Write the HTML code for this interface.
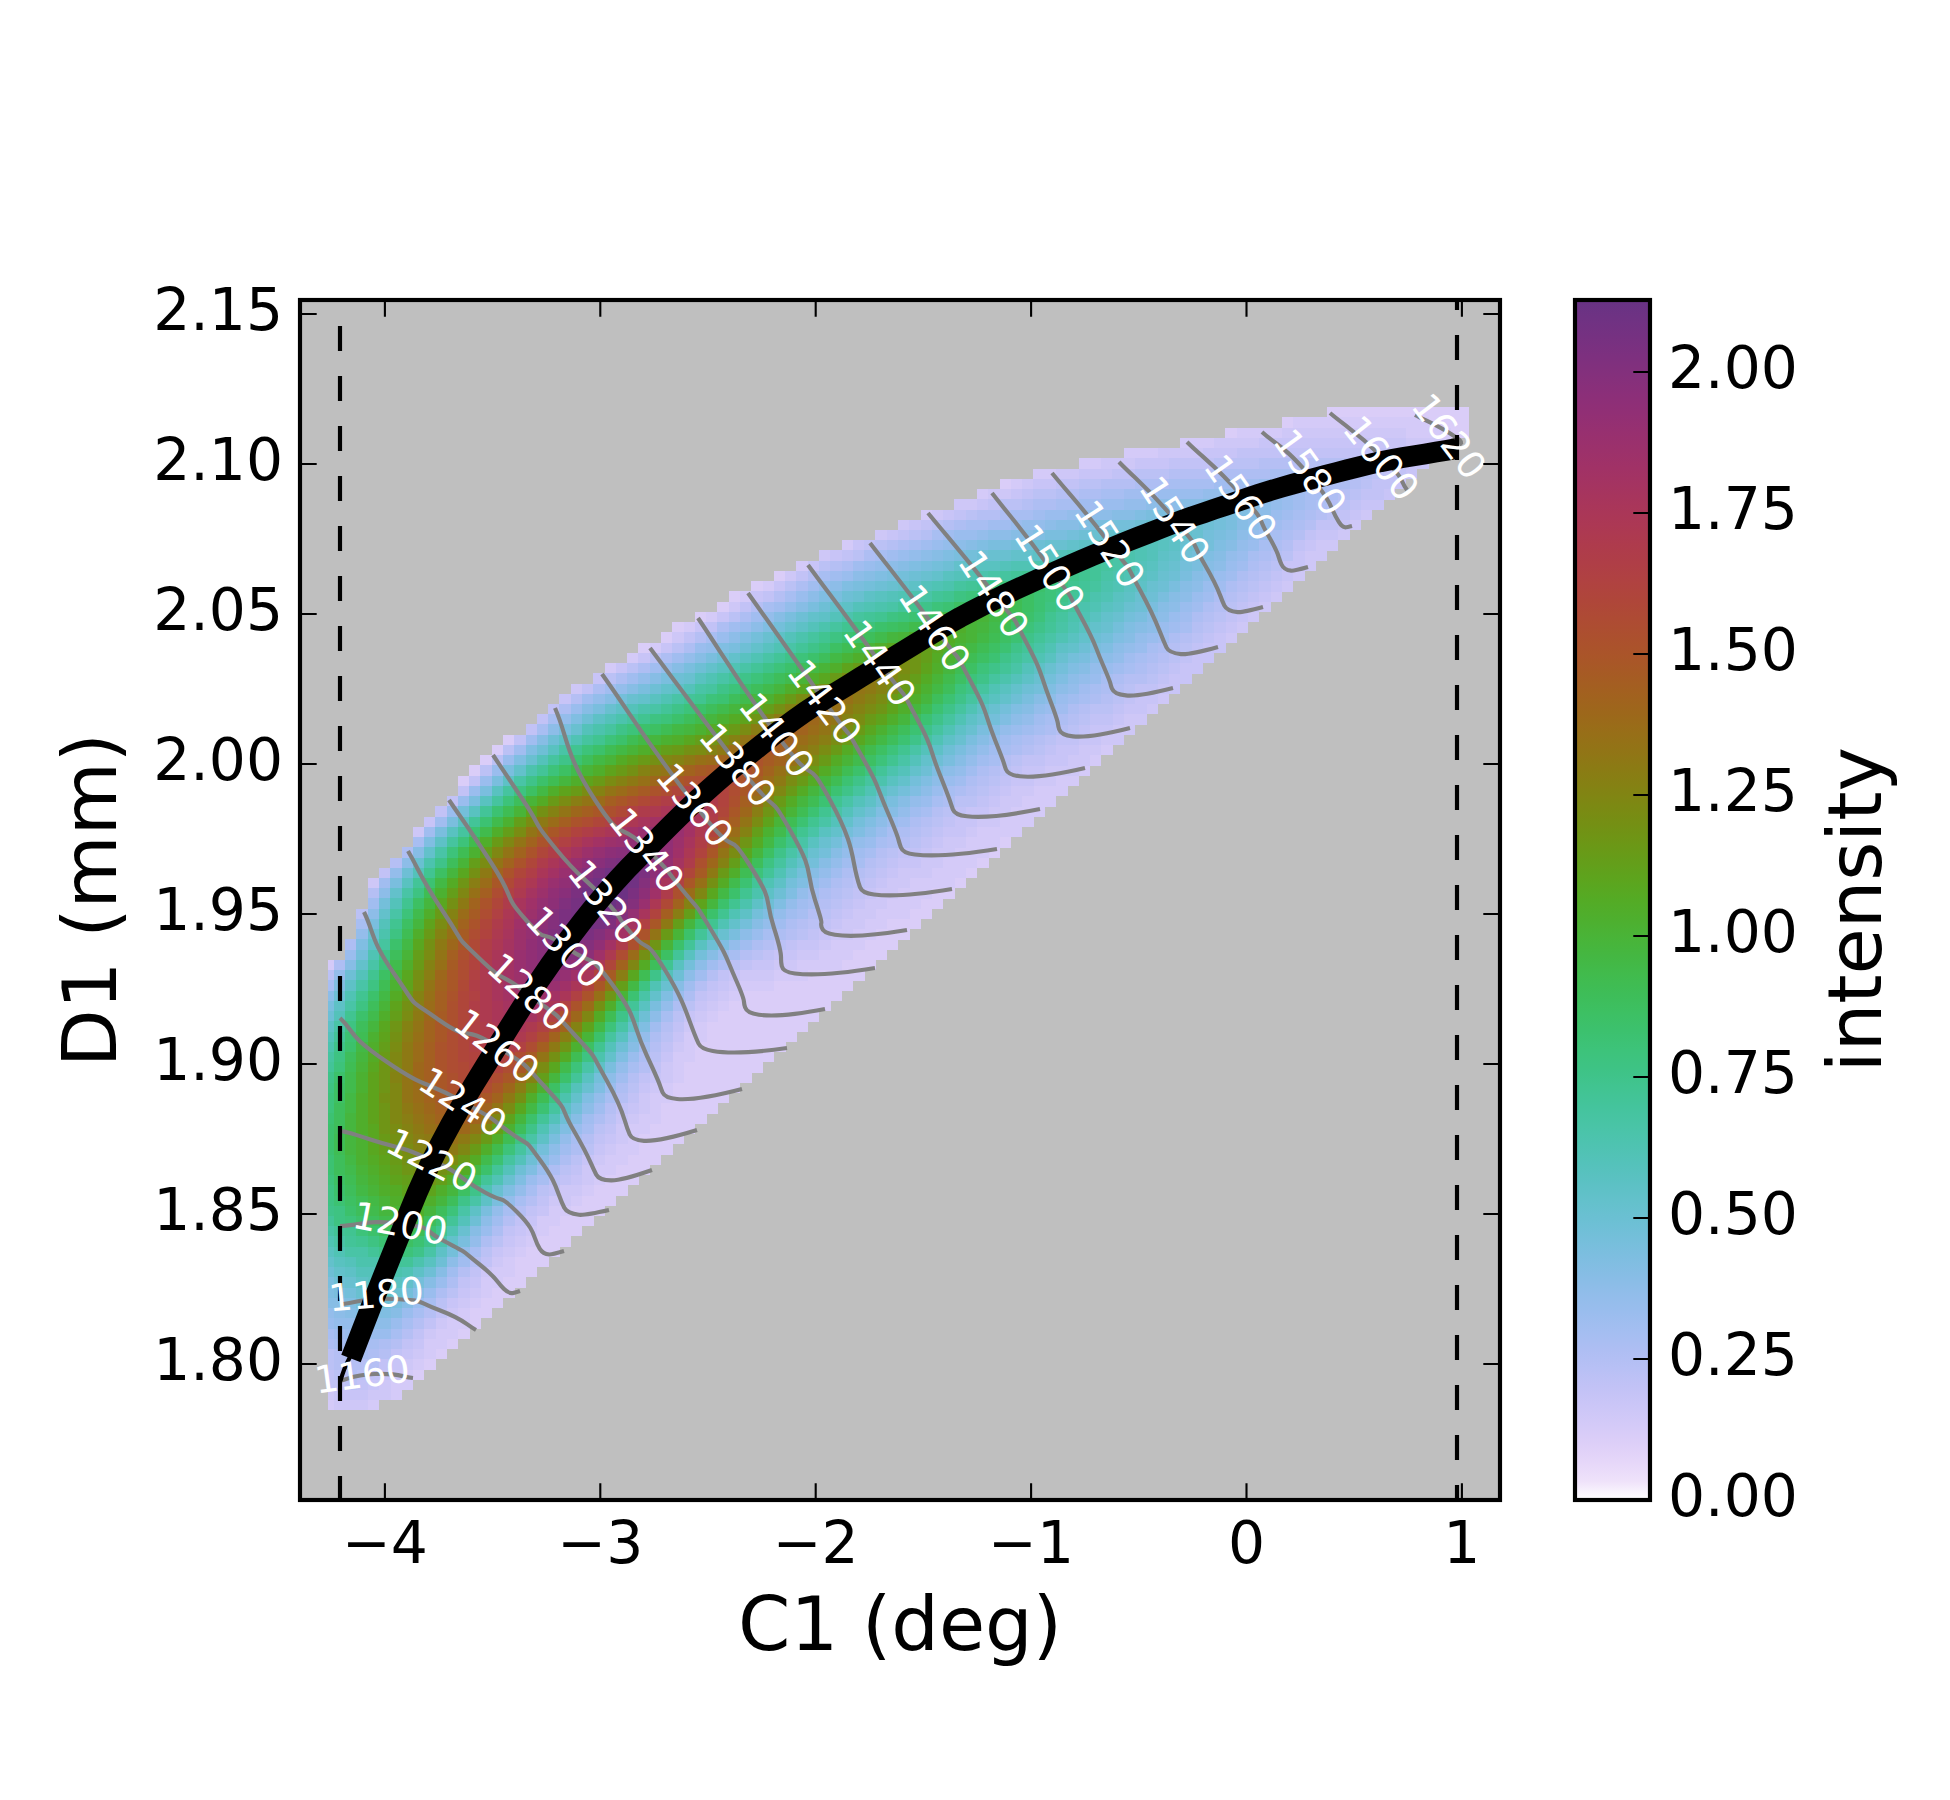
<!DOCTYPE html>
<html><head><meta charset="utf-8"><title>tuning curve</title>
<style>html,body{margin:0;padding:0;background:#fff}svg{display:block}text{font-family:"DejaVu Sans","Liberation Sans",sans-serif}</style>
</head><body>
<svg width="1950" height="1800" viewBox="0 0 1950 1800">
<defs><clipPath id="axc"><rect x="300" y="300" width="1200" height="1200"/></clipPath>
<linearGradient id="cb" x1="0" y1="1" x2="0" y2="0"><stop offset="0.0000" stop-color="#ffffff"/><stop offset="0.0156" stop-color="#efe2fa"/><stop offset="0.0312" stop-color="#e6d7f9"/><stop offset="0.0469" stop-color="#ddcff8"/><stop offset="0.0625" stop-color="#d4caf8"/><stop offset="0.0781" stop-color="#cbc6f7"/><stop offset="0.0938" stop-color="#c2c2f6"/><stop offset="0.1094" stop-color="#b8c0f5"/><stop offset="0.1250" stop-color="#aebef3"/><stop offset="0.1406" stop-color="#a4bef1"/><stop offset="0.1562" stop-color="#9abdee"/><stop offset="0.1719" stop-color="#91bdea"/><stop offset="0.1875" stop-color="#87bde5"/><stop offset="0.2031" stop-color="#7dbee0"/><stop offset="0.2188" stop-color="#74bfda"/><stop offset="0.2344" stop-color="#6bc0d3"/><stop offset="0.2500" stop-color="#63c1cb"/><stop offset="0.2656" stop-color="#5bc1c3"/><stop offset="0.2812" stop-color="#54c2ba"/><stop offset="0.2969" stop-color="#4ec3b0"/><stop offset="0.3125" stop-color="#49c4a6"/><stop offset="0.3281" stop-color="#44c49c"/><stop offset="0.3438" stop-color="#41c491"/><stop offset="0.3594" stop-color="#3ec385"/><stop offset="0.3750" stop-color="#3dc37a"/><stop offset="0.3906" stop-color="#3cc16e"/><stop offset="0.4062" stop-color="#3dc063"/><stop offset="0.4219" stop-color="#3ebd58"/><stop offset="0.4375" stop-color="#41bb4d"/><stop offset="0.4531" stop-color="#44b742"/><stop offset="0.4688" stop-color="#49b438"/><stop offset="0.4844" stop-color="#4eaf2e"/><stop offset="0.5000" stop-color="#54ab25"/><stop offset="0.5156" stop-color="#5ca51e"/><stop offset="0.5312" stop-color="#649e1a"/><stop offset="0.5469" stop-color="#6c9716"/><stop offset="0.5625" stop-color="#749014"/><stop offset="0.5781" stop-color="#7c8913"/><stop offset="0.5938" stop-color="#848213"/><stop offset="0.6094" stop-color="#8b7b14"/><stop offset="0.6250" stop-color="#927416"/><stop offset="0.6406" stop-color="#986e18"/><stop offset="0.6562" stop-color="#9d671b"/><stop offset="0.6719" stop-color="#a2611f"/><stop offset="0.6875" stop-color="#a65b24"/><stop offset="0.7031" stop-color="#aa5529"/><stop offset="0.7188" stop-color="#ac502e"/><stop offset="0.7344" stop-color="#ae4b34"/><stop offset="0.7500" stop-color="#af463a"/><stop offset="0.7656" stop-color="#b04241"/><stop offset="0.7812" stop-color="#af3e47"/><stop offset="0.7969" stop-color="#ae3b4d"/><stop offset="0.8125" stop-color="#ac3854"/><stop offset="0.8281" stop-color="#a9365a"/><stop offset="0.8438" stop-color="#a53460"/><stop offset="0.8594" stop-color="#a13266"/><stop offset="0.8750" stop-color="#9c316b"/><stop offset="0.8906" stop-color="#973070"/><stop offset="0.9062" stop-color="#912f75"/><stop offset="0.9219" stop-color="#8b2f79"/><stop offset="0.9375" stop-color="#84307c"/><stop offset="0.9531" stop-color="#7d307f"/><stop offset="0.9688" stop-color="#763181"/><stop offset="0.9844" stop-color="#6f3283"/><stop offset="1.0000" stop-color="#673384"/></linearGradient></defs>
<rect width="1950" height="1800" fill="#fff"/>
<rect x="300" y="300" width="1200" height="1200" fill="#bfbfbf"/>
<g clip-path="url(#axc)"><g shape-rendering="crispEdges"><path fill="#dacdf8" d="M412.7 1369.2h11.6v10.5h-11.6zM424 1359h11.6v10.5h-11.6zM435.3 1348.7h11.6v10.5h-11.6zM446.6 1338.5h11.6v10.5h-11.6zM457.9 1328.3h11.6v10.5h-11.6zM469.2 1318h11.6v10.5h-11.6zM469.2 1307.8h11.6v10.5h-11.6zM480.4 1307.8h11.6v10.5h-11.6zM480.4 1297.6h11.6v10.5h-11.6zM491.7 1297.6h11.6v10.5h-11.6zM491.7 1287.3h11.6v10.5h-11.6zM503 1287.3h11.6v10.5h-11.6zM503 1277.1h11.6v10.5h-11.6zM514.3 1277.1h11.6v10.5h-11.6zM514.3 1266.9h11.6v10.5h-11.6zM525.6 1266.9h11.6v10.5h-11.6zM514.3 1256.6h11.6v10.5h-11.6zM525.6 1256.6h11.6v10.5h-11.6zM536.9 1256.6h11.6v10.5h-11.6zM525.6 1246.4h11.6v10.5h-11.6zM536.9 1246.4h11.6v10.5h-11.6zM548.2 1246.4h11.6v10.5h-11.6zM536.9 1236.2h11.6v10.5h-11.6zM548.2 1236.2h11.6v10.5h-11.6zM559.4 1236.2h11.6v10.5h-11.6zM548.2 1225.9h11.6v10.5h-11.6zM559.4 1225.9h11.6v10.5h-11.6zM570.7 1225.9h11.6v10.5h-11.6zM559.4 1215.7h11.6v10.5h-11.6zM570.7 1215.7h11.6v10.5h-11.6zM582 1215.7h11.6v10.5h-11.6zM570.7 1205.5h11.6v10.5h-11.6zM582 1205.5h11.6v10.5h-11.6zM593.3 1205.5h11.6v10.5h-11.6zM582 1195.2h11.6v10.5h-11.6zM593.3 1195.2h11.6v10.5h-11.6zM604.6 1195.2h11.6v10.5h-11.6zM593.3 1185h11.6v10.5h-11.6zM604.6 1185h11.6v10.5h-11.6zM615.9 1185h11.6v10.5h-11.6zM604.6 1174.7h11.6v10.5h-11.6zM615.9 1174.7h11.6v10.5h-11.6zM627.2 1174.7h11.6v10.5h-11.6zM615.9 1164.5h11.6v10.5h-11.6zM627.2 1164.5h11.6v10.5h-11.6zM638.4 1164.5h11.6v10.5h-11.6zM627.2 1154.3h11.6v10.5h-11.6zM638.4 1154.3h11.6v10.5h-11.6zM649.7 1154.3h11.6v10.5h-11.6zM638.4 1144h11.6v10.5h-11.6zM649.7 1144h11.6v10.5h-11.6zM661 1144h11.6v10.5h-11.6zM638.4 1133.8h11.6v10.5h-11.6zM649.7 1133.8h11.6v10.5h-11.6zM661 1133.8h11.6v10.5h-11.6zM672.3 1133.8h11.6v10.5h-11.6zM649.7 1123.6h11.6v10.5h-11.6zM661 1123.6h11.6v10.5h-11.6zM672.3 1123.6h11.6v10.5h-11.6zM683.6 1123.6h11.6v10.5h-11.6zM661 1113.3h11.6v10.5h-11.6zM672.3 1113.3h11.6v10.5h-11.6zM683.6 1113.3h11.6v10.5h-11.6zM694.9 1113.3h11.6v10.5h-11.6zM661 1103.1h11.6v10.5h-11.6zM672.3 1103.1h11.6v10.5h-11.6zM683.6 1103.1h11.6v10.5h-11.6zM694.9 1103.1h11.6v10.5h-11.6zM706.1 1103.1h11.6v10.5h-11.6zM672.3 1092.9h11.6v10.5h-11.6zM683.6 1092.9h11.6v10.5h-11.6zM694.9 1092.9h11.6v10.5h-11.6zM706.1 1092.9h11.6v10.5h-11.6zM717.4 1092.9h11.6v10.5h-11.6zM672.3 1082.6h11.6v10.5h-11.6zM683.6 1082.6h11.6v10.5h-11.6zM694.9 1082.6h11.6v10.5h-11.6zM706.1 1082.6h11.6v10.5h-11.6zM717.4 1082.6h11.6v10.5h-11.6zM728.7 1082.6h11.6v10.5h-11.6zM683.6 1072.4h11.6v10.5h-11.6zM694.9 1072.4h11.6v10.5h-11.6zM706.1 1072.4h11.6v10.5h-11.6zM717.4 1072.4h11.6v10.5h-11.6zM728.7 1072.4h11.6v10.5h-11.6zM740 1072.4h11.6v10.5h-11.6zM683.6 1062.2h11.6v10.5h-11.6zM694.9 1062.2h11.6v10.5h-11.6zM706.1 1062.2h11.6v10.5h-11.6zM717.4 1062.2h11.6v10.5h-11.6zM728.7 1062.2h11.6v10.5h-11.6zM740 1062.2h11.6v10.5h-11.6zM751.3 1062.2h11.6v10.5h-11.6zM694.9 1051.9h11.6v10.5h-11.6zM706.1 1051.9h11.6v10.5h-11.6zM717.4 1051.9h11.6v10.5h-11.6zM728.7 1051.9h11.6v10.5h-11.6zM740 1051.9h11.6v10.5h-11.6zM751.3 1051.9h11.6v10.5h-11.6zM762.6 1051.9h11.6v10.5h-11.6zM694.9 1041.7h11.6v10.5h-11.6zM706.1 1041.7h11.6v10.5h-11.6zM717.4 1041.7h11.6v10.5h-11.6zM728.7 1041.7h11.6v10.5h-11.6zM740 1041.7h11.6v10.5h-11.6zM751.3 1041.7h11.6v10.5h-11.6zM762.6 1041.7h11.6v10.5h-11.6zM773.9 1041.7h11.6v10.5h-11.6zM706.1 1031.5h11.6v10.5h-11.6zM717.4 1031.5h11.6v10.5h-11.6zM728.7 1031.5h11.6v10.5h-11.6zM740 1031.5h11.6v10.5h-11.6zM751.3 1031.5h11.6v10.5h-11.6zM762.6 1031.5h11.6v10.5h-11.6zM773.9 1031.5h11.6v10.5h-11.6zM785.1 1031.5h11.6v10.5h-11.6zM706.1 1021.2h11.6v10.5h-11.6zM717.4 1021.2h11.6v10.5h-11.6zM728.7 1021.2h11.6v10.5h-11.6zM740 1021.2h11.6v10.5h-11.6zM751.3 1021.2h11.6v10.5h-11.6zM762.6 1021.2h11.6v10.5h-11.6zM773.9 1021.2h11.6v10.5h-11.6zM785.1 1021.2h11.6v10.5h-11.6zM796.4 1021.2h11.6v10.5h-11.6zM717.4 1011h11.6v10.5h-11.6zM728.7 1011h11.6v10.5h-11.6zM740 1011h11.6v10.5h-11.6zM751.3 1011h11.6v10.5h-11.6zM762.6 1011h11.6v10.5h-11.6zM773.9 1011h11.6v10.5h-11.6zM785.1 1011h11.6v10.5h-11.6zM796.4 1011h11.6v10.5h-11.6zM807.7 1011h11.6v10.5h-11.6zM728.7 1000.8h11.6v10.5h-11.6zM740 1000.8h11.6v10.5h-11.6zM751.3 1000.8h11.6v10.5h-11.6zM762.6 1000.8h11.6v10.5h-11.6zM773.9 1000.8h11.6v10.5h-11.6zM785.1 1000.8h11.6v10.5h-11.6zM796.4 1000.8h11.6v10.5h-11.6zM807.7 1000.8h11.6v10.5h-11.6zM819 1000.8h11.6v10.5h-11.6zM740 990.5h11.6v10.5h-11.6zM751.3 990.5h11.6v10.5h-11.6zM762.6 990.5h11.6v10.5h-11.6zM773.9 990.5h11.6v10.5h-11.6zM785.1 990.5h11.6v10.5h-11.6zM796.4 990.5h11.6v10.5h-11.6zM807.7 990.5h11.6v10.5h-11.6zM819 990.5h11.6v10.5h-11.6zM830.3 990.5h11.6v10.5h-11.6zM773.9 980.3h11.6v10.5h-11.6zM785.1 980.3h11.6v10.5h-11.6zM796.4 980.3h11.6v10.5h-11.6zM807.7 980.3h11.6v10.5h-11.6zM819 980.3h11.6v10.5h-11.6zM830.3 980.3h11.6v10.5h-11.6zM841.6 980.3h11.6v10.5h-11.6zM807.7 970h11.6v10.5h-11.6zM819 970h11.6v10.5h-11.6zM830.3 970h11.6v10.5h-11.6zM841.6 970h11.6v10.5h-11.6zM852.9 970h11.6v10.5h-11.6zM841.6 959.8h11.6v10.5h-11.6zM852.9 959.8h11.6v10.5h-11.6zM864.1 959.8h11.6v10.5h-11.6zM852.9 949.6h11.6v10.5h-11.6zM864.1 949.6h11.6v10.5h-11.6zM875.4 949.6h11.6v10.5h-11.6zM864.1 939.3h11.6v10.5h-11.6zM875.4 939.3h11.6v10.5h-11.6zM886.7 939.3h11.6v10.5h-11.6zM875.4 929.1h11.6v10.5h-11.6zM886.7 929.1h11.6v10.5h-11.6zM898 929.1h11.6v10.5h-11.6zM886.7 918.9h11.6v10.5h-11.6zM898 918.9h11.6v10.5h-11.6zM909.3 918.9h11.6v10.5h-11.6zM909.3 908.6h11.6v10.5h-11.6zM920.6 908.6h11.6v10.5h-11.6zM920.6 898.4h11.6v10.5h-11.6zM931.8 898.4h11.6v10.5h-11.6zM931.8 888.2h11.6v10.5h-11.6zM943.1 888.2h11.6v10.5h-11.6zM954.4 877.9h11.6v10.5h-11.6zM965.7 867.7h11.6v10.5h-11.6zM977 857.5h11.6v10.5h-11.6zM988.3 847.2h11.6v10.5h-11.6zM999.6 837h11.6v10.5h-11.6zM457.9 775.6h11.6v10.5h-11.6zM469.2 765.3h11.6v10.5h-11.6zM480.4 755.1h11.6v10.5h-11.6zM491.7 744.9h11.6v10.5h-11.6zM503 734.6h11.6v10.5h-11.6zM638.4 642.5h11.6v10.5h-11.6zM661 632.3h11.6v10.5h-11.6zM672.3 622.1h11.6v10.5h-11.6zM694.9 611.8h11.6v10.5h-11.6zM717.4 601.6h11.6v10.5h-11.6zM728.7 591.4h11.6v10.5h-11.6zM751.3 581.1h11.6v10.5h-11.6zM773.9 570.9h11.6v10.5h-11.6zM999.6 478.8h11.6v10.5h-11.6zM1225.3 427.6h11.6v10.5h-11.6zM1451 427.6h11.6v10.5h-11.6zM1462.2 427.6h6.4v10.5h-6.4zM1281.7 417.4h11.6v10.5h-11.6zM1428.4 417.4h11.6v10.5h-11.6zM1439.7 417.4h11.6v10.5h-11.6zM1451 417.4h11.6v10.5h-11.6zM1462.2 417.4h6.4v10.5h-6.4zM1326.8 407.1h11.6v10.5h-11.6zM1338.1 407.1h11.6v10.5h-11.6zM1349.4 407.1h11.6v10.5h-11.6zM1360.7 407.1h11.6v10.5h-11.6zM1372 407.1h11.6v10.5h-11.6zM1383.2 407.1h11.6v10.5h-11.6zM1394.5 407.1h11.6v10.5h-11.6zM1405.8 407.1h11.6v10.5h-11.6zM1417.1 407.1h11.6v10.5h-11.6zM1428.4 407.1h11.6v10.5h-11.6zM1439.7 407.1h11.6v10.5h-11.6zM1451 407.1h11.6v10.5h-11.6zM1462.2 407.1h6.4v10.5h-6.4z"/><path fill="#d4caf8" d="M328.1 1399.9h5.9v10.5h-5.9zM367.6 1399.9h11.6v10.5h-11.6zM390.2 1389.7h11.6v10.5h-11.6zM390.2 1379.4h11.6v10.5h-11.6zM401.5 1379.4h11.6v10.5h-11.6zM401.5 1369.2h11.6v10.5h-11.6zM412.7 1359h11.6v10.5h-11.6zM424 1348.7h11.6v10.5h-11.6zM424 1338.5h11.6v10.5h-11.6zM435.3 1338.5h11.6v10.5h-11.6zM435.3 1328.3h11.6v10.5h-11.6zM446.6 1328.3h11.6v10.5h-11.6zM446.6 1318h11.6v10.5h-11.6zM457.9 1318h11.6v10.5h-11.6zM457.9 1307.8h11.6v10.5h-11.6zM469.2 1297.6h11.6v10.5h-11.6zM480.4 1287.3h11.6v10.5h-11.6zM480.4 1277.1h11.6v10.5h-11.6zM491.7 1277.1h11.6v10.5h-11.6zM491.7 1266.9h11.6v10.5h-11.6zM503 1266.9h11.6v10.5h-11.6zM503 1256.6h11.6v10.5h-11.6zM514.3 1246.4h11.6v10.5h-11.6zM525.6 1236.2h11.6v10.5h-11.6zM536.9 1225.9h11.6v10.5h-11.6zM536.9 1215.7h11.6v10.5h-11.6zM548.2 1215.7h11.6v10.5h-11.6zM548.2 1205.5h11.6v10.5h-11.6zM559.4 1205.5h11.6v10.5h-11.6zM570.7 1195.2h11.6v10.5h-11.6zM582 1185h11.6v10.5h-11.6zM593.3 1174.7h11.6v10.5h-11.6zM593.3 1164.5h11.6v10.5h-11.6zM604.6 1164.5h11.6v10.5h-11.6zM604.6 1154.3h11.6v10.5h-11.6zM615.9 1154.3h11.6v10.5h-11.6zM615.9 1144h11.6v10.5h-11.6zM627.2 1144h11.6v10.5h-11.6zM627.2 1133.8h11.6v10.5h-11.6zM627.2 1123.6h11.6v10.5h-11.6zM638.4 1123.6h11.6v10.5h-11.6zM638.4 1113.3h11.6v10.5h-11.6zM649.7 1113.3h11.6v10.5h-11.6zM649.7 1103.1h11.6v10.5h-11.6zM649.7 1092.9h11.6v10.5h-11.6zM661 1092.9h11.6v10.5h-11.6zM661 1082.6h11.6v10.5h-11.6zM672.3 1072.4h11.6v10.5h-11.6zM672.3 1062.2h11.6v10.5h-11.6zM672.3 1051.9h11.6v10.5h-11.6zM683.6 1051.9h11.6v10.5h-11.6zM683.6 1041.7h11.6v10.5h-11.6zM683.6 1031.5h11.6v10.5h-11.6zM694.9 1031.5h11.6v10.5h-11.6zM694.9 1021.2h11.6v10.5h-11.6zM706.1 1011h11.6v10.5h-11.6zM717.4 1000.8h11.6v10.5h-11.6zM728.7 990.5h11.6v10.5h-11.6zM740 980.3h11.6v10.5h-11.6zM751.3 980.3h11.6v10.5h-11.6zM762.6 980.3h11.6v10.5h-11.6zM773.9 970h11.6v10.5h-11.6zM785.1 970h11.6v10.5h-11.6zM796.4 970h11.6v10.5h-11.6zM328.1 959.8h5.9v10.5h-5.9zM796.4 959.8h11.6v10.5h-11.6zM807.7 959.8h11.6v10.5h-11.6zM819 959.8h11.6v10.5h-11.6zM830.3 959.8h11.6v10.5h-11.6zM819 949.6h11.6v10.5h-11.6zM830.3 949.6h11.6v10.5h-11.6zM841.6 949.6h11.6v10.5h-11.6zM830.3 939.3h11.6v10.5h-11.6zM841.6 939.3h11.6v10.5h-11.6zM852.9 939.3h11.6v10.5h-11.6zM852.9 929.1h11.6v10.5h-11.6zM864.1 929.1h11.6v10.5h-11.6zM864.1 918.9h11.6v10.5h-11.6zM875.4 918.9h11.6v10.5h-11.6zM875.4 908.6h11.6v10.5h-11.6zM886.7 908.6h11.6v10.5h-11.6zM898 908.6h11.6v10.5h-11.6zM886.7 898.4h11.6v10.5h-11.6zM898 898.4h11.6v10.5h-11.6zM909.3 898.4h11.6v10.5h-11.6zM898 888.2h11.6v10.5h-11.6zM909.3 888.2h11.6v10.5h-11.6zM920.6 888.2h11.6v10.5h-11.6zM909.3 877.9h11.6v10.5h-11.6zM920.6 877.9h11.6v10.5h-11.6zM931.8 877.9h11.6v10.5h-11.6zM943.1 877.9h11.6v10.5h-11.6zM931.8 867.7h11.6v10.5h-11.6zM943.1 867.7h11.6v10.5h-11.6zM954.4 867.7h11.6v10.5h-11.6zM943.1 857.5h11.6v10.5h-11.6zM954.4 857.5h11.6v10.5h-11.6zM965.7 857.5h11.6v10.5h-11.6zM954.4 847.2h11.6v10.5h-11.6zM965.7 847.2h11.6v10.5h-11.6zM977 847.2h11.6v10.5h-11.6zM965.7 837h11.6v10.5h-11.6zM977 837h11.6v10.5h-11.6zM988.3 837h11.6v10.5h-11.6zM977 826.8h11.6v10.5h-11.6zM988.3 826.8h11.6v10.5h-11.6zM999.6 826.8h11.6v10.5h-11.6zM1010.8 826.8h11.6v10.5h-11.6zM999.6 816.5h11.6v10.5h-11.6zM1010.8 816.5h11.6v10.5h-11.6zM1022.1 816.5h11.6v10.5h-11.6zM1010.8 806.3h11.6v10.5h-11.6zM1022.1 806.3h11.6v10.5h-11.6zM1033.4 806.3h11.6v10.5h-11.6zM1022.1 796.1h11.6v10.5h-11.6zM1033.4 796.1h11.6v10.5h-11.6zM1044.7 796.1h11.6v10.5h-11.6zM1033.4 785.8h11.6v10.5h-11.6zM1044.7 785.8h11.6v10.5h-11.6zM1056 785.8h11.6v10.5h-11.6zM1056 775.6h11.6v10.5h-11.6zM1067.3 775.6h11.6v10.5h-11.6zM1078.6 765.3h11.6v10.5h-11.6zM1089.8 755.1h11.6v10.5h-11.6zM1101.1 744.9h11.6v10.5h-11.6zM604.6 663h11.6v10.5h-11.6zM627.2 652.8h11.6v10.5h-11.6zM649.7 642.5h11.6v10.5h-11.6zM683.6 622.1h11.6v10.5h-11.6zM706.1 611.8h11.6v10.5h-11.6zM740 591.4h11.6v10.5h-11.6zM762.6 581.1h11.6v10.5h-11.6zM796.4 560.6h11.6v10.5h-11.6zM841.6 540.2h11.6v10.5h-11.6zM920.6 509.5h11.6v10.5h-11.6zM977 489h11.6v10.5h-11.6zM1010.8 478.8h11.6v10.5h-11.6zM1033.4 468.5h11.6v10.5h-11.6zM1044.7 468.5h11.6v10.5h-11.6zM1078.6 458.3h11.6v10.5h-11.6zM1089.8 458.3h11.6v10.5h-11.6zM1123.7 448.1h11.6v10.5h-11.6zM1135 448.1h11.6v10.5h-11.6zM1146.3 448.1h11.6v10.5h-11.6zM1180.1 437.8h11.6v10.5h-11.6zM1191.4 437.8h11.6v10.5h-11.6zM1202.7 437.8h11.6v10.5h-11.6zM1439.7 437.8h11.6v10.5h-11.6zM1236.5 427.6h11.6v10.5h-11.6zM1247.8 427.6h11.6v10.5h-11.6zM1259.1 427.6h11.6v10.5h-11.6zM1270.4 427.6h11.6v10.5h-11.6zM1405.8 427.6h11.6v10.5h-11.6zM1417.1 427.6h11.6v10.5h-11.6zM1428.4 427.6h11.6v10.5h-11.6zM1439.7 427.6h11.6v10.5h-11.6zM1293 417.4h11.6v10.5h-11.6zM1304.3 417.4h11.6v10.5h-11.6zM1315.5 417.4h11.6v10.5h-11.6zM1326.8 417.4h11.6v10.5h-11.6zM1338.1 417.4h11.6v10.5h-11.6zM1349.4 417.4h11.6v10.5h-11.6zM1360.7 417.4h11.6v10.5h-11.6zM1372 417.4h11.6v10.5h-11.6zM1383.2 417.4h11.6v10.5h-11.6zM1394.5 417.4h11.6v10.5h-11.6zM1405.8 417.4h11.6v10.5h-11.6zM1417.1 417.4h11.6v10.5h-11.6z"/><path fill="#cec7f7" d="M333.7 1399.9h11.6v10.5h-11.6zM345 1399.9h11.6v10.5h-11.6zM356.3 1399.9h11.6v10.5h-11.6zM328.1 1389.7h5.9v10.5h-5.9zM367.6 1389.7h11.6v10.5h-11.6zM378.9 1389.7h11.6v10.5h-11.6zM378.9 1379.4h11.6v10.5h-11.6zM390.2 1369.2h11.6v10.5h-11.6zM401.5 1359h11.6v10.5h-11.6zM412.7 1348.7h11.6v10.5h-11.6zM424 1328.3h11.6v10.5h-11.6zM435.3 1318h11.6v10.5h-11.6zM446.6 1307.8h11.6v10.5h-11.6zM457.9 1297.6h11.6v10.5h-11.6zM469.2 1287.3h11.6v10.5h-11.6zM480.4 1266.9h11.6v10.5h-11.6zM491.7 1256.6h11.6v10.5h-11.6zM503 1246.4h11.6v10.5h-11.6zM514.3 1236.2h11.6v10.5h-11.6zM525.6 1225.9h11.6v10.5h-11.6zM548.2 1195.2h11.6v10.5h-11.6zM559.4 1195.2h11.6v10.5h-11.6zM559.4 1185h11.6v10.5h-11.6zM570.7 1185h11.6v10.5h-11.6zM582 1174.7h11.6v10.5h-11.6zM582 1164.5h11.6v10.5h-11.6zM593.3 1154.3h11.6v10.5h-11.6zM604.6 1144h11.6v10.5h-11.6zM615.9 1133.8h11.6v10.5h-11.6zM615.9 1123.6h11.6v10.5h-11.6zM627.2 1113.3h11.6v10.5h-11.6zM638.4 1103.1h11.6v10.5h-11.6zM638.4 1092.9h11.6v10.5h-11.6zM649.7 1082.6h11.6v10.5h-11.6zM661 1072.4h11.6v10.5h-11.6zM661 1062.2h11.6v10.5h-11.6zM672.3 1041.7h11.6v10.5h-11.6zM683.6 1021.2h11.6v10.5h-11.6zM694.9 1011h11.6v10.5h-11.6zM706.1 1000.8h11.6v10.5h-11.6zM717.4 990.5h11.6v10.5h-11.6zM728.7 980.3h11.6v10.5h-11.6zM740 970h11.6v10.5h-11.6zM751.3 970h11.6v10.5h-11.6zM762.6 970h11.6v10.5h-11.6zM773.9 959.8h11.6v10.5h-11.6zM785.1 959.8h11.6v10.5h-11.6zM796.4 949.6h11.6v10.5h-11.6zM807.7 949.6h11.6v10.5h-11.6zM819 939.3h11.6v10.5h-11.6zM830.3 929.1h11.6v10.5h-11.6zM841.6 929.1h11.6v10.5h-11.6zM841.6 918.9h11.6v10.5h-11.6zM852.9 918.9h11.6v10.5h-11.6zM852.9 908.6h11.6v10.5h-11.6zM864.1 908.6h11.6v10.5h-11.6zM864.1 898.4h11.6v10.5h-11.6zM875.4 898.4h11.6v10.5h-11.6zM875.4 888.2h11.6v10.5h-11.6zM886.7 888.2h11.6v10.5h-11.6zM367.6 877.9h11.6v10.5h-11.6zM886.7 877.9h11.6v10.5h-11.6zM898 877.9h11.6v10.5h-11.6zM898 867.7h11.6v10.5h-11.6zM909.3 867.7h11.6v10.5h-11.6zM920.6 867.7h11.6v10.5h-11.6zM920.6 857.5h11.6v10.5h-11.6zM931.8 857.5h11.6v10.5h-11.6zM931.8 847.2h11.6v10.5h-11.6zM943.1 847.2h11.6v10.5h-11.6zM943.1 837h11.6v10.5h-11.6zM954.4 837h11.6v10.5h-11.6zM412.7 826.8h11.6v10.5h-11.6zM965.7 826.8h11.6v10.5h-11.6zM977 816.5h11.6v10.5h-11.6zM988.3 816.5h11.6v10.5h-11.6zM988.3 806.3h11.6v10.5h-11.6zM999.6 806.3h11.6v10.5h-11.6zM999.6 796.1h11.6v10.5h-11.6zM1010.8 796.1h11.6v10.5h-11.6zM1010.8 785.8h11.6v10.5h-11.6zM1022.1 785.8h11.6v10.5h-11.6zM1033.4 775.6h11.6v10.5h-11.6zM1044.7 775.6h11.6v10.5h-11.6zM1044.7 765.3h11.6v10.5h-11.6zM1056 765.3h11.6v10.5h-11.6zM1067.3 765.3h11.6v10.5h-11.6zM1067.3 755.1h11.6v10.5h-11.6zM1078.6 755.1h11.6v10.5h-11.6zM1078.6 744.9h11.6v10.5h-11.6zM1089.8 744.9h11.6v10.5h-11.6zM1101.1 734.6h11.6v10.5h-11.6zM1112.4 734.6h11.6v10.5h-11.6zM1112.4 724.4h11.6v10.5h-11.6zM1123.7 724.4h11.6v10.5h-11.6zM1123.7 714.2h11.6v10.5h-11.6zM1135 714.2h11.6v10.5h-11.6zM1146.3 703.9h11.6v10.5h-11.6zM1157.5 693.7h11.6v10.5h-11.6zM570.7 683.5h11.6v10.5h-11.6zM672.3 632.3h11.6v10.5h-11.6zM1225.3 632.3h11.6v10.5h-11.6zM1236.5 622.1h11.6v10.5h-11.6zM1247.8 611.8h11.6v10.5h-11.6zM728.7 601.6h11.6v10.5h-11.6zM1259.1 601.6h11.6v10.5h-11.6zM1270.4 591.4h11.6v10.5h-11.6zM1281.7 581.1h11.6v10.5h-11.6zM785.1 570.9h11.6v10.5h-11.6zM1293 570.9h11.6v10.5h-11.6zM1304.3 560.6h11.6v10.5h-11.6zM819 550.4h11.6v10.5h-11.6zM1304.3 550.4h11.6v10.5h-11.6zM1315.5 550.4h11.6v10.5h-11.6zM1315.5 540.2h11.6v10.5h-11.6zM1326.8 540.2h11.6v10.5h-11.6zM875.4 529.9h11.6v10.5h-11.6zM1338.1 529.9h11.6v10.5h-11.6zM898 519.7h11.6v10.5h-11.6zM1349.4 519.7h11.6v10.5h-11.6zM931.8 509.5h11.6v10.5h-11.6zM1360.7 509.5h11.6v10.5h-11.6zM954.4 499.2h11.6v10.5h-11.6zM965.7 499.2h11.6v10.5h-11.6zM988.3 489h11.6v10.5h-11.6zM999.6 489h11.6v10.5h-11.6zM1022.1 478.8h11.6v10.5h-11.6zM1056 468.5h11.6v10.5h-11.6zM1067.3 468.5h11.6v10.5h-11.6zM1101.1 458.3h11.6v10.5h-11.6zM1112.4 458.3h11.6v10.5h-11.6zM1123.7 458.3h11.6v10.5h-11.6zM1157.5 448.1h11.6v10.5h-11.6zM1168.8 448.1h11.6v10.5h-11.6zM1180.1 448.1h11.6v10.5h-11.6zM1191.4 448.1h11.6v10.5h-11.6zM1428.4 448.1h11.6v10.5h-11.6zM1214 437.8h11.6v10.5h-11.6zM1225.3 437.8h11.6v10.5h-11.6zM1236.5 437.8h11.6v10.5h-11.6zM1247.8 437.8h11.6v10.5h-11.6zM1405.8 437.8h11.6v10.5h-11.6zM1417.1 437.8h11.6v10.5h-11.6zM1428.4 437.8h11.6v10.5h-11.6zM1281.7 427.6h11.6v10.5h-11.6zM1293 427.6h11.6v10.5h-11.6zM1304.3 427.6h11.6v10.5h-11.6zM1315.5 427.6h11.6v10.5h-11.6zM1326.8 427.6h11.6v10.5h-11.6zM1338.1 427.6h11.6v10.5h-11.6zM1349.4 427.6h11.6v10.5h-11.6zM1360.7 427.6h11.6v10.5h-11.6zM1372 427.6h11.6v10.5h-11.6zM1383.2 427.6h11.6v10.5h-11.6zM1394.5 427.6h11.6v10.5h-11.6z"/><path fill="#c8c4f7" d="M333.7 1389.7h11.6v10.5h-11.6zM345 1389.7h11.6v10.5h-11.6zM356.3 1389.7h11.6v10.5h-11.6zM367.6 1379.4h11.6v10.5h-11.6zM378.9 1369.2h11.6v10.5h-11.6zM390.2 1359h11.6v10.5h-11.6zM401.5 1348.7h11.6v10.5h-11.6zM412.7 1338.5h11.6v10.5h-11.6zM446.6 1297.6h11.6v10.5h-11.6zM457.9 1287.3h11.6v10.5h-11.6zM469.2 1277.1h11.6v10.5h-11.6zM491.7 1246.4h11.6v10.5h-11.6zM503 1236.2h11.6v10.5h-11.6zM514.3 1225.9h11.6v10.5h-11.6zM525.6 1215.7h11.6v10.5h-11.6zM536.9 1205.5h11.6v10.5h-11.6zM570.7 1174.7h11.6v10.5h-11.6zM582 1154.3h11.6v10.5h-11.6zM593.3 1144h11.6v10.5h-11.6zM604.6 1133.8h11.6v10.5h-11.6zM615.9 1113.3h11.6v10.5h-11.6zM627.2 1103.1h11.6v10.5h-11.6zM638.4 1082.6h11.6v10.5h-11.6zM649.7 1072.4h11.6v10.5h-11.6zM661 1051.9h11.6v10.5h-11.6zM672.3 1031.5h11.6v10.5h-11.6zM683.6 1011h11.6v10.5h-11.6zM694.9 1000.8h11.6v10.5h-11.6zM706.1 990.5h11.6v10.5h-11.6zM717.4 980.3h11.6v10.5h-11.6zM728.7 970h11.6v10.5h-11.6zM751.3 959.8h11.6v10.5h-11.6zM762.6 959.8h11.6v10.5h-11.6zM773.9 949.6h11.6v10.5h-11.6zM785.1 949.6h11.6v10.5h-11.6zM796.4 939.3h11.6v10.5h-11.6zM807.7 939.3h11.6v10.5h-11.6zM819 929.1h11.6v10.5h-11.6zM830.3 918.9h11.6v10.5h-11.6zM841.6 908.6h11.6v10.5h-11.6zM852.9 898.4h11.6v10.5h-11.6zM864.1 888.2h11.6v10.5h-11.6zM875.4 877.9h11.6v10.5h-11.6zM886.7 867.7h11.6v10.5h-11.6zM898 857.5h11.6v10.5h-11.6zM909.3 857.5h11.6v10.5h-11.6zM920.6 847.2h11.6v10.5h-11.6zM931.8 837h11.6v10.5h-11.6zM943.1 826.8h11.6v10.5h-11.6zM954.4 826.8h11.6v10.5h-11.6zM424 816.5h11.6v10.5h-11.6zM954.4 816.5h11.6v10.5h-11.6zM965.7 816.5h11.6v10.5h-11.6zM965.7 806.3h11.6v10.5h-11.6zM977 806.3h11.6v10.5h-11.6zM988.3 796.1h11.6v10.5h-11.6zM999.6 785.8h11.6v10.5h-11.6zM1010.8 775.6h11.6v10.5h-11.6zM1022.1 775.6h11.6v10.5h-11.6zM1022.1 765.3h11.6v10.5h-11.6zM1033.4 765.3h11.6v10.5h-11.6zM1044.7 755.1h11.6v10.5h-11.6zM1056 755.1h11.6v10.5h-11.6zM1056 744.9h11.6v10.5h-11.6zM1067.3 744.9h11.6v10.5h-11.6zM1078.6 734.6h11.6v10.5h-11.6zM1089.8 734.6h11.6v10.5h-11.6zM1089.8 724.4h11.6v10.5h-11.6zM1101.1 724.4h11.6v10.5h-11.6zM1112.4 714.2h11.6v10.5h-11.6zM1123.7 703.9h11.6v10.5h-11.6zM1135 703.9h11.6v10.5h-11.6zM559.4 693.7h11.6v10.5h-11.6zM1135 693.7h11.6v10.5h-11.6zM1146.3 693.7h11.6v10.5h-11.6zM1157.5 683.5h11.6v10.5h-11.6zM1168.8 683.5h11.6v10.5h-11.6zM593.3 673.2h11.6v10.5h-11.6zM1168.8 673.2h11.6v10.5h-11.6zM1180.1 673.2h11.6v10.5h-11.6zM615.9 663h11.6v10.5h-11.6zM1180.1 663h11.6v10.5h-11.6zM1191.4 663h11.6v10.5h-11.6zM638.4 652.8h11.6v10.5h-11.6zM1191.4 652.8h11.6v10.5h-11.6zM1202.7 652.8h11.6v10.5h-11.6zM661 642.5h11.6v10.5h-11.6zM1202.7 642.5h11.6v10.5h-11.6zM1214 642.5h11.6v10.5h-11.6zM1214 632.3h11.6v10.5h-11.6zM694.9 622.1h11.6v10.5h-11.6zM1225.3 622.1h11.6v10.5h-11.6zM717.4 611.8h11.6v10.5h-11.6zM1236.5 611.8h11.6v10.5h-11.6zM1247.8 601.6h11.6v10.5h-11.6zM751.3 591.4h11.6v10.5h-11.6zM1259.1 591.4h11.6v10.5h-11.6zM773.9 581.1h11.6v10.5h-11.6zM1270.4 581.1h11.6v10.5h-11.6zM1281.7 570.9h11.6v10.5h-11.6zM807.7 560.6h11.6v10.5h-11.6zM1281.7 560.6h11.6v10.5h-11.6zM1293 560.6h11.6v10.5h-11.6zM830.3 550.4h11.6v10.5h-11.6zM1293 550.4h11.6v10.5h-11.6zM852.9 540.2h11.6v10.5h-11.6zM1304.3 540.2h11.6v10.5h-11.6zM886.7 529.9h11.6v10.5h-11.6zM1315.5 529.9h11.6v10.5h-11.6zM1326.8 529.9h11.6v10.5h-11.6zM909.3 519.7h11.6v10.5h-11.6zM1338.1 519.7h11.6v10.5h-11.6zM943.1 509.5h11.6v10.5h-11.6zM1349.4 509.5h11.6v10.5h-11.6zM977 499.2h11.6v10.5h-11.6zM1360.7 499.2h11.6v10.5h-11.6zM1372 499.2h11.6v10.5h-11.6zM1010.8 489h11.6v10.5h-11.6zM1383.2 489h11.6v10.5h-11.6zM1033.4 478.8h11.6v10.5h-11.6zM1044.7 478.8h11.6v10.5h-11.6zM1394.5 478.8h11.6v10.5h-11.6zM1078.6 468.5h11.6v10.5h-11.6zM1089.8 468.5h11.6v10.5h-11.6zM1101.1 468.5h11.6v10.5h-11.6zM1405.8 468.5h11.6v10.5h-11.6zM1135 458.3h11.6v10.5h-11.6zM1146.3 458.3h11.6v10.5h-11.6zM1157.5 458.3h11.6v10.5h-11.6zM1405.8 458.3h11.6v10.5h-11.6zM1417.1 458.3h11.6v10.5h-11.6zM1202.7 448.1h11.6v10.5h-11.6zM1214 448.1h11.6v10.5h-11.6zM1225.3 448.1h11.6v10.5h-11.6zM1405.8 448.1h11.6v10.5h-11.6zM1417.1 448.1h11.6v10.5h-11.6zM1259.1 437.8h11.6v10.5h-11.6zM1270.4 437.8h11.6v10.5h-11.6zM1281.7 437.8h11.6v10.5h-11.6zM1293 437.8h11.6v10.5h-11.6zM1304.3 437.8h11.6v10.5h-11.6zM1315.5 437.8h11.6v10.5h-11.6zM1326.8 437.8h11.6v10.5h-11.6zM1338.1 437.8h11.6v10.5h-11.6zM1349.4 437.8h11.6v10.5h-11.6zM1360.7 437.8h11.6v10.5h-11.6zM1372 437.8h11.6v10.5h-11.6zM1383.2 437.8h11.6v10.5h-11.6zM1394.5 437.8h11.6v10.5h-11.6z"/><path fill="#c2c2f6" d="M328.1 1379.4h5.9v10.5h-5.9zM333.7 1379.4h11.6v10.5h-11.6zM356.3 1379.4h11.6v10.5h-11.6zM328.1 1369.2h5.9v10.5h-5.9zM367.6 1369.2h11.6v10.5h-11.6zM378.9 1359h11.6v10.5h-11.6zM390.2 1348.7h11.6v10.5h-11.6zM401.5 1338.5h11.6v10.5h-11.6zM412.7 1328.3h11.6v10.5h-11.6zM424 1318h11.6v10.5h-11.6zM435.3 1307.8h11.6v10.5h-11.6zM457.9 1277.1h11.6v10.5h-11.6zM469.2 1266.9h11.6v10.5h-11.6zM480.4 1256.6h11.6v10.5h-11.6zM503 1225.9h11.6v10.5h-11.6zM514.3 1215.7h11.6v10.5h-11.6zM525.6 1205.5h11.6v10.5h-11.6zM536.9 1195.2h11.6v10.5h-11.6zM548.2 1185h11.6v10.5h-11.6zM559.4 1174.7h11.6v10.5h-11.6zM570.7 1164.5h11.6v10.5h-11.6zM593.3 1133.8h11.6v10.5h-11.6zM604.6 1123.6h11.6v10.5h-11.6zM615.9 1103.1h11.6v10.5h-11.6zM627.2 1092.9h11.6v10.5h-11.6zM638.4 1072.4h11.6v10.5h-11.6zM649.7 1062.2h11.6v10.5h-11.6zM661 1041.7h11.6v10.5h-11.6zM672.3 1021.2h11.6v10.5h-11.6zM694.9 990.5h11.6v10.5h-11.6zM706.1 980.3h11.6v10.5h-11.6zM717.4 970h11.6v10.5h-11.6zM740 959.8h11.6v10.5h-11.6zM762.6 949.6h11.6v10.5h-11.6zM785.1 939.3h11.6v10.5h-11.6zM807.7 929.1h11.6v10.5h-11.6zM819 918.9h11.6v10.5h-11.6zM830.3 908.6h11.6v10.5h-11.6zM841.6 898.4h11.6v10.5h-11.6zM852.9 888.2h11.6v10.5h-11.6zM864.1 877.9h11.6v10.5h-11.6zM378.9 867.7h11.6v10.5h-11.6zM875.4 867.7h11.6v10.5h-11.6zM886.7 857.5h11.6v10.5h-11.6zM898 847.2h11.6v10.5h-11.6zM909.3 847.2h11.6v10.5h-11.6zM920.6 837h11.6v10.5h-11.6zM931.8 826.8h11.6v10.5h-11.6zM943.1 816.5h11.6v10.5h-11.6zM435.3 806.3h11.6v10.5h-11.6zM954.4 806.3h11.6v10.5h-11.6zM446.6 796.1h11.6v10.5h-11.6zM977 796.1h11.6v10.5h-11.6zM457.9 785.8h11.6v10.5h-11.6zM988.3 785.8h11.6v10.5h-11.6zM469.2 775.6h11.6v10.5h-11.6zM999.6 775.6h11.6v10.5h-11.6zM1010.8 765.3h11.6v10.5h-11.6zM1022.1 755.1h11.6v10.5h-11.6zM1033.4 755.1h11.6v10.5h-11.6zM1044.7 744.9h11.6v10.5h-11.6zM514.3 734.6h11.6v10.5h-11.6zM1056 734.6h11.6v10.5h-11.6zM1067.3 734.6h11.6v10.5h-11.6zM525.6 724.4h11.6v10.5h-11.6zM1078.6 724.4h11.6v10.5h-11.6zM536.9 714.2h11.6v10.5h-11.6zM1089.8 714.2h11.6v10.5h-11.6zM1101.1 714.2h11.6v10.5h-11.6zM548.2 703.9h11.6v10.5h-11.6zM1112.4 703.9h11.6v10.5h-11.6zM1123.7 693.7h11.6v10.5h-11.6zM582 683.5h11.6v10.5h-11.6zM1135 683.5h11.6v10.5h-11.6zM1146.3 683.5h11.6v10.5h-11.6zM1157.5 673.2h11.6v10.5h-11.6zM1168.8 663h11.6v10.5h-11.6zM1180.1 652.8h11.6v10.5h-11.6zM1191.4 642.5h11.6v10.5h-11.6zM683.6 632.3h11.6v10.5h-11.6zM1202.7 632.3h11.6v10.5h-11.6zM706.1 622.1h11.6v10.5h-11.6zM1214 622.1h11.6v10.5h-11.6zM1225.3 611.8h11.6v10.5h-11.6zM740 601.6h11.6v10.5h-11.6zM1236.5 601.6h11.6v10.5h-11.6zM762.6 591.4h11.6v10.5h-11.6zM1247.8 591.4h11.6v10.5h-11.6zM1259.1 581.1h11.6v10.5h-11.6zM796.4 570.9h11.6v10.5h-11.6zM1270.4 570.9h11.6v10.5h-11.6zM841.6 550.4h11.6v10.5h-11.6zM864.1 540.2h11.6v10.5h-11.6zM1293 540.2h11.6v10.5h-11.6zM898 529.9h11.6v10.5h-11.6zM1304.3 529.9h11.6v10.5h-11.6zM920.6 519.7h11.6v10.5h-11.6zM1315.5 519.7h11.6v10.5h-11.6zM1326.8 519.7h11.6v10.5h-11.6zM954.4 509.5h11.6v10.5h-11.6zM1338.1 509.5h11.6v10.5h-11.6zM988.3 499.2h11.6v10.5h-11.6zM1349.4 499.2h11.6v10.5h-11.6zM1022.1 489h11.6v10.5h-11.6zM1360.7 489h11.6v10.5h-11.6zM1372 489h11.6v10.5h-11.6zM1056 478.8h11.6v10.5h-11.6zM1067.3 478.8h11.6v10.5h-11.6zM1372 478.8h11.6v10.5h-11.6zM1383.2 478.8h11.6v10.5h-11.6zM1112.4 468.5h11.6v10.5h-11.6zM1123.7 468.5h11.6v10.5h-11.6zM1383.2 468.5h11.6v10.5h-11.6zM1394.5 468.5h11.6v10.5h-11.6zM1168.8 458.3h11.6v10.5h-11.6zM1180.1 458.3h11.6v10.5h-11.6zM1191.4 458.3h11.6v10.5h-11.6zM1202.7 458.3h11.6v10.5h-11.6zM1394.5 458.3h11.6v10.5h-11.6zM1236.5 448.1h11.6v10.5h-11.6zM1247.8 448.1h11.6v10.5h-11.6zM1259.1 448.1h11.6v10.5h-11.6zM1270.4 448.1h11.6v10.5h-11.6zM1281.7 448.1h11.6v10.5h-11.6zM1293 448.1h11.6v10.5h-11.6zM1304.3 448.1h11.6v10.5h-11.6zM1315.5 448.1h11.6v10.5h-11.6zM1326.8 448.1h11.6v10.5h-11.6zM1338.1 448.1h11.6v10.5h-11.6zM1349.4 448.1h11.6v10.5h-11.6zM1360.7 448.1h11.6v10.5h-11.6zM1372 448.1h11.6v10.5h-11.6zM1383.2 448.1h11.6v10.5h-11.6zM1394.5 448.1h11.6v10.5h-11.6z"/><path fill="#bbc1f5" d="M345 1379.4h11.6v10.5h-11.6zM333.7 1369.2h11.6v10.5h-11.6zM356.3 1369.2h11.6v10.5h-11.6zM328.1 1359h5.9v10.5h-5.9zM328.1 1348.7h5.9v10.5h-5.9zM435.3 1297.6h11.6v10.5h-11.6zM446.6 1287.3h11.6v10.5h-11.6zM480.4 1246.4h11.6v10.5h-11.6zM491.7 1236.2h11.6v10.5h-11.6zM536.9 1185h11.6v10.5h-11.6zM548.2 1174.7h11.6v10.5h-11.6zM559.4 1164.5h11.6v10.5h-11.6zM570.7 1154.3h11.6v10.5h-11.6zM582 1144h11.6v10.5h-11.6zM593.3 1123.6h11.6v10.5h-11.6zM604.6 1113.3h11.6v10.5h-11.6zM627.2 1082.6h11.6v10.5h-11.6zM649.7 1051.9h11.6v10.5h-11.6zM661 1031.5h11.6v10.5h-11.6zM672.3 1011h11.6v10.5h-11.6zM683.6 1000.8h11.6v10.5h-11.6zM328.1 970h5.9v10.5h-5.9zM728.7 959.8h11.6v10.5h-11.6zM751.3 949.6h11.6v10.5h-11.6zM773.9 939.3h11.6v10.5h-11.6zM796.4 929.1h11.6v10.5h-11.6zM807.7 918.9h11.6v10.5h-11.6zM356.3 908.6h11.6v10.5h-11.6zM819 908.6h11.6v10.5h-11.6zM830.3 898.4h11.6v10.5h-11.6zM841.6 888.2h11.6v10.5h-11.6zM852.9 877.9h11.6v10.5h-11.6zM864.1 867.7h11.6v10.5h-11.6zM875.4 857.5h11.6v10.5h-11.6zM886.7 847.2h11.6v10.5h-11.6zM909.3 837h11.6v10.5h-11.6zM920.6 826.8h11.6v10.5h-11.6zM931.8 816.5h11.6v10.5h-11.6zM943.1 806.3h11.6v10.5h-11.6zM954.4 796.1h11.6v10.5h-11.6zM965.7 796.1h11.6v10.5h-11.6zM977 785.8h11.6v10.5h-11.6zM988.3 775.6h11.6v10.5h-11.6zM480.4 765.3h11.6v10.5h-11.6zM999.6 765.3h11.6v10.5h-11.6zM491.7 755.1h11.6v10.5h-11.6zM1010.8 755.1h11.6v10.5h-11.6zM503 744.9h11.6v10.5h-11.6zM1033.4 744.9h11.6v10.5h-11.6zM1044.7 734.6h11.6v10.5h-11.6zM1067.3 724.4h11.6v10.5h-11.6zM1078.6 714.2h11.6v10.5h-11.6zM1089.8 703.9h11.6v10.5h-11.6zM1101.1 703.9h11.6v10.5h-11.6zM1112.4 693.7h11.6v10.5h-11.6zM1123.7 683.5h11.6v10.5h-11.6zM604.6 673.2h11.6v10.5h-11.6zM1146.3 673.2h11.6v10.5h-11.6zM627.2 663h11.6v10.5h-11.6zM1157.5 663h11.6v10.5h-11.6zM649.7 652.8h11.6v10.5h-11.6zM1168.8 652.8h11.6v10.5h-11.6zM672.3 642.5h11.6v10.5h-11.6zM1180.1 642.5h11.6v10.5h-11.6zM1191.4 632.3h11.6v10.5h-11.6zM1202.7 622.1h11.6v10.5h-11.6zM728.7 611.8h11.6v10.5h-11.6zM1214 611.8h11.6v10.5h-11.6zM1225.3 601.6h11.6v10.5h-11.6zM1236.5 591.4h11.6v10.5h-11.6zM785.1 581.1h11.6v10.5h-11.6zM1247.8 581.1h11.6v10.5h-11.6zM1259.1 570.9h11.6v10.5h-11.6zM819 560.6h11.6v10.5h-11.6zM1270.4 560.6h11.6v10.5h-11.6zM852.9 550.4h11.6v10.5h-11.6zM1281.7 550.4h11.6v10.5h-11.6zM875.4 540.2h11.6v10.5h-11.6zM909.3 529.9h11.6v10.5h-11.6zM931.8 519.7h11.6v10.5h-11.6zM965.7 509.5h11.6v10.5h-11.6zM1326.8 509.5h11.6v10.5h-11.6zM999.6 499.2h11.6v10.5h-11.6zM1010.8 499.2h11.6v10.5h-11.6zM1338.1 499.2h11.6v10.5h-11.6zM1033.4 489h11.6v10.5h-11.6zM1044.7 489h11.6v10.5h-11.6zM1349.4 489h11.6v10.5h-11.6zM1078.6 478.8h11.6v10.5h-11.6zM1089.8 478.8h11.6v10.5h-11.6zM1360.7 478.8h11.6v10.5h-11.6zM1135 468.5h11.6v10.5h-11.6zM1146.3 468.5h11.6v10.5h-11.6zM1157.5 468.5h11.6v10.5h-11.6zM1372 468.5h11.6v10.5h-11.6zM1214 458.3h11.6v10.5h-11.6zM1225.3 458.3h11.6v10.5h-11.6zM1236.5 458.3h11.6v10.5h-11.6zM1247.8 458.3h11.6v10.5h-11.6zM1372 458.3h11.6v10.5h-11.6zM1383.2 458.3h11.6v10.5h-11.6z"/><path fill="#b5bff4" d="M345 1369.2h11.6v10.5h-11.6zM333.7 1359h11.6v10.5h-11.6zM345 1359h11.6v10.5h-11.6zM356.3 1359h11.6v10.5h-11.6zM367.6 1359h11.6v10.5h-11.6zM333.7 1348.7h11.6v10.5h-11.6zM378.9 1348.7h11.6v10.5h-11.6zM390.2 1338.5h11.6v10.5h-11.6zM401.5 1328.3h11.6v10.5h-11.6zM412.7 1318h11.6v10.5h-11.6zM424 1307.8h11.6v10.5h-11.6zM457.9 1266.9h11.6v10.5h-11.6zM469.2 1256.6h11.6v10.5h-11.6zM503 1215.7h11.6v10.5h-11.6zM514.3 1205.5h11.6v10.5h-11.6zM525.6 1195.2h11.6v10.5h-11.6zM582 1133.8h11.6v10.5h-11.6zM604.6 1103.1h11.6v10.5h-11.6zM615.9 1092.9h11.6v10.5h-11.6zM627.2 1072.4h11.6v10.5h-11.6zM638.4 1062.2h11.6v10.5h-11.6zM649.7 1041.7h11.6v10.5h-11.6zM661 1021.2h11.6v10.5h-11.6zM694.9 980.3h11.6v10.5h-11.6zM706.1 970h11.6v10.5h-11.6zM740 949.6h11.6v10.5h-11.6zM762.6 939.3h11.6v10.5h-11.6zM785.1 929.1h11.6v10.5h-11.6zM796.4 918.9h11.6v10.5h-11.6zM807.7 908.6h11.6v10.5h-11.6zM819 898.4h11.6v10.5h-11.6zM367.6 888.2h11.6v10.5h-11.6zM830.3 888.2h11.6v10.5h-11.6zM841.6 877.9h11.6v10.5h-11.6zM852.9 867.7h11.6v10.5h-11.6zM390.2 857.5h11.6v10.5h-11.6zM864.1 857.5h11.6v10.5h-11.6zM875.4 847.2h11.6v10.5h-11.6zM898 837h11.6v10.5h-11.6zM909.3 826.8h11.6v10.5h-11.6zM920.6 816.5h11.6v10.5h-11.6zM931.8 806.3h11.6v10.5h-11.6zM965.7 785.8h11.6v10.5h-11.6zM977 775.6h11.6v10.5h-11.6zM988.3 765.3h11.6v10.5h-11.6zM999.6 755.1h11.6v10.5h-11.6zM1022.1 744.9h11.6v10.5h-11.6zM1033.4 734.6h11.6v10.5h-11.6zM1056 724.4h11.6v10.5h-11.6zM1067.3 714.2h11.6v10.5h-11.6zM1078.6 703.9h11.6v10.5h-11.6zM570.7 693.7h11.6v10.5h-11.6zM1101.1 693.7h11.6v10.5h-11.6zM1112.4 683.5h11.6v10.5h-11.6zM1123.7 673.2h11.6v10.5h-11.6zM1135 673.2h11.6v10.5h-11.6zM1146.3 663h11.6v10.5h-11.6zM1157.5 652.8h11.6v10.5h-11.6zM1168.8 642.5h11.6v10.5h-11.6zM694.9 632.3h11.6v10.5h-11.6zM1180.1 632.3h11.6v10.5h-11.6zM1191.4 622.1h11.6v10.5h-11.6zM1202.7 611.8h11.6v10.5h-11.6zM751.3 601.6h11.6v10.5h-11.6zM1214 601.6h11.6v10.5h-11.6zM773.9 591.4h11.6v10.5h-11.6zM1225.3 591.4h11.6v10.5h-11.6zM1236.5 581.1h11.6v10.5h-11.6zM807.7 570.9h11.6v10.5h-11.6zM1247.8 570.9h11.6v10.5h-11.6zM830.3 560.6h11.6v10.5h-11.6zM1259.1 560.6h11.6v10.5h-11.6zM1270.4 550.4h11.6v10.5h-11.6zM886.7 540.2h11.6v10.5h-11.6zM1281.7 540.2h11.6v10.5h-11.6zM920.6 529.9h11.6v10.5h-11.6zM1293 529.9h11.6v10.5h-11.6zM943.1 519.7h11.6v10.5h-11.6zM1304.3 519.7h11.6v10.5h-11.6zM977 509.5h11.6v10.5h-11.6zM988.3 509.5h11.6v10.5h-11.6zM1315.5 509.5h11.6v10.5h-11.6zM1022.1 499.2h11.6v10.5h-11.6zM1326.8 499.2h11.6v10.5h-11.6zM1056 489h11.6v10.5h-11.6zM1067.3 489h11.6v10.5h-11.6zM1338.1 489h11.6v10.5h-11.6zM1101.1 478.8h11.6v10.5h-11.6zM1112.4 478.8h11.6v10.5h-11.6zM1123.7 478.8h11.6v10.5h-11.6zM1349.4 478.8h11.6v10.5h-11.6zM1168.8 468.5h11.6v10.5h-11.6zM1180.1 468.5h11.6v10.5h-11.6zM1191.4 468.5h11.6v10.5h-11.6zM1202.7 468.5h11.6v10.5h-11.6zM1349.4 468.5h11.6v10.5h-11.6zM1360.7 468.5h11.6v10.5h-11.6zM1259.1 458.3h11.6v10.5h-11.6zM1270.4 458.3h11.6v10.5h-11.6zM1281.7 458.3h11.6v10.5h-11.6zM1293 458.3h11.6v10.5h-11.6zM1304.3 458.3h11.6v10.5h-11.6zM1315.5 458.3h11.6v10.5h-11.6zM1326.8 458.3h11.6v10.5h-11.6zM1338.1 458.3h11.6v10.5h-11.6zM1349.4 458.3h11.6v10.5h-11.6zM1360.7 458.3h11.6v10.5h-11.6z"/><path fill="#aebef3" d="M345 1348.7h11.6v10.5h-11.6zM367.6 1348.7h11.6v10.5h-11.6zM328.1 1338.5h5.9v10.5h-5.9zM378.9 1338.5h11.6v10.5h-11.6zM435.3 1287.3h11.6v10.5h-11.6zM446.6 1277.1h11.6v10.5h-11.6zM480.4 1236.2h11.6v10.5h-11.6zM491.7 1225.9h11.6v10.5h-11.6zM548.2 1164.5h11.6v10.5h-11.6zM559.4 1154.3h11.6v10.5h-11.6zM570.7 1144h11.6v10.5h-11.6zM593.3 1113.3h11.6v10.5h-11.6zM615.9 1082.6h11.6v10.5h-11.6zM638.4 1051.9h11.6v10.5h-11.6zM649.7 1031.5h11.6v10.5h-11.6zM672.3 1000.8h11.6v10.5h-11.6zM683.6 990.5h11.6v10.5h-11.6zM333.7 959.8h11.6v10.5h-11.6zM717.4 959.8h11.6v10.5h-11.6zM345 939.3h11.6v10.5h-11.6zM751.3 939.3h11.6v10.5h-11.6zM773.9 929.1h11.6v10.5h-11.6zM785.1 918.9h11.6v10.5h-11.6zM819 888.2h11.6v10.5h-11.6zM830.3 877.9h11.6v10.5h-11.6zM841.6 867.7h11.6v10.5h-11.6zM401.5 847.2h11.6v10.5h-11.6zM886.7 837h11.6v10.5h-11.6zM898 826.8h11.6v10.5h-11.6zM909.3 816.5h11.6v10.5h-11.6zM943.1 796.1h11.6v10.5h-11.6zM954.4 785.8h11.6v10.5h-11.6zM965.7 775.6h11.6v10.5h-11.6zM977 765.3h11.6v10.5h-11.6zM1010.8 744.9h11.6v10.5h-11.6zM1022.1 734.6h11.6v10.5h-11.6zM1044.7 724.4h11.6v10.5h-11.6zM1056 714.2h11.6v10.5h-11.6zM559.4 703.9h11.6v10.5h-11.6zM1067.3 703.9h11.6v10.5h-11.6zM1089.8 693.7h11.6v10.5h-11.6zM593.3 683.5h11.6v10.5h-11.6zM1101.1 683.5h11.6v10.5h-11.6zM615.9 673.2h11.6v10.5h-11.6zM1112.4 673.2h11.6v10.5h-11.6zM638.4 663h11.6v10.5h-11.6zM1135 663h11.6v10.5h-11.6zM661 652.8h11.6v10.5h-11.6zM1146.3 652.8h11.6v10.5h-11.6zM683.6 642.5h11.6v10.5h-11.6zM1157.5 642.5h11.6v10.5h-11.6zM1168.8 632.3h11.6v10.5h-11.6zM717.4 622.1h11.6v10.5h-11.6zM740 611.8h11.6v10.5h-11.6zM1191.4 611.8h11.6v10.5h-11.6zM1202.7 601.6h11.6v10.5h-11.6zM1214 591.4h11.6v10.5h-11.6zM796.4 581.1h11.6v10.5h-11.6zM1225.3 581.1h11.6v10.5h-11.6zM1236.5 570.9h11.6v10.5h-11.6zM841.6 560.6h11.6v10.5h-11.6zM1247.8 560.6h11.6v10.5h-11.6zM864.1 550.4h11.6v10.5h-11.6zM1259.1 550.4h11.6v10.5h-11.6zM898 540.2h11.6v10.5h-11.6zM1270.4 540.2h11.6v10.5h-11.6zM1281.7 529.9h11.6v10.5h-11.6zM954.4 519.7h11.6v10.5h-11.6zM1293 519.7h11.6v10.5h-11.6zM999.6 509.5h11.6v10.5h-11.6zM1304.3 509.5h11.6v10.5h-11.6zM1033.4 499.2h11.6v10.5h-11.6zM1044.7 499.2h11.6v10.5h-11.6zM1315.5 499.2h11.6v10.5h-11.6zM1078.6 489h11.6v10.5h-11.6zM1089.8 489h11.6v10.5h-11.6zM1326.8 489h11.6v10.5h-11.6zM1135 478.8h11.6v10.5h-11.6zM1146.3 478.8h11.6v10.5h-11.6zM1157.5 478.8h11.6v10.5h-11.6zM1326.8 478.8h11.6v10.5h-11.6zM1338.1 478.8h11.6v10.5h-11.6zM1214 468.5h11.6v10.5h-11.6zM1225.3 468.5h11.6v10.5h-11.6zM1236.5 468.5h11.6v10.5h-11.6zM1247.8 468.5h11.6v10.5h-11.6zM1259.1 468.5h11.6v10.5h-11.6zM1293 468.5h11.6v10.5h-11.6zM1315.5 468.5h11.6v10.5h-11.6zM1338.1 468.5h11.6v10.5h-11.6z"/><path fill="#a8bef2" d="M356.3 1348.7h11.6v10.5h-11.6zM333.7 1338.5h11.6v10.5h-11.6zM356.3 1338.5h11.6v10.5h-11.6zM367.6 1338.5h11.6v10.5h-11.6zM328.1 1328.3h5.9v10.5h-5.9zM390.2 1328.3h11.6v10.5h-11.6zM401.5 1318h11.6v10.5h-11.6zM412.7 1307.8h11.6v10.5h-11.6zM424 1297.6h11.6v10.5h-11.6zM469.2 1246.4h11.6v10.5h-11.6zM503 1205.5h11.6v10.5h-11.6zM514.3 1195.2h11.6v10.5h-11.6zM525.6 1185h11.6v10.5h-11.6zM536.9 1174.7h11.6v10.5h-11.6zM570.7 1133.8h11.6v10.5h-11.6zM582 1123.6h11.6v10.5h-11.6zM604.6 1092.9h11.6v10.5h-11.6zM627.2 1062.2h11.6v10.5h-11.6zM661 1011h11.6v10.5h-11.6zM328.1 980.3h5.9v10.5h-5.9zM728.7 949.6h11.6v10.5h-11.6zM762.6 929.1h11.6v10.5h-11.6zM356.3 918.9h11.6v10.5h-11.6zM796.4 908.6h11.6v10.5h-11.6zM807.7 898.4h11.6v10.5h-11.6zM852.9 857.5h11.6v10.5h-11.6zM864.1 847.2h11.6v10.5h-11.6zM412.7 837h11.6v10.5h-11.6zM875.4 837h11.6v10.5h-11.6zM886.7 826.8h11.6v10.5h-11.6zM920.6 806.3h11.6v10.5h-11.6zM931.8 796.1h11.6v10.5h-11.6zM943.1 785.8h11.6v10.5h-11.6zM988.3 755.1h11.6v10.5h-11.6zM999.6 744.9h11.6v10.5h-11.6zM1010.8 734.6h11.6v10.5h-11.6zM536.9 724.4h11.6v10.5h-11.6zM1033.4 724.4h11.6v10.5h-11.6zM548.2 714.2h11.6v10.5h-11.6zM1044.7 714.2h11.6v10.5h-11.6zM1078.6 693.7h11.6v10.5h-11.6zM1089.8 683.5h11.6v10.5h-11.6zM1101.1 673.2h11.6v10.5h-11.6zM1123.7 663h11.6v10.5h-11.6zM1135 652.8h11.6v10.5h-11.6zM1146.3 642.5h11.6v10.5h-11.6zM706.1 632.3h11.6v10.5h-11.6zM1180.1 622.1h11.6v10.5h-11.6zM762.6 601.6h11.6v10.5h-11.6zM785.1 591.4h11.6v10.5h-11.6zM819 570.9h11.6v10.5h-11.6zM875.4 550.4h11.6v10.5h-11.6zM1247.8 550.4h11.6v10.5h-11.6zM909.3 540.2h11.6v10.5h-11.6zM1259.1 540.2h11.6v10.5h-11.6zM931.8 529.9h11.6v10.5h-11.6zM1270.4 529.9h11.6v10.5h-11.6zM965.7 519.7h11.6v10.5h-11.6zM977 519.7h11.6v10.5h-11.6zM1281.7 519.7h11.6v10.5h-11.6zM1010.8 509.5h11.6v10.5h-11.6zM1022.1 509.5h11.6v10.5h-11.6zM1293 509.5h11.6v10.5h-11.6zM1056 499.2h11.6v10.5h-11.6zM1067.3 499.2h11.6v10.5h-11.6zM1304.3 499.2h11.6v10.5h-11.6zM1101.1 489h11.6v10.5h-11.6zM1112.4 489h11.6v10.5h-11.6zM1304.3 489h11.6v10.5h-11.6zM1315.5 489h11.6v10.5h-11.6zM1168.8 478.8h11.6v10.5h-11.6zM1180.1 478.8h11.6v10.5h-11.6zM1191.4 478.8h11.6v10.5h-11.6zM1202.7 478.8h11.6v10.5h-11.6zM1315.5 478.8h11.6v10.5h-11.6zM1270.4 468.5h11.6v10.5h-11.6zM1281.7 468.5h11.6v10.5h-11.6zM1304.3 468.5h11.6v10.5h-11.6zM1326.8 468.5h11.6v10.5h-11.6z"/><path fill="#a1bdf0" d="M345 1338.5h11.6v10.5h-11.6zM333.7 1328.3h11.6v10.5h-11.6zM446.6 1266.9h11.6v10.5h-11.6zM457.9 1256.6h11.6v10.5h-11.6zM491.7 1215.7h11.6v10.5h-11.6zM559.4 1144h11.6v10.5h-11.6zM582 1113.3h11.6v10.5h-11.6zM593.3 1103.1h11.6v10.5h-11.6zM615.9 1072.4h11.6v10.5h-11.6zM638.4 1041.7h11.6v10.5h-11.6zM649.7 1021.2h11.6v10.5h-11.6zM683.6 980.3h11.6v10.5h-11.6zM694.9 970h11.6v10.5h-11.6zM706.1 959.8h11.6v10.5h-11.6zM740 939.3h11.6v10.5h-11.6zM773.9 918.9h11.6v10.5h-11.6zM785.1 908.6h11.6v10.5h-11.6zM367.6 898.4h11.6v10.5h-11.6zM796.4 898.4h11.6v10.5h-11.6zM807.7 888.2h11.6v10.5h-11.6zM378.9 877.9h11.6v10.5h-11.6zM819 877.9h11.6v10.5h-11.6zM830.3 867.7h11.6v10.5h-11.6zM841.6 857.5h11.6v10.5h-11.6zM852.9 847.2h11.6v10.5h-11.6zM424 826.8h11.6v10.5h-11.6zM435.3 816.5h11.6v10.5h-11.6zM898 816.5h11.6v10.5h-11.6zM909.3 806.3h11.6v10.5h-11.6zM954.4 775.6h11.6v10.5h-11.6zM965.7 765.3h11.6v10.5h-11.6zM977 755.1h11.6v10.5h-11.6zM514.3 744.9h11.6v10.5h-11.6zM988.3 744.9h11.6v10.5h-11.6zM525.6 734.6h11.6v10.5h-11.6zM999.6 734.6h11.6v10.5h-11.6zM1022.1 724.4h11.6v10.5h-11.6zM1033.4 714.2h11.6v10.5h-11.6zM1056 703.9h11.6v10.5h-11.6zM582 693.7h11.6v10.5h-11.6zM1067.3 693.7h11.6v10.5h-11.6zM604.6 683.5h11.6v10.5h-11.6zM1078.6 683.5h11.6v10.5h-11.6zM627.2 673.2h11.6v10.5h-11.6zM649.7 663h11.6v10.5h-11.6zM1112.4 663h11.6v10.5h-11.6zM672.3 652.8h11.6v10.5h-11.6zM1123.7 652.8h11.6v10.5h-11.6zM1157.5 632.3h11.6v10.5h-11.6zM728.7 622.1h11.6v10.5h-11.6zM1168.8 622.1h11.6v10.5h-11.6zM751.3 611.8h11.6v10.5h-11.6zM1180.1 611.8h11.6v10.5h-11.6zM773.9 601.6h11.6v10.5h-11.6zM1191.4 601.6h11.6v10.5h-11.6zM1202.7 591.4h11.6v10.5h-11.6zM807.7 581.1h11.6v10.5h-11.6zM1214 581.1h11.6v10.5h-11.6zM830.3 570.9h11.6v10.5h-11.6zM1225.3 570.9h11.6v10.5h-11.6zM852.9 560.6h11.6v10.5h-11.6zM1236.5 560.6h11.6v10.5h-11.6zM886.7 550.4h11.6v10.5h-11.6zM920.6 540.2h11.6v10.5h-11.6zM943.1 529.9h11.6v10.5h-11.6zM988.3 519.7h11.6v10.5h-11.6zM999.6 519.7h11.6v10.5h-11.6zM1270.4 519.7h11.6v10.5h-11.6zM1033.4 509.5h11.6v10.5h-11.6zM1281.7 509.5h11.6v10.5h-11.6zM1078.6 499.2h11.6v10.5h-11.6zM1089.8 499.2h11.6v10.5h-11.6zM1293 499.2h11.6v10.5h-11.6zM1123.7 489h11.6v10.5h-11.6zM1135 489h11.6v10.5h-11.6zM1146.3 489h11.6v10.5h-11.6zM1293 489h11.6v10.5h-11.6zM1214 478.8h11.6v10.5h-11.6zM1225.3 478.8h11.6v10.5h-11.6zM1236.5 478.8h11.6v10.5h-11.6zM1247.8 478.8h11.6v10.5h-11.6zM1304.3 478.8h11.6v10.5h-11.6z"/><path fill="#9abdee" d="M345 1328.3h11.6v10.5h-11.6zM356.3 1328.3h11.6v10.5h-11.6zM367.6 1328.3h11.6v10.5h-11.6zM378.9 1328.3h11.6v10.5h-11.6zM328.1 1318h5.9v10.5h-5.9zM390.2 1318h11.6v10.5h-11.6zM401.5 1307.8h11.6v10.5h-11.6zM412.7 1297.6h11.6v10.5h-11.6zM424 1287.3h11.6v10.5h-11.6zM435.3 1277.1h11.6v10.5h-11.6zM480.4 1225.9h11.6v10.5h-11.6zM525.6 1174.7h11.6v10.5h-11.6zM536.9 1164.5h11.6v10.5h-11.6zM548.2 1154.3h11.6v10.5h-11.6zM570.7 1123.6h11.6v10.5h-11.6zM604.6 1082.6h11.6v10.5h-11.6zM627.2 1051.9h11.6v10.5h-11.6zM672.3 990.5h11.6v10.5h-11.6zM345 949.6h11.6v10.5h-11.6zM717.4 949.6h11.6v10.5h-11.6zM751.3 929.1h11.6v10.5h-11.6zM864.1 837h11.6v10.5h-11.6zM875.4 826.8h11.6v10.5h-11.6zM886.7 816.5h11.6v10.5h-11.6zM446.6 806.3h11.6v10.5h-11.6zM457.9 796.1h11.6v10.5h-11.6zM920.6 796.1h11.6v10.5h-11.6zM469.2 785.8h11.6v10.5h-11.6zM931.8 785.8h11.6v10.5h-11.6zM480.4 775.6h11.6v10.5h-11.6zM943.1 775.6h11.6v10.5h-11.6zM491.7 765.3h11.6v10.5h-11.6zM503 755.1h11.6v10.5h-11.6zM1010.8 724.4h11.6v10.5h-11.6zM570.7 703.9h11.6v10.5h-11.6zM1044.7 703.9h11.6v10.5h-11.6zM1056 693.7h11.6v10.5h-11.6zM1089.8 673.2h11.6v10.5h-11.6zM1101.1 663h11.6v10.5h-11.6zM694.9 642.5h11.6v10.5h-11.6zM1135 642.5h11.6v10.5h-11.6zM717.4 632.3h11.6v10.5h-11.6zM1146.3 632.3h11.6v10.5h-11.6zM740 622.1h11.6v10.5h-11.6zM1157.5 622.1h11.6v10.5h-11.6zM1168.8 611.8h11.6v10.5h-11.6zM1180.1 601.6h11.6v10.5h-11.6zM796.4 591.4h11.6v10.5h-11.6zM1191.4 591.4h11.6v10.5h-11.6zM1202.7 581.1h11.6v10.5h-11.6zM841.6 570.9h11.6v10.5h-11.6zM1214 570.9h11.6v10.5h-11.6zM864.1 560.6h11.6v10.5h-11.6zM1225.3 560.6h11.6v10.5h-11.6zM898 550.4h11.6v10.5h-11.6zM1236.5 550.4h11.6v10.5h-11.6zM931.8 540.2h11.6v10.5h-11.6zM1247.8 540.2h11.6v10.5h-11.6zM954.4 529.9h11.6v10.5h-11.6zM965.7 529.9h11.6v10.5h-11.6zM1259.1 529.9h11.6v10.5h-11.6zM1010.8 519.7h11.6v10.5h-11.6zM1044.7 509.5h11.6v10.5h-11.6zM1056 509.5h11.6v10.5h-11.6zM1270.4 509.5h11.6v10.5h-11.6zM1101.1 499.2h11.6v10.5h-11.6zM1112.4 499.2h11.6v10.5h-11.6zM1281.7 499.2h11.6v10.5h-11.6zM1157.5 489h11.6v10.5h-11.6zM1168.8 489h11.6v10.5h-11.6zM1180.1 489h11.6v10.5h-11.6zM1191.4 489h11.6v10.5h-11.6zM1281.7 489h11.6v10.5h-11.6zM1259.1 478.8h11.6v10.5h-11.6zM1270.4 478.8h11.6v10.5h-11.6zM1281.7 478.8h11.6v10.5h-11.6zM1293 478.8h11.6v10.5h-11.6z"/><path fill="#94bdeb" d="M333.7 1318h11.6v10.5h-11.6zM345 1318h11.6v10.5h-11.6zM328.1 1307.8h5.9v10.5h-5.9zM457.9 1246.4h11.6v10.5h-11.6zM469.2 1236.2h11.6v10.5h-11.6zM491.7 1205.5h11.6v10.5h-11.6zM503 1195.2h11.6v10.5h-11.6zM514.3 1185h11.6v10.5h-11.6zM559.4 1133.8h11.6v10.5h-11.6zM593.3 1092.9h11.6v10.5h-11.6zM615.9 1062.2h11.6v10.5h-11.6zM638.4 1031.5h11.6v10.5h-11.6zM661 1000.8h11.6v10.5h-11.6zM333.7 970h11.6v10.5h-11.6zM728.7 939.3h11.6v10.5h-11.6zM356.3 929.1h11.6v10.5h-11.6zM762.6 918.9h11.6v10.5h-11.6zM773.9 908.6h11.6v10.5h-11.6zM785.1 898.4h11.6v10.5h-11.6zM796.4 888.2h11.6v10.5h-11.6zM807.7 877.9h11.6v10.5h-11.6zM390.2 867.7h11.6v10.5h-11.6zM819 867.7h11.6v10.5h-11.6zM830.3 857.5h11.6v10.5h-11.6zM841.6 847.2h11.6v10.5h-11.6zM852.9 837h11.6v10.5h-11.6zM898 806.3h11.6v10.5h-11.6zM909.3 796.1h11.6v10.5h-11.6zM954.4 765.3h11.6v10.5h-11.6zM965.7 755.1h11.6v10.5h-11.6zM977 744.9h11.6v10.5h-11.6zM988.3 734.6h11.6v10.5h-11.6zM999.6 724.4h11.6v10.5h-11.6zM559.4 714.2h11.6v10.5h-11.6zM1022.1 714.2h11.6v10.5h-11.6zM1033.4 703.9h11.6v10.5h-11.6zM593.3 693.7h11.6v10.5h-11.6zM615.9 683.5h11.6v10.5h-11.6zM1067.3 683.5h11.6v10.5h-11.6zM638.4 673.2h11.6v10.5h-11.6zM1078.6 673.2h11.6v10.5h-11.6zM661 663h11.6v10.5h-11.6zM1089.8 663h11.6v10.5h-11.6zM683.6 652.8h11.6v10.5h-11.6zM1112.4 652.8h11.6v10.5h-11.6zM706.1 642.5h11.6v10.5h-11.6zM1123.7 642.5h11.6v10.5h-11.6zM1135 632.3h11.6v10.5h-11.6zM762.6 611.8h11.6v10.5h-11.6zM785.1 601.6h11.6v10.5h-11.6zM819 581.1h11.6v10.5h-11.6zM875.4 560.6h11.6v10.5h-11.6zM909.3 550.4h11.6v10.5h-11.6zM1225.3 550.4h11.6v10.5h-11.6zM943.1 540.2h11.6v10.5h-11.6zM1236.5 540.2h11.6v10.5h-11.6zM977 529.9h11.6v10.5h-11.6zM1247.8 529.9h11.6v10.5h-11.6zM1022.1 519.7h11.6v10.5h-11.6zM1033.4 519.7h11.6v10.5h-11.6zM1259.1 519.7h11.6v10.5h-11.6zM1067.3 509.5h11.6v10.5h-11.6zM1078.6 509.5h11.6v10.5h-11.6zM1123.7 499.2h11.6v10.5h-11.6zM1135 499.2h11.6v10.5h-11.6zM1270.4 499.2h11.6v10.5h-11.6zM1202.7 489h11.6v10.5h-11.6zM1214 489h11.6v10.5h-11.6zM1225.3 489h11.6v10.5h-11.6zM1270.4 489h11.6v10.5h-11.6z"/><path fill="#8dbde8" d="M356.3 1318h11.6v10.5h-11.6zM367.6 1318h11.6v10.5h-11.6zM378.9 1318h11.6v10.5h-11.6zM333.7 1307.8h11.6v10.5h-11.6zM446.6 1256.6h11.6v10.5h-11.6zM480.4 1215.7h11.6v10.5h-11.6zM548.2 1144h11.6v10.5h-11.6zM582 1103.1h11.6v10.5h-11.6zM604.6 1072.4h11.6v10.5h-11.6zM649.7 1011h11.6v10.5h-11.6zM328.1 990.5h5.9v10.5h-5.9zM683.6 970h11.6v10.5h-11.6zM694.9 959.8h11.6v10.5h-11.6zM740 929.1h11.6v10.5h-11.6zM367.6 908.6h11.6v10.5h-11.6zM378.9 888.2h11.6v10.5h-11.6zM401.5 857.5h11.6v10.5h-11.6zM864.1 826.8h11.6v10.5h-11.6zM875.4 816.5h11.6v10.5h-11.6zM920.6 785.8h11.6v10.5h-11.6zM931.8 775.6h11.6v10.5h-11.6zM943.1 765.3h11.6v10.5h-11.6zM548.2 724.4h11.6v10.5h-11.6zM1010.8 714.2h11.6v10.5h-11.6zM1044.7 693.7h11.6v10.5h-11.6zM1056 683.5h11.6v10.5h-11.6zM1067.3 673.2h11.6v10.5h-11.6zM1101.1 652.8h11.6v10.5h-11.6zM1112.4 642.5h11.6v10.5h-11.6zM728.7 632.3h11.6v10.5h-11.6zM751.3 622.1h11.6v10.5h-11.6zM1146.3 622.1h11.6v10.5h-11.6zM1157.5 611.8h11.6v10.5h-11.6zM1168.8 601.6h11.6v10.5h-11.6zM807.7 591.4h11.6v10.5h-11.6zM1180.1 591.4h11.6v10.5h-11.6zM830.3 581.1h11.6v10.5h-11.6zM1191.4 581.1h11.6v10.5h-11.6zM852.9 570.9h11.6v10.5h-11.6zM1202.7 570.9h11.6v10.5h-11.6zM886.7 560.6h11.6v10.5h-11.6zM1214 560.6h11.6v10.5h-11.6zM920.6 550.4h11.6v10.5h-11.6zM954.4 540.2h11.6v10.5h-11.6zM988.3 529.9h11.6v10.5h-11.6zM999.6 529.9h11.6v10.5h-11.6zM1236.5 529.9h11.6v10.5h-11.6zM1044.7 519.7h11.6v10.5h-11.6zM1247.8 519.7h11.6v10.5h-11.6zM1089.8 509.5h11.6v10.5h-11.6zM1101.1 509.5h11.6v10.5h-11.6zM1259.1 509.5h11.6v10.5h-11.6zM1146.3 499.2h11.6v10.5h-11.6zM1157.5 499.2h11.6v10.5h-11.6zM1168.8 499.2h11.6v10.5h-11.6zM1259.1 499.2h11.6v10.5h-11.6zM1236.5 489h11.6v10.5h-11.6zM1247.8 489h11.6v10.5h-11.6zM1259.1 489h11.6v10.5h-11.6z"/><path fill="#87bde5" d="M345 1307.8h11.6v10.5h-11.6zM390.2 1307.8h11.6v10.5h-11.6zM328.1 1297.6h5.9v10.5h-5.9zM333.7 1297.6h11.6v10.5h-11.6zM401.5 1297.6h11.6v10.5h-11.6zM412.7 1287.3h11.6v10.5h-11.6zM424 1277.1h11.6v10.5h-11.6zM435.3 1266.9h11.6v10.5h-11.6zM469.2 1225.9h11.6v10.5h-11.6zM536.9 1154.3h11.6v10.5h-11.6zM570.7 1113.3h11.6v10.5h-11.6zM627.2 1041.7h11.6v10.5h-11.6zM672.3 980.3h11.6v10.5h-11.6zM345 959.8h11.6v10.5h-11.6zM706.1 949.6h11.6v10.5h-11.6zM751.3 918.9h11.6v10.5h-11.6zM807.7 867.7h11.6v10.5h-11.6zM819 857.5h11.6v10.5h-11.6zM412.7 847.2h11.6v10.5h-11.6zM830.3 847.2h11.6v10.5h-11.6zM841.6 837h11.6v10.5h-11.6zM886.7 806.3h11.6v10.5h-11.6zM898 796.1h11.6v10.5h-11.6zM954.4 755.1h11.6v10.5h-11.6zM965.7 744.9h11.6v10.5h-11.6zM536.9 734.6h11.6v10.5h-11.6zM977 734.6h11.6v10.5h-11.6zM988.3 724.4h11.6v10.5h-11.6zM582 703.9h11.6v10.5h-11.6zM1022.1 703.9h11.6v10.5h-11.6zM604.6 693.7h11.6v10.5h-11.6zM1033.4 693.7h11.6v10.5h-11.6zM627.2 683.5h11.6v10.5h-11.6zM649.7 673.2h11.6v10.5h-11.6zM672.3 663h11.6v10.5h-11.6zM1078.6 663h11.6v10.5h-11.6zM694.9 652.8h11.6v10.5h-11.6zM1089.8 652.8h11.6v10.5h-11.6zM1123.7 632.3h11.6v10.5h-11.6zM1135 622.1h11.6v10.5h-11.6zM773.9 611.8h11.6v10.5h-11.6zM1146.3 611.8h11.6v10.5h-11.6zM796.4 601.6h11.6v10.5h-11.6zM1157.5 601.6h11.6v10.5h-11.6zM1168.8 591.4h11.6v10.5h-11.6zM1180.1 581.1h11.6v10.5h-11.6zM864.1 570.9h11.6v10.5h-11.6zM1191.4 570.9h11.6v10.5h-11.6zM898 560.6h11.6v10.5h-11.6zM1202.7 560.6h11.6v10.5h-11.6zM931.8 550.4h11.6v10.5h-11.6zM1214 550.4h11.6v10.5h-11.6zM965.7 540.2h11.6v10.5h-11.6zM1225.3 540.2h11.6v10.5h-11.6zM1010.8 529.9h11.6v10.5h-11.6zM1022.1 529.9h11.6v10.5h-11.6zM1056 519.7h11.6v10.5h-11.6zM1067.3 519.7h11.6v10.5h-11.6zM1236.5 519.7h11.6v10.5h-11.6zM1112.4 509.5h11.6v10.5h-11.6zM1123.7 509.5h11.6v10.5h-11.6zM1247.8 509.5h11.6v10.5h-11.6zM1180.1 499.2h11.6v10.5h-11.6zM1191.4 499.2h11.6v10.5h-11.6zM1247.8 499.2h11.6v10.5h-11.6z"/><path fill="#80bee2" d="M356.3 1307.8h11.6v10.5h-11.6zM378.9 1307.8h11.6v10.5h-11.6zM345 1297.6h11.6v10.5h-11.6zM328.1 1287.3h5.9v10.5h-5.9zM503 1185h11.6v10.5h-11.6zM514.3 1174.7h11.6v10.5h-11.6zM525.6 1164.5h11.6v10.5h-11.6zM559.4 1123.6h11.6v10.5h-11.6zM582 1092.9h11.6v10.5h-11.6zM593.3 1082.6h11.6v10.5h-11.6zM615.9 1051.9h11.6v10.5h-11.6zM638.4 1021.2h11.6v10.5h-11.6zM661 990.5h11.6v10.5h-11.6zM333.7 980.3h11.6v10.5h-11.6zM356.3 939.3h11.6v10.5h-11.6zM717.4 939.3h11.6v10.5h-11.6zM762.6 908.6h11.6v10.5h-11.6zM773.9 898.4h11.6v10.5h-11.6zM785.1 888.2h11.6v10.5h-11.6zM796.4 877.9h11.6v10.5h-11.6zM424 837h11.6v10.5h-11.6zM852.9 826.8h11.6v10.5h-11.6zM864.1 816.5h11.6v10.5h-11.6zM875.4 806.3h11.6v10.5h-11.6zM909.3 785.8h11.6v10.5h-11.6zM920.6 775.6h11.6v10.5h-11.6zM931.8 765.3h11.6v10.5h-11.6zM514.3 755.1h11.6v10.5h-11.6zM525.6 744.9h11.6v10.5h-11.6zM570.7 714.2h11.6v10.5h-11.6zM999.6 714.2h11.6v10.5h-11.6zM1010.8 703.9h11.6v10.5h-11.6zM1044.7 683.5h11.6v10.5h-11.6zM1056 673.2h11.6v10.5h-11.6zM1067.3 663h11.6v10.5h-11.6zM717.4 642.5h11.6v10.5h-11.6zM1101.1 642.5h11.6v10.5h-11.6zM740 632.3h11.6v10.5h-11.6zM1112.4 632.3h11.6v10.5h-11.6zM762.6 622.1h11.6v10.5h-11.6zM1123.7 622.1h11.6v10.5h-11.6zM819 591.4h11.6v10.5h-11.6zM841.6 581.1h11.6v10.5h-11.6zM875.4 570.9h11.6v10.5h-11.6zM909.3 560.6h11.6v10.5h-11.6zM943.1 550.4h11.6v10.5h-11.6zM1202.7 550.4h11.6v10.5h-11.6zM977 540.2h11.6v10.5h-11.6zM1214 540.2h11.6v10.5h-11.6zM1033.4 529.9h11.6v10.5h-11.6zM1225.3 529.9h11.6v10.5h-11.6zM1078.6 519.7h11.6v10.5h-11.6zM1135 509.5h11.6v10.5h-11.6zM1236.5 509.5h11.6v10.5h-11.6zM1202.7 499.2h11.6v10.5h-11.6zM1214 499.2h11.6v10.5h-11.6zM1236.5 499.2h11.6v10.5h-11.6z"/><path fill="#7abede" d="M367.6 1307.8h11.6v10.5h-11.6zM390.2 1297.6h11.6v10.5h-11.6zM333.7 1287.3h11.6v10.5h-11.6zM328.1 1277.1h5.9v10.5h-5.9zM457.9 1236.2h11.6v10.5h-11.6zM480.4 1205.5h11.6v10.5h-11.6zM491.7 1195.2h11.6v10.5h-11.6zM548.2 1133.8h11.6v10.5h-11.6zM604.6 1062.2h11.6v10.5h-11.6zM627.2 1031.5h11.6v10.5h-11.6zM328.1 1000.8h5.9v10.5h-5.9zM649.7 1000.8h11.6v10.5h-11.6zM728.7 929.1h11.6v10.5h-11.6zM367.6 918.9h11.6v10.5h-11.6zM390.2 877.9h11.6v10.5h-11.6zM435.3 826.8h11.6v10.5h-11.6zM446.6 816.5h11.6v10.5h-11.6zM469.2 796.1h11.6v10.5h-11.6zM886.7 796.1h11.6v10.5h-11.6zM480.4 785.8h11.6v10.5h-11.6zM491.7 775.6h11.6v10.5h-11.6zM503 765.3h11.6v10.5h-11.6zM943.1 755.1h11.6v10.5h-11.6zM954.4 744.9h11.6v10.5h-11.6zM965.7 734.6h11.6v10.5h-11.6zM559.4 724.4h11.6v10.5h-11.6zM977 724.4h11.6v10.5h-11.6zM593.3 703.9h11.6v10.5h-11.6zM1022.1 693.7h11.6v10.5h-11.6zM638.4 683.5h11.6v10.5h-11.6zM661 673.2h11.6v10.5h-11.6zM683.6 663h11.6v10.5h-11.6zM706.1 652.8h11.6v10.5h-11.6zM1078.6 652.8h11.6v10.5h-11.6zM728.7 642.5h11.6v10.5h-11.6zM1089.8 642.5h11.6v10.5h-11.6zM785.1 611.8h11.6v10.5h-11.6zM1135 611.8h11.6v10.5h-11.6zM807.7 601.6h11.6v10.5h-11.6zM1146.3 601.6h11.6v10.5h-11.6zM830.3 591.4h11.6v10.5h-11.6zM1157.5 591.4h11.6v10.5h-11.6zM852.9 581.1h11.6v10.5h-11.6zM1168.8 581.1h11.6v10.5h-11.6zM886.7 570.9h11.6v10.5h-11.6zM1180.1 570.9h11.6v10.5h-11.6zM920.6 560.6h11.6v10.5h-11.6zM1191.4 560.6h11.6v10.5h-11.6zM954.4 550.4h11.6v10.5h-11.6zM988.3 540.2h11.6v10.5h-11.6zM999.6 540.2h11.6v10.5h-11.6zM1044.7 529.9h11.6v10.5h-11.6zM1056 529.9h11.6v10.5h-11.6zM1214 529.9h11.6v10.5h-11.6zM1089.8 519.7h11.6v10.5h-11.6zM1101.1 519.7h11.6v10.5h-11.6zM1225.3 519.7h11.6v10.5h-11.6zM1146.3 509.5h11.6v10.5h-11.6zM1157.5 509.5h11.6v10.5h-11.6zM1225.3 509.5h11.6v10.5h-11.6zM1225.3 499.2h11.6v10.5h-11.6z"/><path fill="#74bfda" d="M356.3 1297.6h11.6v10.5h-11.6zM345 1287.3h11.6v10.5h-11.6zM401.5 1287.3h11.6v10.5h-11.6zM412.7 1277.1h11.6v10.5h-11.6zM446.6 1246.4h11.6v10.5h-11.6zM536.9 1144h11.6v10.5h-11.6zM570.7 1103.1h11.6v10.5h-11.6zM593.3 1072.4h11.6v10.5h-11.6zM683.6 959.8h11.6v10.5h-11.6zM356.3 949.6h11.6v10.5h-11.6zM694.9 949.6h11.6v10.5h-11.6zM740 918.9h11.6v10.5h-11.6zM751.3 908.6h11.6v10.5h-11.6zM378.9 898.4h11.6v10.5h-11.6zM785.1 877.9h11.6v10.5h-11.6zM796.4 867.7h11.6v10.5h-11.6zM807.7 857.5h11.6v10.5h-11.6zM819 847.2h11.6v10.5h-11.6zM830.3 837h11.6v10.5h-11.6zM841.6 826.8h11.6v10.5h-11.6zM852.9 816.5h11.6v10.5h-11.6zM457.9 806.3h11.6v10.5h-11.6zM898 785.8h11.6v10.5h-11.6zM909.3 775.6h11.6v10.5h-11.6zM988.3 714.2h11.6v10.5h-11.6zM999.6 703.9h11.6v10.5h-11.6zM615.9 693.7h11.6v10.5h-11.6zM1033.4 683.5h11.6v10.5h-11.6zM1044.7 673.2h11.6v10.5h-11.6zM1056 663h11.6v10.5h-11.6zM1067.3 652.8h11.6v10.5h-11.6zM751.3 632.3h11.6v10.5h-11.6zM1101.1 632.3h11.6v10.5h-11.6zM773.9 622.1h11.6v10.5h-11.6zM1112.4 622.1h11.6v10.5h-11.6zM1123.7 611.8h11.6v10.5h-11.6zM864.1 581.1h11.6v10.5h-11.6zM898 570.9h11.6v10.5h-11.6zM931.8 560.6h11.6v10.5h-11.6zM1180.1 560.6h11.6v10.5h-11.6zM965.7 550.4h11.6v10.5h-11.6zM1191.4 550.4h11.6v10.5h-11.6zM1010.8 540.2h11.6v10.5h-11.6zM1022.1 540.2h11.6v10.5h-11.6zM1202.7 540.2h11.6v10.5h-11.6zM1067.3 529.9h11.6v10.5h-11.6zM1202.7 529.9h11.6v10.5h-11.6zM1112.4 519.7h11.6v10.5h-11.6zM1123.7 519.7h11.6v10.5h-11.6zM1214 519.7h11.6v10.5h-11.6zM1168.8 509.5h11.6v10.5h-11.6zM1180.1 509.5h11.6v10.5h-11.6zM1214 509.5h11.6v10.5h-11.6z"/><path fill="#6ebfd5" d="M367.6 1297.6h11.6v10.5h-11.6zM378.9 1297.6h11.6v10.5h-11.6zM333.7 1277.1h11.6v10.5h-11.6zM328.1 1266.9h5.9v10.5h-5.9zM424 1266.9h11.6v10.5h-11.6zM435.3 1256.6h11.6v10.5h-11.6zM469.2 1215.7h11.6v10.5h-11.6zM514.3 1164.5h11.6v10.5h-11.6zM525.6 1154.3h11.6v10.5h-11.6zM559.4 1113.3h11.6v10.5h-11.6zM615.9 1041.7h11.6v10.5h-11.6zM328.1 1011h5.9v10.5h-5.9zM638.4 1011h11.6v10.5h-11.6zM333.7 990.5h11.6v10.5h-11.6zM345 970h11.6v10.5h-11.6zM672.3 970h11.6v10.5h-11.6zM706.1 939.3h11.6v10.5h-11.6zM762.6 898.4h11.6v10.5h-11.6zM773.9 888.2h11.6v10.5h-11.6zM401.5 867.7h11.6v10.5h-11.6zM864.1 806.3h11.6v10.5h-11.6zM875.4 796.1h11.6v10.5h-11.6zM920.6 765.3h11.6v10.5h-11.6zM931.8 755.1h11.6v10.5h-11.6zM536.9 744.9h11.6v10.5h-11.6zM943.1 744.9h11.6v10.5h-11.6zM548.2 734.6h11.6v10.5h-11.6zM582 714.2h11.6v10.5h-11.6zM1010.8 693.7h11.6v10.5h-11.6zM649.7 683.5h11.6v10.5h-11.6zM1022.1 683.5h11.6v10.5h-11.6zM672.3 673.2h11.6v10.5h-11.6zM694.9 663h11.6v10.5h-11.6zM717.4 652.8h11.6v10.5h-11.6zM740 642.5h11.6v10.5h-11.6zM1078.6 642.5h11.6v10.5h-11.6zM1089.8 632.3h11.6v10.5h-11.6zM796.4 611.8h11.6v10.5h-11.6zM819 601.6h11.6v10.5h-11.6zM1135 601.6h11.6v10.5h-11.6zM841.6 591.4h11.6v10.5h-11.6zM1146.3 591.4h11.6v10.5h-11.6zM875.4 581.1h11.6v10.5h-11.6zM1157.5 581.1h11.6v10.5h-11.6zM909.3 570.9h11.6v10.5h-11.6zM1168.8 570.9h11.6v10.5h-11.6zM943.1 560.6h11.6v10.5h-11.6zM977 550.4h11.6v10.5h-11.6zM1180.1 550.4h11.6v10.5h-11.6zM1033.4 540.2h11.6v10.5h-11.6zM1191.4 540.2h11.6v10.5h-11.6zM1078.6 529.9h11.6v10.5h-11.6zM1135 519.7h11.6v10.5h-11.6zM1202.7 519.7h11.6v10.5h-11.6zM1191.4 509.5h11.6v10.5h-11.6zM1202.7 509.5h11.6v10.5h-11.6z"/><path fill="#69c0d0" d="M356.3 1287.3h11.6v10.5h-11.6zM390.2 1287.3h11.6v10.5h-11.6zM345 1277.1h11.6v10.5h-11.6zM457.9 1225.9h11.6v10.5h-11.6zM491.7 1185h11.6v10.5h-11.6zM503 1174.7h11.6v10.5h-11.6zM548.2 1123.6h11.6v10.5h-11.6zM582 1082.6h11.6v10.5h-11.6zM661 980.3h11.6v10.5h-11.6zM367.6 929.1h11.6v10.5h-11.6zM717.4 929.1h11.6v10.5h-11.6zM412.7 857.5h11.6v10.5h-11.6zM807.7 847.2h11.6v10.5h-11.6zM819 837h11.6v10.5h-11.6zM886.7 785.8h11.6v10.5h-11.6zM525.6 755.1h11.6v10.5h-11.6zM954.4 734.6h11.6v10.5h-11.6zM570.7 724.4h11.6v10.5h-11.6zM965.7 724.4h11.6v10.5h-11.6zM977 714.2h11.6v10.5h-11.6zM604.6 703.9h11.6v10.5h-11.6zM988.3 703.9h11.6v10.5h-11.6zM627.2 693.7h11.6v10.5h-11.6zM683.6 673.2h11.6v10.5h-11.6zM1033.4 673.2h11.6v10.5h-11.6zM1044.7 663h11.6v10.5h-11.6zM1056 652.8h11.6v10.5h-11.6zM762.6 632.3h11.6v10.5h-11.6zM785.1 622.1h11.6v10.5h-11.6zM1101.1 622.1h11.6v10.5h-11.6zM1112.4 611.8h11.6v10.5h-11.6zM1123.7 601.6h11.6v10.5h-11.6zM852.9 591.4h11.6v10.5h-11.6zM1135 591.4h11.6v10.5h-11.6zM886.7 581.1h11.6v10.5h-11.6zM1146.3 581.1h11.6v10.5h-11.6zM920.6 570.9h11.6v10.5h-11.6zM1157.5 570.9h11.6v10.5h-11.6zM1168.8 560.6h11.6v10.5h-11.6zM988.3 550.4h11.6v10.5h-11.6zM999.6 550.4h11.6v10.5h-11.6zM1044.7 540.2h11.6v10.5h-11.6zM1056 540.2h11.6v10.5h-11.6zM1180.1 540.2h11.6v10.5h-11.6zM1089.8 529.9h11.6v10.5h-11.6zM1191.4 529.9h11.6v10.5h-11.6zM1146.3 519.7h11.6v10.5h-11.6zM1191.4 519.7h11.6v10.5h-11.6z"/><path fill="#63c1cb" d="M367.6 1287.3h11.6v10.5h-11.6zM401.5 1277.1h11.6v10.5h-11.6zM333.7 1266.9h11.6v10.5h-11.6zM328.1 1256.6h5.9v10.5h-5.9zM446.6 1236.2h11.6v10.5h-11.6zM570.7 1092.9h11.6v10.5h-11.6zM604.6 1051.9h11.6v10.5h-11.6zM627.2 1021.2h11.6v10.5h-11.6zM649.7 990.5h11.6v10.5h-11.6zM356.3 959.8h11.6v10.5h-11.6zM728.7 918.9h11.6v10.5h-11.6zM378.9 908.6h11.6v10.5h-11.6zM390.2 888.2h11.6v10.5h-11.6zM785.1 867.7h11.6v10.5h-11.6zM796.4 857.5h11.6v10.5h-11.6zM424 847.2h11.6v10.5h-11.6zM830.3 826.8h11.6v10.5h-11.6zM841.6 816.5h11.6v10.5h-11.6zM852.9 806.3h11.6v10.5h-11.6zM898 775.6h11.6v10.5h-11.6zM514.3 765.3h11.6v10.5h-11.6zM909.3 765.3h11.6v10.5h-11.6zM920.6 755.1h11.6v10.5h-11.6zM638.4 693.7h11.6v10.5h-11.6zM999.6 693.7h11.6v10.5h-11.6zM661 683.5h11.6v10.5h-11.6zM1010.8 683.5h11.6v10.5h-11.6zM706.1 663h11.6v10.5h-11.6zM728.7 652.8h11.6v10.5h-11.6zM751.3 642.5h11.6v10.5h-11.6zM1067.3 642.5h11.6v10.5h-11.6zM1078.6 632.3h11.6v10.5h-11.6zM1089.8 622.1h11.6v10.5h-11.6zM807.7 611.8h11.6v10.5h-11.6zM1101.1 611.8h11.6v10.5h-11.6zM830.3 601.6h11.6v10.5h-11.6zM898 581.1h11.6v10.5h-11.6zM931.8 570.9h11.6v10.5h-11.6zM954.4 560.6h11.6v10.5h-11.6zM1157.5 560.6h11.6v10.5h-11.6zM1010.8 550.4h11.6v10.5h-11.6zM1022.1 550.4h11.6v10.5h-11.6zM1168.8 550.4h11.6v10.5h-11.6zM1067.3 540.2h11.6v10.5h-11.6zM1101.1 529.9h11.6v10.5h-11.6zM1112.4 529.9h11.6v10.5h-11.6zM1180.1 529.9h11.6v10.5h-11.6zM1157.5 519.7h11.6v10.5h-11.6zM1180.1 519.7h11.6v10.5h-11.6z"/><path fill="#5ec1c6" d="M378.9 1287.3h11.6v10.5h-11.6zM356.3 1277.1h11.6v10.5h-11.6zM345 1266.9h11.6v10.5h-11.6zM412.7 1266.9h11.6v10.5h-11.6zM435.3 1246.4h11.6v10.5h-11.6zM469.2 1205.5h11.6v10.5h-11.6zM480.4 1195.2h11.6v10.5h-11.6zM536.9 1133.8h11.6v10.5h-11.6zM559.4 1103.1h11.6v10.5h-11.6zM593.3 1062.2h11.6v10.5h-11.6zM328.1 1021.2h5.9v10.5h-5.9zM333.7 1000.8h11.6v10.5h-11.6zM345 980.3h11.6v10.5h-11.6zM367.6 939.3h11.6v10.5h-11.6zM740 908.6h11.6v10.5h-11.6zM751.3 898.4h11.6v10.5h-11.6zM762.6 888.2h11.6v10.5h-11.6zM773.9 877.9h11.6v10.5h-11.6zM435.3 837h11.6v10.5h-11.6zM864.1 796.1h11.6v10.5h-11.6zM875.4 785.8h11.6v10.5h-11.6zM503 775.6h11.6v10.5h-11.6zM931.8 744.9h11.6v10.5h-11.6zM559.4 734.6h11.6v10.5h-11.6zM943.1 734.6h11.6v10.5h-11.6zM954.4 724.4h11.6v10.5h-11.6zM593.3 714.2h11.6v10.5h-11.6zM965.7 714.2h11.6v10.5h-11.6zM615.9 703.9h11.6v10.5h-11.6zM977 703.9h11.6v10.5h-11.6zM672.3 683.5h11.6v10.5h-11.6zM1022.1 673.2h11.6v10.5h-11.6zM1033.4 663h11.6v10.5h-11.6zM1056 642.5h11.6v10.5h-11.6zM773.9 632.3h11.6v10.5h-11.6zM796.4 622.1h11.6v10.5h-11.6zM819 611.8h11.6v10.5h-11.6zM841.6 601.6h11.6v10.5h-11.6zM1112.4 601.6h11.6v10.5h-11.6zM864.1 591.4h11.6v10.5h-11.6zM1123.7 591.4h11.6v10.5h-11.6zM909.3 581.1h11.6v10.5h-11.6zM1135 581.1h11.6v10.5h-11.6zM1146.3 570.9h11.6v10.5h-11.6zM965.7 560.6h11.6v10.5h-11.6zM1033.4 550.4h11.6v10.5h-11.6zM1157.5 550.4h11.6v10.5h-11.6zM1078.6 540.2h11.6v10.5h-11.6zM1168.8 540.2h11.6v10.5h-11.6zM1123.7 529.9h11.6v10.5h-11.6zM1168.8 529.9h11.6v10.5h-11.6zM1168.8 519.7h11.6v10.5h-11.6z"/><path fill="#59c2c0" d="M367.6 1277.1h11.6v10.5h-11.6zM378.9 1277.1h11.6v10.5h-11.6zM390.2 1277.1h11.6v10.5h-11.6zM333.7 1256.6h11.6v10.5h-11.6zM424 1256.6h11.6v10.5h-11.6zM328.1 1246.4h5.9v10.5h-5.9zM525.6 1144h11.6v10.5h-11.6zM582 1072.4h11.6v10.5h-11.6zM615.9 1031.5h11.6v10.5h-11.6zM638.4 1000.8h11.6v10.5h-11.6zM672.3 959.8h11.6v10.5h-11.6zM683.6 949.6h11.6v10.5h-11.6zM694.9 939.3h11.6v10.5h-11.6zM401.5 877.9h11.6v10.5h-11.6zM807.7 837h11.6v10.5h-11.6zM446.6 826.8h11.6v10.5h-11.6zM819 826.8h11.6v10.5h-11.6zM457.9 816.5h11.6v10.5h-11.6zM469.2 806.3h11.6v10.5h-11.6zM480.4 796.1h11.6v10.5h-11.6zM491.7 785.8h11.6v10.5h-11.6zM886.7 775.6h11.6v10.5h-11.6zM548.2 744.9h11.6v10.5h-11.6zM649.7 693.7h11.6v10.5h-11.6zM988.3 693.7h11.6v10.5h-11.6zM999.6 683.5h11.6v10.5h-11.6zM694.9 673.2h11.6v10.5h-11.6zM717.4 663h11.6v10.5h-11.6zM740 652.8h11.6v10.5h-11.6zM1044.7 652.8h11.6v10.5h-11.6zM762.6 642.5h11.6v10.5h-11.6zM1067.3 632.3h11.6v10.5h-11.6zM1078.6 622.1h11.6v10.5h-11.6zM1089.8 611.8h11.6v10.5h-11.6zM1101.1 601.6h11.6v10.5h-11.6zM875.4 591.4h11.6v10.5h-11.6zM1112.4 591.4h11.6v10.5h-11.6zM1123.7 581.1h11.6v10.5h-11.6zM943.1 570.9h11.6v10.5h-11.6zM1135 570.9h11.6v10.5h-11.6zM977 560.6h11.6v10.5h-11.6zM988.3 560.6h11.6v10.5h-11.6zM1146.3 560.6h11.6v10.5h-11.6zM1044.7 550.4h11.6v10.5h-11.6zM1089.8 540.2h11.6v10.5h-11.6zM1157.5 540.2h11.6v10.5h-11.6zM1157.5 529.9h11.6v10.5h-11.6z"/><path fill="#54c2ba" d="M356.3 1266.9h11.6v10.5h-11.6zM367.6 1266.9h11.6v10.5h-11.6zM345 1256.6h11.6v10.5h-11.6zM457.9 1215.7h11.6v10.5h-11.6zM503 1164.5h11.6v10.5h-11.6zM514.3 1154.3h11.6v10.5h-11.6zM548.2 1113.3h11.6v10.5h-11.6zM570.7 1082.6h11.6v10.5h-11.6zM604.6 1041.7h11.6v10.5h-11.6zM328.1 1031.5h5.9v10.5h-5.9zM333.7 1011h11.6v10.5h-11.6zM356.3 970h11.6v10.5h-11.6zM661 970h11.6v10.5h-11.6zM706.1 929.1h11.6v10.5h-11.6zM378.9 918.9h11.6v10.5h-11.6zM390.2 898.4h11.6v10.5h-11.6zM412.7 867.7h11.6v10.5h-11.6zM785.1 857.5h11.6v10.5h-11.6zM796.4 847.2h11.6v10.5h-11.6zM830.3 816.5h11.6v10.5h-11.6zM841.6 806.3h11.6v10.5h-11.6zM852.9 796.1h11.6v10.5h-11.6zM898 765.3h11.6v10.5h-11.6zM536.9 755.1h11.6v10.5h-11.6zM909.3 755.1h11.6v10.5h-11.6zM920.6 744.9h11.6v10.5h-11.6zM582 724.4h11.6v10.5h-11.6zM604.6 714.2h11.6v10.5h-11.6zM627.2 703.9h11.6v10.5h-11.6zM683.6 683.5h11.6v10.5h-11.6zM1010.8 673.2h11.6v10.5h-11.6zM1022.1 663h11.6v10.5h-11.6zM785.1 632.3h11.6v10.5h-11.6zM807.7 622.1h11.6v10.5h-11.6zM830.3 611.8h11.6v10.5h-11.6zM852.9 601.6h11.6v10.5h-11.6zM886.7 591.4h11.6v10.5h-11.6zM920.6 581.1h11.6v10.5h-11.6zM954.4 570.9h11.6v10.5h-11.6zM999.6 560.6h11.6v10.5h-11.6zM1135 560.6h11.6v10.5h-11.6zM1056 550.4h11.6v10.5h-11.6zM1146.3 550.4h11.6v10.5h-11.6zM1146.3 540.2h11.6v10.5h-11.6zM1135 529.9h11.6v10.5h-11.6zM1146.3 529.9h11.6v10.5h-11.6z"/><path fill="#50c3b4" d="M378.9 1266.9h11.6v10.5h-11.6zM401.5 1266.9h11.6v10.5h-11.6zM333.7 1246.4h11.6v10.5h-11.6zM328.1 1236.2h5.9v10.5h-5.9zM446.6 1225.9h11.6v10.5h-11.6zM480.4 1185h11.6v10.5h-11.6zM491.7 1174.7h11.6v10.5h-11.6zM536.9 1123.6h11.6v10.5h-11.6zM627.2 1011h11.6v10.5h-11.6zM345 990.5h11.6v10.5h-11.6zM649.7 980.3h11.6v10.5h-11.6zM367.6 949.6h11.6v10.5h-11.6zM717.4 918.9h11.6v10.5h-11.6zM728.7 908.6h11.6v10.5h-11.6zM762.6 877.9h11.6v10.5h-11.6zM773.9 867.7h11.6v10.5h-11.6zM864.1 785.8h11.6v10.5h-11.6zM570.7 734.6h11.6v10.5h-11.6zM931.8 734.6h11.6v10.5h-11.6zM943.1 724.4h11.6v10.5h-11.6zM954.4 714.2h11.6v10.5h-11.6zM965.7 703.9h11.6v10.5h-11.6zM661 693.7h11.6v10.5h-11.6zM977 693.7h11.6v10.5h-11.6zM988.3 683.5h11.6v10.5h-11.6zM706.1 673.2h11.6v10.5h-11.6zM728.7 663h11.6v10.5h-11.6zM751.3 652.8h11.6v10.5h-11.6zM1033.4 652.8h11.6v10.5h-11.6zM773.9 642.5h11.6v10.5h-11.6zM1044.7 642.5h11.6v10.5h-11.6zM1056 632.3h11.6v10.5h-11.6zM1067.3 622.1h11.6v10.5h-11.6zM1078.6 611.8h11.6v10.5h-11.6zM864.1 601.6h11.6v10.5h-11.6zM1089.8 601.6h11.6v10.5h-11.6zM898 591.4h11.6v10.5h-11.6zM1101.1 591.4h11.6v10.5h-11.6zM931.8 581.1h11.6v10.5h-11.6zM1112.4 581.1h11.6v10.5h-11.6zM965.7 570.9h11.6v10.5h-11.6zM1123.7 570.9h11.6v10.5h-11.6zM1010.8 560.6h11.6v10.5h-11.6zM1022.1 560.6h11.6v10.5h-11.6zM1067.3 550.4h11.6v10.5h-11.6zM1135 550.4h11.6v10.5h-11.6zM1101.1 540.2h11.6v10.5h-11.6zM1135 540.2h11.6v10.5h-11.6z"/><path fill="#4cc3ad" d="M390.2 1266.9h11.6v10.5h-11.6zM356.3 1256.6h11.6v10.5h-11.6zM367.6 1256.6h11.6v10.5h-11.6zM412.7 1256.6h11.6v10.5h-11.6zM435.3 1236.2h11.6v10.5h-11.6zM559.4 1092.9h11.6v10.5h-11.6zM593.3 1051.9h11.6v10.5h-11.6zM328.1 1041.7h5.9v10.5h-5.9zM378.9 929.1h11.6v10.5h-11.6zM740 898.4h11.6v10.5h-11.6zM751.3 888.2h11.6v10.5h-11.6zM424 857.5h11.6v10.5h-11.6zM875.4 775.6h11.6v10.5h-11.6zM525.6 765.3h11.6v10.5h-11.6zM886.7 765.3h11.6v10.5h-11.6zM593.3 724.4h11.6v10.5h-11.6zM615.9 714.2h11.6v10.5h-11.6zM638.4 703.9h11.6v10.5h-11.6zM999.6 673.2h11.6v10.5h-11.6zM796.4 632.3h11.6v10.5h-11.6zM819 622.1h11.6v10.5h-11.6zM841.6 611.8h11.6v10.5h-11.6zM1067.3 611.8h11.6v10.5h-11.6zM875.4 601.6h11.6v10.5h-11.6zM1078.6 601.6h11.6v10.5h-11.6zM909.3 591.4h11.6v10.5h-11.6zM1089.8 591.4h11.6v10.5h-11.6zM943.1 581.1h11.6v10.5h-11.6zM1101.1 581.1h11.6v10.5h-11.6zM977 570.9h11.6v10.5h-11.6zM1112.4 570.9h11.6v10.5h-11.6zM1033.4 560.6h11.6v10.5h-11.6zM1123.7 560.6h11.6v10.5h-11.6zM1123.7 550.4h11.6v10.5h-11.6zM1123.7 540.2h11.6v10.5h-11.6z"/><path fill="#49c4a6" d="M345 1246.4h11.6v10.5h-11.6zM356.3 1246.4h11.6v10.5h-11.6zM424 1246.4h11.6v10.5h-11.6zM333.7 1236.2h11.6v10.5h-11.6zM328.1 1225.9h5.9v10.5h-5.9zM457.9 1205.5h11.6v10.5h-11.6zM469.2 1195.2h11.6v10.5h-11.6zM525.6 1133.8h11.6v10.5h-11.6zM582 1062.2h11.6v10.5h-11.6zM333.7 1021.2h11.6v10.5h-11.6zM615.9 1021.2h11.6v10.5h-11.6zM345 1000.8h11.6v10.5h-11.6zM638.4 990.5h11.6v10.5h-11.6zM356.3 980.3h11.6v10.5h-11.6zM367.6 959.8h11.6v10.5h-11.6zM390.2 908.6h11.6v10.5h-11.6zM401.5 888.2h11.6v10.5h-11.6zM435.3 847.2h11.6v10.5h-11.6zM785.1 847.2h11.6v10.5h-11.6zM796.4 837h11.6v10.5h-11.6zM807.7 826.8h11.6v10.5h-11.6zM819 816.5h11.6v10.5h-11.6zM830.3 806.3h11.6v10.5h-11.6zM841.6 796.1h11.6v10.5h-11.6zM514.3 775.6h11.6v10.5h-11.6zM898 755.1h11.6v10.5h-11.6zM559.4 744.9h11.6v10.5h-11.6zM909.3 744.9h11.6v10.5h-11.6zM649.7 703.9h11.6v10.5h-11.6zM672.3 693.7h11.6v10.5h-11.6zM694.9 683.5h11.6v10.5h-11.6zM717.4 673.2h11.6v10.5h-11.6zM740 663h11.6v10.5h-11.6zM1010.8 663h11.6v10.5h-11.6zM762.6 652.8h11.6v10.5h-11.6zM1022.1 652.8h11.6v10.5h-11.6zM785.1 642.5h11.6v10.5h-11.6zM1033.4 642.5h11.6v10.5h-11.6zM1044.7 632.3h11.6v10.5h-11.6zM1056 622.1h11.6v10.5h-11.6zM886.7 601.6h11.6v10.5h-11.6zM920.6 591.4h11.6v10.5h-11.6zM988.3 570.9h11.6v10.5h-11.6zM1101.1 570.9h11.6v10.5h-11.6zM1044.7 560.6h11.6v10.5h-11.6zM1112.4 560.6h11.6v10.5h-11.6zM1078.6 550.4h11.6v10.5h-11.6zM1112.4 550.4h11.6v10.5h-11.6zM1112.4 540.2h11.6v10.5h-11.6z"/><path fill="#46c49f" d="M378.9 1256.6h11.6v10.5h-11.6zM503 1154.3h11.6v10.5h-11.6zM514.3 1144h11.6v10.5h-11.6zM548.2 1103.1h11.6v10.5h-11.6zM328.1 1051.9h5.9v10.5h-5.9zM604.6 1031.5h11.6v10.5h-11.6zM378.9 939.3h11.6v10.5h-11.6zM773.9 857.5h11.6v10.5h-11.6zM446.6 837h11.6v10.5h-11.6zM457.9 826.8h11.6v10.5h-11.6zM491.7 796.1h11.6v10.5h-11.6zM503 785.8h11.6v10.5h-11.6zM852.9 785.8h11.6v10.5h-11.6zM864.1 775.6h11.6v10.5h-11.6zM548.2 755.1h11.6v10.5h-11.6zM582 734.6h11.6v10.5h-11.6zM920.6 734.6h11.6v10.5h-11.6zM604.6 724.4h11.6v10.5h-11.6zM931.8 724.4h11.6v10.5h-11.6zM627.2 714.2h11.6v10.5h-11.6zM943.1 714.2h11.6v10.5h-11.6zM954.4 703.9h11.6v10.5h-11.6zM965.7 693.7h11.6v10.5h-11.6zM706.1 683.5h11.6v10.5h-11.6zM977 683.5h11.6v10.5h-11.6zM988.3 673.2h11.6v10.5h-11.6zM807.7 632.3h11.6v10.5h-11.6zM830.3 622.1h11.6v10.5h-11.6zM852.9 611.8h11.6v10.5h-11.6zM1056 611.8h11.6v10.5h-11.6zM1067.3 601.6h11.6v10.5h-11.6zM1078.6 591.4h11.6v10.5h-11.6zM954.4 581.1h11.6v10.5h-11.6zM1089.8 581.1h11.6v10.5h-11.6zM999.6 570.9h11.6v10.5h-11.6zM1101.1 560.6h11.6v10.5h-11.6zM1101.1 550.4h11.6v10.5h-11.6z"/><path fill="#43c498" d="M390.2 1256.6h11.6v10.5h-11.6zM401.5 1256.6h11.6v10.5h-11.6zM367.6 1246.4h11.6v10.5h-11.6zM345 1236.2h11.6v10.5h-11.6zM333.7 1225.9h11.6v10.5h-11.6zM328.1 1215.7h5.9v10.5h-5.9zM446.6 1215.7h11.6v10.5h-11.6zM480.4 1174.7h11.6v10.5h-11.6zM491.7 1164.5h11.6v10.5h-11.6zM536.9 1113.3h11.6v10.5h-11.6zM570.7 1072.4h11.6v10.5h-11.6zM328.1 1062.2h5.9v10.5h-5.9zM333.7 1031.5h11.6v10.5h-11.6zM627.2 1000.8h11.6v10.5h-11.6zM672.3 949.6h11.6v10.5h-11.6zM683.6 939.3h11.6v10.5h-11.6zM694.9 929.1h11.6v10.5h-11.6zM412.7 877.9h11.6v10.5h-11.6zM751.3 877.9h11.6v10.5h-11.6zM762.6 867.7h11.6v10.5h-11.6zM469.2 816.5h11.6v10.5h-11.6zM480.4 806.3h11.6v10.5h-11.6zM536.9 765.3h11.6v10.5h-11.6zM875.4 765.3h11.6v10.5h-11.6zM661 703.9h11.6v10.5h-11.6zM683.6 693.7h11.6v10.5h-11.6zM728.7 673.2h11.6v10.5h-11.6zM751.3 663h11.6v10.5h-11.6zM999.6 663h11.6v10.5h-11.6zM773.9 652.8h11.6v10.5h-11.6zM1010.8 652.8h11.6v10.5h-11.6zM796.4 642.5h11.6v10.5h-11.6zM1022.1 642.5h11.6v10.5h-11.6zM1033.4 632.3h11.6v10.5h-11.6zM1044.7 622.1h11.6v10.5h-11.6zM864.1 611.8h11.6v10.5h-11.6zM898 601.6h11.6v10.5h-11.6zM931.8 591.4h11.6v10.5h-11.6zM1067.3 591.4h11.6v10.5h-11.6zM965.7 581.1h11.6v10.5h-11.6zM1078.6 581.1h11.6v10.5h-11.6zM1010.8 570.9h11.6v10.5h-11.6zM1089.8 570.9h11.6v10.5h-11.6zM1056 560.6h11.6v10.5h-11.6zM1089.8 560.6h11.6v10.5h-11.6zM1089.8 550.4h11.6v10.5h-11.6z"/><path fill="#41c491" d="M356.3 1236.2h11.6v10.5h-11.6zM345 1225.9h11.6v10.5h-11.6zM435.3 1225.9h11.6v10.5h-11.6zM559.4 1082.6h11.6v10.5h-11.6zM593.3 1041.7h11.6v10.5h-11.6zM345 1011h11.6v10.5h-11.6zM356.3 990.5h11.6v10.5h-11.6zM367.6 970h11.6v10.5h-11.6zM661 959.8h11.6v10.5h-11.6zM390.2 918.9h11.6v10.5h-11.6zM706.1 918.9h11.6v10.5h-11.6zM717.4 908.6h11.6v10.5h-11.6zM401.5 898.4h11.6v10.5h-11.6zM728.7 898.4h11.6v10.5h-11.6zM740 888.2h11.6v10.5h-11.6zM424 867.7h11.6v10.5h-11.6zM796.4 826.8h11.6v10.5h-11.6zM807.7 816.5h11.6v10.5h-11.6zM819 806.3h11.6v10.5h-11.6zM830.3 796.1h11.6v10.5h-11.6zM886.7 755.1h11.6v10.5h-11.6zM570.7 744.9h11.6v10.5h-11.6zM898 744.9h11.6v10.5h-11.6zM593.3 734.6h11.6v10.5h-11.6zM638.4 714.2h11.6v10.5h-11.6zM694.9 693.7h11.6v10.5h-11.6zM819 632.3h11.6v10.5h-11.6zM841.6 622.1h11.6v10.5h-11.6zM875.4 611.8h11.6v10.5h-11.6zM1044.7 611.8h11.6v10.5h-11.6zM909.3 601.6h11.6v10.5h-11.6zM1056 601.6h11.6v10.5h-11.6zM943.1 591.4h11.6v10.5h-11.6zM977 581.1h11.6v10.5h-11.6zM1067.3 581.1h11.6v10.5h-11.6zM1022.1 570.9h11.6v10.5h-11.6zM1078.6 570.9h11.6v10.5h-11.6zM1078.6 560.6h11.6v10.5h-11.6z"/><path fill="#3fc389" d="M378.9 1246.4h11.6v10.5h-11.6zM412.7 1246.4h11.6v10.5h-11.6zM424 1236.2h11.6v10.5h-11.6zM328.1 1205.5h5.9v10.5h-5.9zM457.9 1195.2h11.6v10.5h-11.6zM469.2 1185h11.6v10.5h-11.6zM525.6 1123.6h11.6v10.5h-11.6zM328.1 1072.4h5.9v10.5h-5.9zM333.7 1041.7h11.6v10.5h-11.6zM615.9 1011h11.6v10.5h-11.6zM649.7 970h11.6v10.5h-11.6zM378.9 949.6h11.6v10.5h-11.6zM435.3 857.5h11.6v10.5h-11.6zM773.9 847.2h11.6v10.5h-11.6zM785.1 837h11.6v10.5h-11.6zM841.6 785.8h11.6v10.5h-11.6zM525.6 775.6h11.6v10.5h-11.6zM852.9 775.6h11.6v10.5h-11.6zM559.4 755.1h11.6v10.5h-11.6zM909.3 734.6h11.6v10.5h-11.6zM615.9 724.4h11.6v10.5h-11.6zM920.6 724.4h11.6v10.5h-11.6zM931.8 714.2h11.6v10.5h-11.6zM672.3 703.9h11.6v10.5h-11.6zM943.1 703.9h11.6v10.5h-11.6zM954.4 693.7h11.6v10.5h-11.6zM717.4 683.5h11.6v10.5h-11.6zM965.7 683.5h11.6v10.5h-11.6zM740 673.2h11.6v10.5h-11.6zM977 673.2h11.6v10.5h-11.6zM762.6 663h11.6v10.5h-11.6zM988.3 663h11.6v10.5h-11.6zM785.1 652.8h11.6v10.5h-11.6zM999.6 652.8h11.6v10.5h-11.6zM807.7 642.5h11.6v10.5h-11.6zM1010.8 642.5h11.6v10.5h-11.6zM1022.1 632.3h11.6v10.5h-11.6zM1033.4 622.1h11.6v10.5h-11.6zM920.6 601.6h11.6v10.5h-11.6zM1056 591.4h11.6v10.5h-11.6zM1033.4 570.9h11.6v10.5h-11.6zM1067.3 570.9h11.6v10.5h-11.6zM1067.3 560.6h11.6v10.5h-11.6z"/><path fill="#3ec382" d="M367.6 1236.2h11.6v10.5h-11.6zM333.7 1215.7h11.6v10.5h-11.6zM333.7 1205.5h11.6v10.5h-11.6zM328.1 1195.2h5.9v10.5h-5.9zM328.1 1185h5.9v10.5h-5.9zM514.3 1133.8h11.6v10.5h-11.6zM548.2 1092.9h11.6v10.5h-11.6zM328.1 1082.6h5.9v10.5h-5.9zM333.7 1051.9h11.6v10.5h-11.6zM582 1051.9h11.6v10.5h-11.6zM345 1021.2h11.6v10.5h-11.6zM356.3 1000.8h11.6v10.5h-11.6zM367.6 980.3h11.6v10.5h-11.6zM638.4 980.3h11.6v10.5h-11.6zM390.2 929.1h11.6v10.5h-11.6zM412.7 888.2h11.6v10.5h-11.6zM762.6 857.5h11.6v10.5h-11.6zM514.3 785.8h11.6v10.5h-11.6zM864.1 765.3h11.6v10.5h-11.6zM649.7 714.2h11.6v10.5h-11.6zM830.3 632.3h11.6v10.5h-11.6zM852.9 622.1h11.6v10.5h-11.6zM886.7 611.8h11.6v10.5h-11.6zM1044.7 601.6h11.6v10.5h-11.6zM954.4 591.4h11.6v10.5h-11.6zM988.3 581.1h11.6v10.5h-11.6zM1056 581.1h11.6v10.5h-11.6zM1056 570.9h11.6v10.5h-11.6z"/><path fill="#3dc37a" d="M390.2 1246.4h11.6v10.5h-11.6zM401.5 1246.4h11.6v10.5h-11.6zM356.3 1225.9h11.6v10.5h-11.6zM345 1215.7h11.6v10.5h-11.6zM446.6 1205.5h11.6v10.5h-11.6zM328.1 1174.7h5.9v10.5h-5.9zM503 1144h11.6v10.5h-11.6zM328.1 1103.1h5.9v10.5h-5.9zM328.1 1092.9h5.9v10.5h-5.9zM333.7 1062.2h11.6v10.5h-11.6zM570.7 1062.2h11.6v10.5h-11.6zM604.6 1021.2h11.6v10.5h-11.6zM378.9 959.8h11.6v10.5h-11.6zM401.5 908.6h11.6v10.5h-11.6zM751.3 867.7h11.6v10.5h-11.6zM446.6 847.2h11.6v10.5h-11.6zM457.9 837h11.6v10.5h-11.6zM503 796.1h11.6v10.5h-11.6zM548.2 765.3h11.6v10.5h-11.6zM875.4 755.1h11.6v10.5h-11.6zM582 744.9h11.6v10.5h-11.6zM886.7 744.9h11.6v10.5h-11.6zM604.6 734.6h11.6v10.5h-11.6zM627.2 724.4h11.6v10.5h-11.6zM661 714.2h11.6v10.5h-11.6zM683.6 703.9h11.6v10.5h-11.6zM706.1 693.7h11.6v10.5h-11.6zM728.7 683.5h11.6v10.5h-11.6zM954.4 683.5h11.6v10.5h-11.6zM751.3 673.2h11.6v10.5h-11.6zM965.7 673.2h11.6v10.5h-11.6zM773.9 663h11.6v10.5h-11.6zM977 663h11.6v10.5h-11.6zM796.4 652.8h11.6v10.5h-11.6zM819 642.5h11.6v10.5h-11.6zM864.1 622.1h11.6v10.5h-11.6zM1022.1 622.1h11.6v10.5h-11.6zM898 611.8h11.6v10.5h-11.6zM1033.4 611.8h11.6v10.5h-11.6zM931.8 601.6h11.6v10.5h-11.6zM965.7 591.4h11.6v10.5h-11.6zM1044.7 591.4h11.6v10.5h-11.6zM999.6 581.1h11.6v10.5h-11.6zM1044.7 581.1h11.6v10.5h-11.6zM1044.7 570.9h11.6v10.5h-11.6z"/><path fill="#3cc272" d="M378.9 1236.2h11.6v10.5h-11.6zM412.7 1236.2h11.6v10.5h-11.6zM424 1225.9h11.6v10.5h-11.6zM435.3 1215.7h11.6v10.5h-11.6zM333.7 1195.2h11.6v10.5h-11.6zM328.1 1164.5h5.9v10.5h-5.9zM328.1 1154.3h5.9v10.5h-5.9zM491.7 1154.3h11.6v10.5h-11.6zM328.1 1113.3h5.9v10.5h-5.9zM536.9 1103.1h11.6v10.5h-11.6zM345 1031.5h11.6v10.5h-11.6zM627.2 990.5h11.6v10.5h-11.6zM424 877.9h11.6v10.5h-11.6zM740 877.9h11.6v10.5h-11.6zM469.2 826.8h11.6v10.5h-11.6zM785.1 826.8h11.6v10.5h-11.6zM480.4 816.5h11.6v10.5h-11.6zM796.4 816.5h11.6v10.5h-11.6zM491.7 806.3h11.6v10.5h-11.6zM807.7 806.3h11.6v10.5h-11.6zM819 796.1h11.6v10.5h-11.6zM830.3 785.8h11.6v10.5h-11.6zM841.6 775.6h11.6v10.5h-11.6zM570.7 755.1h11.6v10.5h-11.6zM898 734.6h11.6v10.5h-11.6zM909.3 724.4h11.6v10.5h-11.6zM920.6 714.2h11.6v10.5h-11.6zM931.8 703.9h11.6v10.5h-11.6zM717.4 693.7h11.6v10.5h-11.6zM943.1 693.7h11.6v10.5h-11.6zM988.3 652.8h11.6v10.5h-11.6zM999.6 642.5h11.6v10.5h-11.6zM841.6 632.3h11.6v10.5h-11.6zM1010.8 632.3h11.6v10.5h-11.6zM909.3 611.8h11.6v10.5h-11.6zM943.1 601.6h11.6v10.5h-11.6zM1033.4 601.6h11.6v10.5h-11.6zM1033.4 591.4h11.6v10.5h-11.6z"/><path fill="#3cc16b" d="M367.6 1225.9h11.6v10.5h-11.6zM356.3 1215.7h11.6v10.5h-11.6zM345 1205.5h11.6v10.5h-11.6zM333.7 1185h11.6v10.5h-11.6zM469.2 1174.7h11.6v10.5h-11.6zM480.4 1164.5h11.6v10.5h-11.6zM328.1 1144h5.9v10.5h-5.9zM328.1 1133.8h5.9v10.5h-5.9zM328.1 1123.6h5.9v10.5h-5.9zM525.6 1113.3h11.6v10.5h-11.6zM333.7 1072.4h11.6v10.5h-11.6zM559.4 1072.4h11.6v10.5h-11.6zM345 1041.7h11.6v10.5h-11.6zM593.3 1031.5h11.6v10.5h-11.6zM356.3 1011h11.6v10.5h-11.6zM367.6 990.5h11.6v10.5h-11.6zM390.2 939.3h11.6v10.5h-11.6zM672.3 939.3h11.6v10.5h-11.6zM683.6 929.1h11.6v10.5h-11.6zM694.9 918.9h11.6v10.5h-11.6zM706.1 908.6h11.6v10.5h-11.6zM717.4 898.4h11.6v10.5h-11.6zM728.7 888.2h11.6v10.5h-11.6zM773.9 837h11.6v10.5h-11.6zM536.9 775.6h11.6v10.5h-11.6zM852.9 765.3h11.6v10.5h-11.6zM593.3 744.9h11.6v10.5h-11.6zM615.9 734.6h11.6v10.5h-11.6zM638.4 724.4h11.6v10.5h-11.6zM672.3 714.2h11.6v10.5h-11.6zM694.9 703.9h11.6v10.5h-11.6zM740 683.5h11.6v10.5h-11.6zM762.6 673.2h11.6v10.5h-11.6zM785.1 663h11.6v10.5h-11.6zM807.7 652.8h11.6v10.5h-11.6zM852.9 632.3h11.6v10.5h-11.6zM875.4 622.1h11.6v10.5h-11.6zM1010.8 622.1h11.6v10.5h-11.6zM1022.1 611.8h11.6v10.5h-11.6zM977 591.4h11.6v10.5h-11.6zM1010.8 581.1h11.6v10.5h-11.6zM1033.4 581.1h11.6v10.5h-11.6z"/><path fill="#3dc063" d="M390.2 1236.2h11.6v10.5h-11.6zM401.5 1236.2h11.6v10.5h-11.6zM345 1195.2h11.6v10.5h-11.6zM457.9 1185h11.6v10.5h-11.6zM333.7 1174.7h11.6v10.5h-11.6zM333.7 1092.9h11.6v10.5h-11.6zM333.7 1082.6h11.6v10.5h-11.6zM548.2 1082.6h11.6v10.5h-11.6zM582 1041.7h11.6v10.5h-11.6zM615.9 1000.8h11.6v10.5h-11.6zM378.9 970h11.6v10.5h-11.6zM661 949.6h11.6v10.5h-11.6zM401.5 918.9h11.6v10.5h-11.6zM412.7 898.4h11.6v10.5h-11.6zM435.3 867.7h11.6v10.5h-11.6zM762.6 847.2h11.6v10.5h-11.6zM525.6 785.8h11.6v10.5h-11.6zM559.4 765.3h11.6v10.5h-11.6zM864.1 755.1h11.6v10.5h-11.6zM875.4 744.9h11.6v10.5h-11.6zM649.7 724.4h11.6v10.5h-11.6zM954.4 673.2h11.6v10.5h-11.6zM965.7 663h11.6v10.5h-11.6zM977 652.8h11.6v10.5h-11.6zM830.3 642.5h11.6v10.5h-11.6zM988.3 642.5h11.6v10.5h-11.6zM999.6 632.3h11.6v10.5h-11.6zM886.7 622.1h11.6v10.5h-11.6zM920.6 611.8h11.6v10.5h-11.6zM954.4 601.6h11.6v10.5h-11.6zM1022.1 601.6h11.6v10.5h-11.6zM1022.1 591.4h11.6v10.5h-11.6zM1022.1 581.1h11.6v10.5h-11.6z"/><path fill="#3ebe5b" d="M378.9 1225.9h11.6v10.5h-11.6zM367.6 1215.7h11.6v10.5h-11.6zM424 1215.7h11.6v10.5h-11.6zM356.3 1205.5h11.6v10.5h-11.6zM435.3 1205.5h11.6v10.5h-11.6zM446.6 1195.2h11.6v10.5h-11.6zM345 1185h11.6v10.5h-11.6zM333.7 1164.5h11.6v10.5h-11.6zM333.7 1154.3h11.6v10.5h-11.6zM333.7 1123.6h11.6v10.5h-11.6zM514.3 1123.6h11.6v10.5h-11.6zM333.7 1113.3h11.6v10.5h-11.6zM333.7 1103.1h11.6v10.5h-11.6zM345 1051.9h11.6v10.5h-11.6zM356.3 1021.2h11.6v10.5h-11.6zM367.6 1000.8h11.6v10.5h-11.6zM649.7 959.8h11.6v10.5h-11.6zM390.2 949.6h11.6v10.5h-11.6zM446.6 857.5h11.6v10.5h-11.6zM751.3 857.5h11.6v10.5h-11.6zM514.3 796.1h11.6v10.5h-11.6zM582 755.1h11.6v10.5h-11.6zM886.7 734.6h11.6v10.5h-11.6zM898 724.4h11.6v10.5h-11.6zM683.6 714.2h11.6v10.5h-11.6zM909.3 714.2h11.6v10.5h-11.6zM706.1 703.9h11.6v10.5h-11.6zM728.7 693.7h11.6v10.5h-11.6zM931.8 693.7h11.6v10.5h-11.6zM751.3 683.5h11.6v10.5h-11.6zM943.1 683.5h11.6v10.5h-11.6zM773.9 673.2h11.6v10.5h-11.6zM796.4 663h11.6v10.5h-11.6zM819 652.8h11.6v10.5h-11.6zM864.1 632.3h11.6v10.5h-11.6zM898 622.1h11.6v10.5h-11.6zM931.8 611.8h11.6v10.5h-11.6zM1010.8 611.8h11.6v10.5h-11.6zM988.3 591.4h11.6v10.5h-11.6z"/><path fill="#3fbd54" d="M390.2 1225.9h11.6v10.5h-11.6zM412.7 1225.9h11.6v10.5h-11.6zM356.3 1195.2h11.6v10.5h-11.6zM345 1174.7h11.6v10.5h-11.6zM333.7 1144h11.6v10.5h-11.6zM333.7 1133.8h11.6v10.5h-11.6zM503 1133.8h11.6v10.5h-11.6zM536.9 1092.9h11.6v10.5h-11.6zM345 1062.2h11.6v10.5h-11.6zM570.7 1051.9h11.6v10.5h-11.6zM356.3 1031.5h11.6v10.5h-11.6zM604.6 1011h11.6v10.5h-11.6zM378.9 980.3h11.6v10.5h-11.6zM638.4 970h11.6v10.5h-11.6zM401.5 929.1h11.6v10.5h-11.6zM424 888.2h11.6v10.5h-11.6zM740 867.7h11.6v10.5h-11.6zM457.9 847.2h11.6v10.5h-11.6zM785.1 816.5h11.6v10.5h-11.6zM503 806.3h11.6v10.5h-11.6zM796.4 806.3h11.6v10.5h-11.6zM807.7 796.1h11.6v10.5h-11.6zM819 785.8h11.6v10.5h-11.6zM548.2 775.6h11.6v10.5h-11.6zM830.3 775.6h11.6v10.5h-11.6zM841.6 765.3h11.6v10.5h-11.6zM604.6 744.9h11.6v10.5h-11.6zM627.2 734.6h11.6v10.5h-11.6zM661 724.4h11.6v10.5h-11.6zM920.6 703.9h11.6v10.5h-11.6zM954.4 663h11.6v10.5h-11.6zM965.7 652.8h11.6v10.5h-11.6zM841.6 642.5h11.6v10.5h-11.6zM977 642.5h11.6v10.5h-11.6zM988.3 632.3h11.6v10.5h-11.6zM999.6 622.1h11.6v10.5h-11.6zM1010.8 601.6h11.6v10.5h-11.6zM1010.8 591.4h11.6v10.5h-11.6z"/><path fill="#41bb4d" d="M401.5 1225.9h11.6v10.5h-11.6zM378.9 1215.7h11.6v10.5h-11.6zM367.6 1205.5h11.6v10.5h-11.6zM345 1164.5h11.6v10.5h-11.6zM480.4 1154.3h11.6v10.5h-11.6zM491.7 1144h11.6v10.5h-11.6zM345 1082.6h11.6v10.5h-11.6zM345 1072.4h11.6v10.5h-11.6zM559.4 1062.2h11.6v10.5h-11.6zM367.6 1011h11.6v10.5h-11.6zM390.2 959.8h11.6v10.5h-11.6zM412.7 908.6h11.6v10.5h-11.6zM728.7 877.9h11.6v10.5h-11.6zM469.2 837h11.6v10.5h-11.6zM480.4 826.8h11.6v10.5h-11.6zM773.9 826.8h11.6v10.5h-11.6zM491.7 816.5h11.6v10.5h-11.6zM570.7 765.3h11.6v10.5h-11.6zM852.9 755.1h11.6v10.5h-11.6zM864.1 744.9h11.6v10.5h-11.6zM694.9 714.2h11.6v10.5h-11.6zM717.4 703.9h11.6v10.5h-11.6zM740 693.7h11.6v10.5h-11.6zM762.6 683.5h11.6v10.5h-11.6zM785.1 673.2h11.6v10.5h-11.6zM943.1 673.2h11.6v10.5h-11.6zM875.4 632.3h11.6v10.5h-11.6zM909.3 622.1h11.6v10.5h-11.6zM988.3 622.1h11.6v10.5h-11.6zM999.6 611.8h11.6v10.5h-11.6zM965.7 601.6h11.6v10.5h-11.6zM999.6 601.6h11.6v10.5h-11.6zM999.6 591.4h11.6v10.5h-11.6z"/><path fill="#43b945" d="M390.2 1215.7h11.6v10.5h-11.6zM367.6 1195.2h11.6v10.5h-11.6zM356.3 1185h11.6v10.5h-11.6zM457.9 1174.7h11.6v10.5h-11.6zM469.2 1164.5h11.6v10.5h-11.6zM345 1154.3h11.6v10.5h-11.6zM345 1103.1h11.6v10.5h-11.6zM525.6 1103.1h11.6v10.5h-11.6zM345 1092.9h11.6v10.5h-11.6zM356.3 1041.7h11.6v10.5h-11.6zM593.3 1021.2h11.6v10.5h-11.6zM378.9 990.5h11.6v10.5h-11.6zM627.2 980.3h11.6v10.5h-11.6zM401.5 939.3h11.6v10.5h-11.6zM717.4 888.2h11.6v10.5h-11.6zM435.3 877.9h11.6v10.5h-11.6zM762.6 837h11.6v10.5h-11.6zM536.9 785.8h11.6v10.5h-11.6zM593.3 755.1h11.6v10.5h-11.6zM615.9 744.9h11.6v10.5h-11.6zM638.4 734.6h11.6v10.5h-11.6zM875.4 734.6h11.6v10.5h-11.6zM672.3 724.4h11.6v10.5h-11.6zM886.7 724.4h11.6v10.5h-11.6zM931.8 683.5h11.6v10.5h-11.6zM807.7 663h11.6v10.5h-11.6zM830.3 652.8h11.6v10.5h-11.6zM852.9 642.5h11.6v10.5h-11.6zM965.7 642.5h11.6v10.5h-11.6zM977 632.3h11.6v10.5h-11.6zM943.1 611.8h11.6v10.5h-11.6zM988.3 611.8h11.6v10.5h-11.6z"/><path fill="#46b63e" d="M401.5 1215.7h11.6v10.5h-11.6zM412.7 1215.7h11.6v10.5h-11.6zM378.9 1205.5h11.6v10.5h-11.6zM424 1205.5h11.6v10.5h-11.6zM435.3 1195.2h11.6v10.5h-11.6zM446.6 1185h11.6v10.5h-11.6zM356.3 1174.7h11.6v10.5h-11.6zM345 1144h11.6v10.5h-11.6zM345 1133.8h11.6v10.5h-11.6zM345 1123.6h11.6v10.5h-11.6zM345 1113.3h11.6v10.5h-11.6zM514.3 1113.3h11.6v10.5h-11.6zM548.2 1072.4h11.6v10.5h-11.6zM356.3 1051.9h11.6v10.5h-11.6zM367.6 1021.2h11.6v10.5h-11.6zM390.2 970h11.6v10.5h-11.6zM412.7 918.9h11.6v10.5h-11.6zM683.6 918.9h11.6v10.5h-11.6zM694.9 908.6h11.6v10.5h-11.6zM424 898.4h11.6v10.5h-11.6zM706.1 898.4h11.6v10.5h-11.6zM446.6 867.7h11.6v10.5h-11.6zM751.3 847.2h11.6v10.5h-11.6zM796.4 796.1h11.6v10.5h-11.6zM807.7 785.8h11.6v10.5h-11.6zM559.4 775.6h11.6v10.5h-11.6zM819 775.6h11.6v10.5h-11.6zM649.7 734.6h11.6v10.5h-11.6zM683.6 724.4h11.6v10.5h-11.6zM706.1 714.2h11.6v10.5h-11.6zM898 714.2h11.6v10.5h-11.6zM728.7 703.9h11.6v10.5h-11.6zM909.3 703.9h11.6v10.5h-11.6zM751.3 693.7h11.6v10.5h-11.6zM920.6 693.7h11.6v10.5h-11.6zM773.9 683.5h11.6v10.5h-11.6zM943.1 663h11.6v10.5h-11.6zM954.4 652.8h11.6v10.5h-11.6zM886.7 632.3h11.6v10.5h-11.6zM920.6 622.1h11.6v10.5h-11.6zM977 622.1h11.6v10.5h-11.6zM988.3 601.6h11.6v10.5h-11.6z"/><path fill="#49b438" d="M390.2 1205.5h11.6v10.5h-11.6zM378.9 1195.2h11.6v10.5h-11.6zM367.6 1185h11.6v10.5h-11.6zM356.3 1164.5h11.6v10.5h-11.6zM356.3 1062.2h11.6v10.5h-11.6zM582 1031.5h11.6v10.5h-11.6zM378.9 1000.8h11.6v10.5h-11.6zM615.9 990.5h11.6v10.5h-11.6zM401.5 949.6h11.6v10.5h-11.6zM661 939.3h11.6v10.5h-11.6zM672.3 929.1h11.6v10.5h-11.6zM457.9 857.5h11.6v10.5h-11.6zM740 857.5h11.6v10.5h-11.6zM773.9 816.5h11.6v10.5h-11.6zM514.3 806.3h11.6v10.5h-11.6zM785.1 806.3h11.6v10.5h-11.6zM525.6 796.1h11.6v10.5h-11.6zM582 765.3h11.6v10.5h-11.6zM830.3 765.3h11.6v10.5h-11.6zM604.6 755.1h11.6v10.5h-11.6zM841.6 755.1h11.6v10.5h-11.6zM627.2 744.9h11.6v10.5h-11.6zM852.9 744.9h11.6v10.5h-11.6zM796.4 673.2h11.6v10.5h-11.6zM931.8 673.2h11.6v10.5h-11.6zM819 663h11.6v10.5h-11.6zM841.6 652.8h11.6v10.5h-11.6zM864.1 642.5h11.6v10.5h-11.6zM954.4 642.5h11.6v10.5h-11.6zM898 632.3h11.6v10.5h-11.6zM965.7 632.3h11.6v10.5h-11.6zM965.7 622.1h11.6v10.5h-11.6zM977 611.8h11.6v10.5h-11.6zM977 601.6h11.6v10.5h-11.6z"/><path fill="#4cb131" d="M401.5 1205.5h11.6v10.5h-11.6zM367.6 1174.7h11.6v10.5h-11.6zM356.3 1154.3h11.6v10.5h-11.6zM356.3 1144h11.6v10.5h-11.6zM356.3 1133.8h11.6v10.5h-11.6zM503 1123.6h11.6v10.5h-11.6zM356.3 1082.6h11.6v10.5h-11.6zM536.9 1082.6h11.6v10.5h-11.6zM356.3 1072.4h11.6v10.5h-11.6zM570.7 1041.7h11.6v10.5h-11.6zM367.6 1031.5h11.6v10.5h-11.6zM390.2 980.3h11.6v10.5h-11.6zM649.7 949.6h11.6v10.5h-11.6zM435.3 888.2h11.6v10.5h-11.6zM469.2 847.2h11.6v10.5h-11.6zM762.6 826.8h11.6v10.5h-11.6zM503 816.5h11.6v10.5h-11.6zM661 734.6h11.6v10.5h-11.6zM864.1 734.6h11.6v10.5h-11.6zM694.9 724.4h11.6v10.5h-11.6zM875.4 724.4h11.6v10.5h-11.6zM717.4 714.2h11.6v10.5h-11.6zM740 703.9h11.6v10.5h-11.6zM762.6 693.7h11.6v10.5h-11.6zM920.6 683.5h11.6v10.5h-11.6zM943.1 652.8h11.6v10.5h-11.6zM954.4 632.3h11.6v10.5h-11.6zM931.8 622.1h11.6v10.5h-11.6zM954.4 611.8h11.6v10.5h-11.6zM965.7 611.8h11.6v10.5h-11.6z"/><path fill="#50ae2b" d="M412.7 1205.5h11.6v10.5h-11.6zM390.2 1195.2h11.6v10.5h-11.6zM424 1195.2h11.6v10.5h-11.6zM378.9 1185h11.6v10.5h-11.6zM435.3 1185h11.6v10.5h-11.6zM367.6 1164.5h11.6v10.5h-11.6zM480.4 1144h11.6v10.5h-11.6zM491.7 1133.8h11.6v10.5h-11.6zM356.3 1123.6h11.6v10.5h-11.6zM356.3 1113.3h11.6v10.5h-11.6zM356.3 1103.1h11.6v10.5h-11.6zM356.3 1092.9h11.6v10.5h-11.6zM525.6 1092.9h11.6v10.5h-11.6zM367.6 1041.7h11.6v10.5h-11.6zM378.9 1011h11.6v10.5h-11.6zM604.6 1000.8h11.6v10.5h-11.6zM401.5 959.8h11.6v10.5h-11.6zM412.7 929.1h11.6v10.5h-11.6zM424 908.6h11.6v10.5h-11.6zM728.7 867.7h11.6v10.5h-11.6zM480.4 837h11.6v10.5h-11.6zM491.7 826.8h11.6v10.5h-11.6zM548.2 785.8h11.6v10.5h-11.6zM570.7 775.6h11.6v10.5h-11.6zM593.3 765.3h11.6v10.5h-11.6zM638.4 744.9h11.6v10.5h-11.6zM672.3 734.6h11.6v10.5h-11.6zM886.7 714.2h11.6v10.5h-11.6zM898 703.9h11.6v10.5h-11.6zM909.3 693.7h11.6v10.5h-11.6zM785.1 683.5h11.6v10.5h-11.6zM807.7 673.2h11.6v10.5h-11.6zM830.3 663h11.6v10.5h-11.6zM931.8 663h11.6v10.5h-11.6zM852.9 652.8h11.6v10.5h-11.6zM875.4 642.5h11.6v10.5h-11.6zM943.1 642.5h11.6v10.5h-11.6zM909.3 632.3h11.6v10.5h-11.6zM954.4 622.1h11.6v10.5h-11.6z"/><path fill="#54ab25" d="M401.5 1195.2h11.6v10.5h-11.6zM412.7 1195.2h11.6v10.5h-11.6zM390.2 1185h11.6v10.5h-11.6zM378.9 1174.7h11.6v10.5h-11.6zM446.6 1174.7h11.6v10.5h-11.6zM457.9 1164.5h11.6v10.5h-11.6zM367.6 1154.3h11.6v10.5h-11.6zM469.2 1154.3h11.6v10.5h-11.6zM367.6 1051.9h11.6v10.5h-11.6zM559.4 1051.9h11.6v10.5h-11.6zM593.3 1011h11.6v10.5h-11.6zM390.2 990.5h11.6v10.5h-11.6zM638.4 959.8h11.6v10.5h-11.6zM446.6 877.9h11.6v10.5h-11.6zM717.4 877.9h11.6v10.5h-11.6zM751.3 837h11.6v10.5h-11.6zM536.9 796.1h11.6v10.5h-11.6zM785.1 796.1h11.6v10.5h-11.6zM796.4 785.8h11.6v10.5h-11.6zM807.7 775.6h11.6v10.5h-11.6zM819 765.3h11.6v10.5h-11.6zM615.9 755.1h11.6v10.5h-11.6zM830.3 755.1h11.6v10.5h-11.6zM841.6 744.9h11.6v10.5h-11.6zM706.1 724.4h11.6v10.5h-11.6zM728.7 714.2h11.6v10.5h-11.6zM751.3 703.9h11.6v10.5h-11.6zM920.6 673.2h11.6v10.5h-11.6zM931.8 652.8h11.6v10.5h-11.6zM943.1 632.3h11.6v10.5h-11.6zM943.1 622.1h11.6v10.5h-11.6z"/><path fill="#59a720" d="M378.9 1164.5h11.6v10.5h-11.6zM367.6 1144h11.6v10.5h-11.6zM367.6 1133.8h11.6v10.5h-11.6zM367.6 1123.6h11.6v10.5h-11.6zM514.3 1103.1h11.6v10.5h-11.6zM367.6 1062.2h11.6v10.5h-11.6zM548.2 1062.2h11.6v10.5h-11.6zM378.9 1021.2h11.6v10.5h-11.6zM401.5 970h11.6v10.5h-11.6zM627.2 970h11.6v10.5h-11.6zM412.7 939.3h11.6v10.5h-11.6zM435.3 898.4h11.6v10.5h-11.6zM706.1 888.2h11.6v10.5h-11.6zM457.9 867.7h11.6v10.5h-11.6zM740 847.2h11.6v10.5h-11.6zM773.9 806.3h11.6v10.5h-11.6zM649.7 744.9h11.6v10.5h-11.6zM683.6 734.6h11.6v10.5h-11.6zM852.9 734.6h11.6v10.5h-11.6zM864.1 724.4h11.6v10.5h-11.6zM773.9 693.7h11.6v10.5h-11.6zM796.4 683.5h11.6v10.5h-11.6zM909.3 683.5h11.6v10.5h-11.6zM819 673.2h11.6v10.5h-11.6zM886.7 642.5h11.6v10.5h-11.6zM931.8 642.5h11.6v10.5h-11.6z"/><path fill="#5ea31c" d="M401.5 1185h11.6v10.5h-11.6zM412.7 1185h11.6v10.5h-11.6zM424 1185h11.6v10.5h-11.6zM390.2 1174.7h11.6v10.5h-11.6zM378.9 1154.3h11.6v10.5h-11.6zM367.6 1113.3h11.6v10.5h-11.6zM503 1113.3h11.6v10.5h-11.6zM367.6 1103.1h11.6v10.5h-11.6zM367.6 1092.9h11.6v10.5h-11.6zM367.6 1082.6h11.6v10.5h-11.6zM367.6 1072.4h11.6v10.5h-11.6zM378.9 1031.5h11.6v10.5h-11.6zM582 1021.2h11.6v10.5h-11.6zM390.2 1000.8h11.6v10.5h-11.6zM401.5 980.3h11.6v10.5h-11.6zM424 918.9h11.6v10.5h-11.6zM694.9 898.4h11.6v10.5h-11.6zM762.6 816.5h11.6v10.5h-11.6zM525.6 806.3h11.6v10.5h-11.6zM559.4 785.8h11.6v10.5h-11.6zM582 775.6h11.6v10.5h-11.6zM604.6 765.3h11.6v10.5h-11.6zM627.2 755.1h11.6v10.5h-11.6zM717.4 724.4h11.6v10.5h-11.6zM740 714.2h11.6v10.5h-11.6zM875.4 714.2h11.6v10.5h-11.6zM886.7 703.9h11.6v10.5h-11.6zM898 693.7h11.6v10.5h-11.6zM841.6 663h11.6v10.5h-11.6zM920.6 663h11.6v10.5h-11.6zM864.1 652.8h11.6v10.5h-11.6zM931.8 632.3h11.6v10.5h-11.6z"/><path fill="#649e1a" d="M401.5 1174.7h11.6v10.5h-11.6zM435.3 1174.7h11.6v10.5h-11.6zM390.2 1164.5h11.6v10.5h-11.6zM378.9 1144h11.6v10.5h-11.6zM491.7 1123.6h11.6v10.5h-11.6zM536.9 1072.4h11.6v10.5h-11.6zM378.9 1041.7h11.6v10.5h-11.6zM390.2 1011h11.6v10.5h-11.6zM615.9 980.3h11.6v10.5h-11.6zM412.7 949.6h11.6v10.5h-11.6zM672.3 918.9h11.6v10.5h-11.6zM683.6 908.6h11.6v10.5h-11.6zM446.6 888.2h11.6v10.5h-11.6zM469.2 857.5h11.6v10.5h-11.6zM728.7 857.5h11.6v10.5h-11.6zM480.4 847.2h11.6v10.5h-11.6zM503 826.8h11.6v10.5h-11.6zM751.3 826.8h11.6v10.5h-11.6zM514.3 816.5h11.6v10.5h-11.6zM661 744.9h11.6v10.5h-11.6zM694.9 734.6h11.6v10.5h-11.6zM762.6 703.9h11.6v10.5h-11.6zM909.3 673.2h11.6v10.5h-11.6zM920.6 652.8h11.6v10.5h-11.6zM920.6 642.5h11.6v10.5h-11.6zM920.6 632.3h11.6v10.5h-11.6z"/><path fill="#699a17" d="M446.6 1164.5h11.6v10.5h-11.6zM390.2 1154.3h11.6v10.5h-11.6zM457.9 1154.3h11.6v10.5h-11.6zM469.2 1144h11.6v10.5h-11.6zM378.9 1133.8h11.6v10.5h-11.6zM480.4 1133.8h11.6v10.5h-11.6zM525.6 1082.6h11.6v10.5h-11.6zM378.9 1051.9h11.6v10.5h-11.6zM570.7 1031.5h11.6v10.5h-11.6zM401.5 990.5h11.6v10.5h-11.6zM412.7 959.8h11.6v10.5h-11.6zM424 929.1h11.6v10.5h-11.6zM661 929.1h11.6v10.5h-11.6zM435.3 908.6h11.6v10.5h-11.6zM717.4 867.7h11.6v10.5h-11.6zM491.7 837h11.6v10.5h-11.6zM548.2 796.1h11.6v10.5h-11.6zM773.9 796.1h11.6v10.5h-11.6zM570.7 785.8h11.6v10.5h-11.6zM785.1 785.8h11.6v10.5h-11.6zM593.3 775.6h11.6v10.5h-11.6zM796.4 775.6h11.6v10.5h-11.6zM615.9 765.3h11.6v10.5h-11.6zM807.7 765.3h11.6v10.5h-11.6zM638.4 755.1h11.6v10.5h-11.6zM819 755.1h11.6v10.5h-11.6zM672.3 744.9h11.6v10.5h-11.6zM830.3 744.9h11.6v10.5h-11.6zM841.6 734.6h11.6v10.5h-11.6zM728.7 724.4h11.6v10.5h-11.6zM852.9 724.4h11.6v10.5h-11.6zM864.1 714.2h11.6v10.5h-11.6zM785.1 693.7h11.6v10.5h-11.6zM886.7 693.7h11.6v10.5h-11.6zM807.7 683.5h11.6v10.5h-11.6zM898 683.5h11.6v10.5h-11.6zM830.3 673.2h11.6v10.5h-11.6zM852.9 663h11.6v10.5h-11.6zM898 642.5h11.6v10.5h-11.6z"/><path fill="#6f9516" d="M412.7 1174.7h11.6v10.5h-11.6zM424 1174.7h11.6v10.5h-11.6zM401.5 1164.5h11.6v10.5h-11.6zM390.2 1144h11.6v10.5h-11.6zM378.9 1123.6h11.6v10.5h-11.6zM378.9 1113.3h11.6v10.5h-11.6zM378.9 1103.1h11.6v10.5h-11.6zM378.9 1082.6h11.6v10.5h-11.6zM378.9 1072.4h11.6v10.5h-11.6zM378.9 1062.2h11.6v10.5h-11.6zM559.4 1041.7h11.6v10.5h-11.6zM390.2 1021.2h11.6v10.5h-11.6zM604.6 990.5h11.6v10.5h-11.6zM649.7 939.3h11.6v10.5h-11.6zM457.9 877.9h11.6v10.5h-11.6zM740 837h11.6v10.5h-11.6zM762.6 806.3h11.6v10.5h-11.6zM706.1 734.6h11.6v10.5h-11.6zM751.3 714.2h11.6v10.5h-11.6zM875.4 703.9h11.6v10.5h-11.6zM909.3 663h11.6v10.5h-11.6zM875.4 652.8h11.6v10.5h-11.6zM909.3 652.8h11.6v10.5h-11.6zM909.3 642.5h11.6v10.5h-11.6z"/><path fill="#749014" d="M412.7 1164.5h11.6v10.5h-11.6zM435.3 1164.5h11.6v10.5h-11.6zM401.5 1154.3h11.6v10.5h-11.6zM390.2 1133.8h11.6v10.5h-11.6zM378.9 1092.9h11.6v10.5h-11.6zM514.3 1092.9h11.6v10.5h-11.6zM548.2 1051.9h11.6v10.5h-11.6zM390.2 1031.5h11.6v10.5h-11.6zM401.5 1000.8h11.6v10.5h-11.6zM593.3 1000.8h11.6v10.5h-11.6zM412.7 970h11.6v10.5h-11.6zM638.4 949.6h11.6v10.5h-11.6zM424 939.3h11.6v10.5h-11.6zM446.6 898.4h11.6v10.5h-11.6zM706.1 877.9h11.6v10.5h-11.6zM469.2 867.7h11.6v10.5h-11.6zM536.9 806.3h11.6v10.5h-11.6zM627.2 765.3h11.6v10.5h-11.6zM649.7 755.1h11.6v10.5h-11.6zM683.6 744.9h11.6v10.5h-11.6zM773.9 703.9h11.6v10.5h-11.6zM898 673.2h11.6v10.5h-11.6z"/><path fill="#7a8c13" d="M424 1164.5h11.6v10.5h-11.6zM446.6 1154.3h11.6v10.5h-11.6zM401.5 1144h11.6v10.5h-11.6zM390.2 1123.6h11.6v10.5h-11.6zM503 1103.1h11.6v10.5h-11.6zM536.9 1062.2h11.6v10.5h-11.6zM390.2 1041.7h11.6v10.5h-11.6zM401.5 1011h11.6v10.5h-11.6zM412.7 980.3h11.6v10.5h-11.6zM424 949.6h11.6v10.5h-11.6zM435.3 918.9h11.6v10.5h-11.6zM480.4 857.5h11.6v10.5h-11.6zM728.7 847.2h11.6v10.5h-11.6zM514.3 826.8h11.6v10.5h-11.6zM525.6 816.5h11.6v10.5h-11.6zM751.3 816.5h11.6v10.5h-11.6zM559.4 796.1h11.6v10.5h-11.6zM582 785.8h11.6v10.5h-11.6zM604.6 775.6h11.6v10.5h-11.6zM785.1 775.6h11.6v10.5h-11.6zM796.4 765.3h11.6v10.5h-11.6zM807.7 755.1h11.6v10.5h-11.6zM694.9 744.9h11.6v10.5h-11.6zM819 744.9h11.6v10.5h-11.6zM717.4 734.6h11.6v10.5h-11.6zM830.3 734.6h11.6v10.5h-11.6zM740 724.4h11.6v10.5h-11.6zM841.6 724.4h11.6v10.5h-11.6zM852.9 714.2h11.6v10.5h-11.6zM864.1 703.9h11.6v10.5h-11.6zM796.4 693.7h11.6v10.5h-11.6zM875.4 693.7h11.6v10.5h-11.6zM819 683.5h11.6v10.5h-11.6zM886.7 683.5h11.6v10.5h-11.6zM841.6 673.2h11.6v10.5h-11.6zM898 663h11.6v10.5h-11.6zM898 652.8h11.6v10.5h-11.6z"/><path fill="#7f8713" d="M412.7 1154.3h11.6v10.5h-11.6zM457.9 1144h11.6v10.5h-11.6zM401.5 1133.8h11.6v10.5h-11.6zM469.2 1133.8h11.6v10.5h-11.6zM480.4 1123.6h11.6v10.5h-11.6zM390.2 1113.3h11.6v10.5h-11.6zM491.7 1113.3h11.6v10.5h-11.6zM390.2 1103.1h11.6v10.5h-11.6zM390.2 1092.9h11.6v10.5h-11.6zM390.2 1082.6h11.6v10.5h-11.6zM390.2 1062.2h11.6v10.5h-11.6zM390.2 1051.9h11.6v10.5h-11.6zM582 1011h11.6v10.5h-11.6zM627.2 959.8h11.6v10.5h-11.6zM457.9 888.2h11.6v10.5h-11.6zM694.9 888.2h11.6v10.5h-11.6zM491.7 847.2h11.6v10.5h-11.6zM503 837h11.6v10.5h-11.6zM762.6 796.1h11.6v10.5h-11.6zM773.9 785.8h11.6v10.5h-11.6zM661 755.1h11.6v10.5h-11.6zM762.6 714.2h11.6v10.5h-11.6zM886.7 673.2h11.6v10.5h-11.6zM864.1 663h11.6v10.5h-11.6zM886.7 652.8h11.6v10.5h-11.6z"/><path fill="#848213" d="M424 1154.3h11.6v10.5h-11.6zM435.3 1154.3h11.6v10.5h-11.6zM412.7 1144h11.6v10.5h-11.6zM401.5 1123.6h11.6v10.5h-11.6zM390.2 1072.4h11.6v10.5h-11.6zM525.6 1072.4h11.6v10.5h-11.6zM401.5 1021.2h11.6v10.5h-11.6zM570.7 1021.2h11.6v10.5h-11.6zM412.7 990.5h11.6v10.5h-11.6zM424 959.8h11.6v10.5h-11.6zM435.3 929.1h11.6v10.5h-11.6zM446.6 908.6h11.6v10.5h-11.6zM683.6 898.4h11.6v10.5h-11.6zM717.4 857.5h11.6v10.5h-11.6zM740 826.8h11.6v10.5h-11.6zM548.2 806.3h11.6v10.5h-11.6zM593.3 785.8h11.6v10.5h-11.6zM615.9 775.6h11.6v10.5h-11.6zM638.4 765.3h11.6v10.5h-11.6zM672.3 755.1h11.6v10.5h-11.6zM706.1 744.9h11.6v10.5h-11.6zM728.7 734.6h11.6v10.5h-11.6zM830.3 724.4h11.6v10.5h-11.6zM841.6 714.2h11.6v10.5h-11.6zM785.1 703.9h11.6v10.5h-11.6zM852.9 703.9h11.6v10.5h-11.6zM864.1 693.7h11.6v10.5h-11.6zM875.4 683.5h11.6v10.5h-11.6zM886.7 663h11.6v10.5h-11.6z"/><path fill="#897e14" d="M424 1144h11.6v10.5h-11.6zM412.7 1133.8h11.6v10.5h-11.6zM401.5 1113.3h11.6v10.5h-11.6zM514.3 1082.6h11.6v10.5h-11.6zM401.5 1031.5h11.6v10.5h-11.6zM559.4 1031.5h11.6v10.5h-11.6zM412.7 1000.8h11.6v10.5h-11.6zM424 970h11.6v10.5h-11.6zM615.9 970h11.6v10.5h-11.6zM672.3 908.6h11.6v10.5h-11.6zM469.2 877.9h11.6v10.5h-11.6zM751.3 806.3h11.6v10.5h-11.6zM570.7 796.1h11.6v10.5h-11.6zM785.1 765.3h11.6v10.5h-11.6zM796.4 755.1h11.6v10.5h-11.6zM807.7 744.9h11.6v10.5h-11.6zM819 734.6h11.6v10.5h-11.6zM751.3 724.4h11.6v10.5h-11.6zM807.7 693.7h11.6v10.5h-11.6zM830.3 683.5h11.6v10.5h-11.6zM875.4 673.2h11.6v10.5h-11.6zM875.4 663h11.6v10.5h-11.6z"/><path fill="#8d7914" d="M435.3 1144h11.6v10.5h-11.6zM446.6 1144h11.6v10.5h-11.6zM424 1133.8h11.6v10.5h-11.6zM457.9 1133.8h11.6v10.5h-11.6zM412.7 1123.6h11.6v10.5h-11.6zM401.5 1103.1h11.6v10.5h-11.6zM503 1092.9h11.6v10.5h-11.6zM401.5 1062.2h11.6v10.5h-11.6zM401.5 1051.9h11.6v10.5h-11.6zM401.5 1041.7h11.6v10.5h-11.6zM548.2 1041.7h11.6v10.5h-11.6zM412.7 1011h11.6v10.5h-11.6zM435.3 939.3h11.6v10.5h-11.6zM446.6 918.9h11.6v10.5h-11.6zM661 918.9h11.6v10.5h-11.6zM457.9 898.4h11.6v10.5h-11.6zM480.4 867.7h11.6v10.5h-11.6zM706.1 867.7h11.6v10.5h-11.6zM728.7 837h11.6v10.5h-11.6zM536.9 816.5h11.6v10.5h-11.6zM762.6 785.8h11.6v10.5h-11.6zM627.2 775.6h11.6v10.5h-11.6zM773.9 775.6h11.6v10.5h-11.6zM649.7 765.3h11.6v10.5h-11.6zM683.6 755.1h11.6v10.5h-11.6zM717.4 744.9h11.6v10.5h-11.6zM773.9 714.2h11.6v10.5h-11.6zM841.6 703.9h11.6v10.5h-11.6zM852.9 693.7h11.6v10.5h-11.6zM864.1 683.5h11.6v10.5h-11.6zM864.1 673.2h11.6v10.5h-11.6z"/><path fill="#927416" d="M469.2 1123.6h11.6v10.5h-11.6zM412.7 1113.3h11.6v10.5h-11.6zM480.4 1113.3h11.6v10.5h-11.6zM491.7 1103.1h11.6v10.5h-11.6zM401.5 1092.9h11.6v10.5h-11.6zM401.5 1082.6h11.6v10.5h-11.6zM401.5 1072.4h11.6v10.5h-11.6zM536.9 1051.9h11.6v10.5h-11.6zM412.7 1021.2h11.6v10.5h-11.6zM424 980.3h11.6v10.5h-11.6zM604.6 980.3h11.6v10.5h-11.6zM435.3 949.6h11.6v10.5h-11.6zM649.7 929.1h11.6v10.5h-11.6zM491.7 857.5h11.6v10.5h-11.6zM503 847.2h11.6v10.5h-11.6zM717.4 847.2h11.6v10.5h-11.6zM514.3 837h11.6v10.5h-11.6zM525.6 826.8h11.6v10.5h-11.6zM740 816.5h11.6v10.5h-11.6zM559.4 806.3h11.6v10.5h-11.6zM582 796.1h11.6v10.5h-11.6zM604.6 785.8h11.6v10.5h-11.6zM661 765.3h11.6v10.5h-11.6zM796.4 744.9h11.6v10.5h-11.6zM740 734.6h11.6v10.5h-11.6zM807.7 734.6h11.6v10.5h-11.6zM819 724.4h11.6v10.5h-11.6zM830.3 714.2h11.6v10.5h-11.6zM796.4 703.9h11.6v10.5h-11.6zM852.9 683.5h11.6v10.5h-11.6zM852.9 673.2h11.6v10.5h-11.6z"/><path fill="#967017" d="M435.3 1133.8h11.6v10.5h-11.6zM446.6 1133.8h11.6v10.5h-11.6zM424 1123.6h11.6v10.5h-11.6zM412.7 1103.1h11.6v10.5h-11.6zM525.6 1062.2h11.6v10.5h-11.6zM412.7 1031.5h11.6v10.5h-11.6zM424 990.5h11.6v10.5h-11.6zM593.3 990.5h11.6v10.5h-11.6zM435.3 959.8h11.6v10.5h-11.6zM638.4 939.3h11.6v10.5h-11.6zM446.6 929.1h11.6v10.5h-11.6zM469.2 888.2h11.6v10.5h-11.6zM694.9 877.9h11.6v10.5h-11.6zM751.3 796.1h11.6v10.5h-11.6zM638.4 775.6h11.6v10.5h-11.6zM773.9 765.3h11.6v10.5h-11.6zM694.9 755.1h11.6v10.5h-11.6zM785.1 755.1h11.6v10.5h-11.6zM762.6 724.4h11.6v10.5h-11.6zM819 714.2h11.6v10.5h-11.6zM830.3 703.9h11.6v10.5h-11.6zM841.6 693.7h11.6v10.5h-11.6zM841.6 683.5h11.6v10.5h-11.6z"/><path fill="#9a6c19" d="M435.3 1123.6h11.6v10.5h-11.6zM424 1113.3h11.6v10.5h-11.6zM412.7 1092.9h11.6v10.5h-11.6zM412.7 1082.6h11.6v10.5h-11.6zM514.3 1072.4h11.6v10.5h-11.6zM412.7 1051.9h11.6v10.5h-11.6zM412.7 1041.7h11.6v10.5h-11.6zM424 1000.8h11.6v10.5h-11.6zM582 1000.8h11.6v10.5h-11.6zM627.2 949.6h11.6v10.5h-11.6zM457.9 908.6h11.6v10.5h-11.6zM683.6 888.2h11.6v10.5h-11.6zM480.4 877.9h11.6v10.5h-11.6zM728.7 826.8h11.6v10.5h-11.6zM548.2 816.5h11.6v10.5h-11.6zM593.3 796.1h11.6v10.5h-11.6zM615.9 785.8h11.6v10.5h-11.6zM762.6 775.6h11.6v10.5h-11.6zM672.3 765.3h11.6v10.5h-11.6zM706.1 755.1h11.6v10.5h-11.6zM728.7 744.9h11.6v10.5h-11.6zM796.4 734.6h11.6v10.5h-11.6zM807.7 724.4h11.6v10.5h-11.6zM819 693.7h11.6v10.5h-11.6zM830.3 693.7h11.6v10.5h-11.6z"/><path fill="#9d671b" d="M446.6 1123.6h11.6v10.5h-11.6zM457.9 1123.6h11.6v10.5h-11.6zM424 1103.1h11.6v10.5h-11.6zM503 1082.6h11.6v10.5h-11.6zM412.7 1072.4h11.6v10.5h-11.6zM412.7 1062.2h11.6v10.5h-11.6zM424 1011h11.6v10.5h-11.6zM570.7 1011h11.6v10.5h-11.6zM435.3 970h11.6v10.5h-11.6zM446.6 939.3h11.6v10.5h-11.6zM706.1 857.5h11.6v10.5h-11.6zM536.9 826.8h11.6v10.5h-11.6zM570.7 806.3h11.6v10.5h-11.6zM740 806.3h11.6v10.5h-11.6zM751.3 785.8h11.6v10.5h-11.6zM649.7 775.6h11.6v10.5h-11.6zM785.1 744.9h11.6v10.5h-11.6zM751.3 734.6h11.6v10.5h-11.6zM785.1 714.2h11.6v10.5h-11.6zM807.7 714.2h11.6v10.5h-11.6zM807.7 703.9h11.6v10.5h-11.6zM819 703.9h11.6v10.5h-11.6z"/><path fill="#a1631e" d="M435.3 1113.3h11.6v10.5h-11.6zM469.2 1113.3h11.6v10.5h-11.6zM480.4 1103.1h11.6v10.5h-11.6zM424 1092.9h11.6v10.5h-11.6zM491.7 1092.9h11.6v10.5h-11.6zM424 1031.5h11.6v10.5h-11.6zM548.2 1031.5h11.6v10.5h-11.6zM424 1021.2h11.6v10.5h-11.6zM559.4 1021.2h11.6v10.5h-11.6zM435.3 980.3h11.6v10.5h-11.6zM615.9 959.8h11.6v10.5h-11.6zM457.9 918.9h11.6v10.5h-11.6zM469.2 898.4h11.6v10.5h-11.6zM672.3 898.4h11.6v10.5h-11.6zM491.7 867.7h11.6v10.5h-11.6zM503 857.5h11.6v10.5h-11.6zM514.3 847.2h11.6v10.5h-11.6zM525.6 837h11.6v10.5h-11.6zM717.4 837h11.6v10.5h-11.6zM627.2 785.8h11.6v10.5h-11.6zM683.6 765.3h11.6v10.5h-11.6zM762.6 765.3h11.6v10.5h-11.6zM717.4 755.1h11.6v10.5h-11.6zM773.9 755.1h11.6v10.5h-11.6zM785.1 734.6h11.6v10.5h-11.6zM796.4 724.4h11.6v10.5h-11.6zM796.4 714.2h11.6v10.5h-11.6z"/><path fill="#a45f21" d="M446.6 1113.3h11.6v10.5h-11.6zM457.9 1113.3h11.6v10.5h-11.6zM435.3 1103.1h11.6v10.5h-11.6zM424 1082.6h11.6v10.5h-11.6zM424 1072.4h11.6v10.5h-11.6zM424 1062.2h11.6v10.5h-11.6zM424 1051.9h11.6v10.5h-11.6zM424 1041.7h11.6v10.5h-11.6zM536.9 1041.7h11.6v10.5h-11.6zM435.3 1000.8h11.6v10.5h-11.6zM435.3 990.5h11.6v10.5h-11.6zM446.6 949.6h11.6v10.5h-11.6zM661 908.6h11.6v10.5h-11.6zM480.4 888.2h11.6v10.5h-11.6zM559.4 816.5h11.6v10.5h-11.6zM728.7 816.5h11.6v10.5h-11.6zM582 806.3h11.6v10.5h-11.6zM604.6 796.1h11.6v10.5h-11.6zM740 796.1h11.6v10.5h-11.6zM661 775.6h11.6v10.5h-11.6zM751.3 775.6h11.6v10.5h-11.6zM740 744.9h11.6v10.5h-11.6zM773.9 744.9h11.6v10.5h-11.6zM773.9 724.4h11.6v10.5h-11.6zM785.1 724.4h11.6v10.5h-11.6z"/><path fill="#a65b24" d="M446.6 1103.1h11.6v10.5h-11.6zM435.3 1092.9h11.6v10.5h-11.6zM525.6 1051.9h11.6v10.5h-11.6zM435.3 1011h11.6v10.5h-11.6zM604.6 970h11.6v10.5h-11.6zM446.6 959.8h11.6v10.5h-11.6zM457.9 929.1h11.6v10.5h-11.6zM469.2 908.6h11.6v10.5h-11.6zM694.9 867.7h11.6v10.5h-11.6zM638.4 785.8h11.6v10.5h-11.6zM694.9 765.3h11.6v10.5h-11.6zM728.7 755.1h11.6v10.5h-11.6zM762.6 755.1h11.6v10.5h-11.6zM773.9 734.6h11.6v10.5h-11.6z"/><path fill="#a95727" d="M457.9 1103.1h11.6v10.5h-11.6zM469.2 1103.1h11.6v10.5h-11.6zM446.6 1092.9h11.6v10.5h-11.6zM480.4 1092.9h11.6v10.5h-11.6zM435.3 1082.6h11.6v10.5h-11.6zM491.7 1082.6h11.6v10.5h-11.6zM435.3 1072.4h11.6v10.5h-11.6zM503 1072.4h11.6v10.5h-11.6zM514.3 1062.2h11.6v10.5h-11.6zM435.3 1031.5h11.6v10.5h-11.6zM435.3 1021.2h11.6v10.5h-11.6zM446.6 980.3h11.6v10.5h-11.6zM593.3 980.3h11.6v10.5h-11.6zM446.6 970h11.6v10.5h-11.6zM457.9 939.3h11.6v10.5h-11.6zM649.7 918.9h11.6v10.5h-11.6zM491.7 877.9h11.6v10.5h-11.6zM683.6 877.9h11.6v10.5h-11.6zM706.1 847.2h11.6v10.5h-11.6zM548.2 826.8h11.6v10.5h-11.6zM593.3 806.3h11.6v10.5h-11.6zM728.7 806.3h11.6v10.5h-11.6zM615.9 796.1h11.6v10.5h-11.6zM740 785.8h11.6v10.5h-11.6zM672.3 775.6h11.6v10.5h-11.6zM706.1 765.3h11.6v10.5h-11.6zM751.3 765.3h11.6v10.5h-11.6zM762.6 744.9h11.6v10.5h-11.6zM762.6 734.6h11.6v10.5h-11.6z"/><path fill="#ab532b" d="M435.3 1062.2h11.6v10.5h-11.6zM435.3 1051.9h11.6v10.5h-11.6zM435.3 1041.7h11.6v10.5h-11.6zM570.7 1000.8h11.6v10.5h-11.6zM446.6 990.5h11.6v10.5h-11.6zM582 990.5h11.6v10.5h-11.6zM638.4 929.1h11.6v10.5h-11.6zM469.2 918.9h11.6v10.5h-11.6zM480.4 898.4h11.6v10.5h-11.6zM503 867.7h11.6v10.5h-11.6zM514.3 857.5h11.6v10.5h-11.6zM525.6 847.2h11.6v10.5h-11.6zM536.9 837h11.6v10.5h-11.6zM717.4 826.8h11.6v10.5h-11.6zM570.7 816.5h11.6v10.5h-11.6zM649.7 785.8h11.6v10.5h-11.6zM740 775.6h11.6v10.5h-11.6zM751.3 755.1h11.6v10.5h-11.6zM751.3 744.9h11.6v10.5h-11.6z"/><path fill="#ac502e" d="M457.9 1092.9h11.6v10.5h-11.6zM469.2 1092.9h11.6v10.5h-11.6zM446.6 1082.6h11.6v10.5h-11.6zM446.6 1072.4h11.6v10.5h-11.6zM446.6 1021.2h11.6v10.5h-11.6zM446.6 1011h11.6v10.5h-11.6zM559.4 1011h11.6v10.5h-11.6zM446.6 1000.8h11.6v10.5h-11.6zM457.9 949.6h11.6v10.5h-11.6zM627.2 939.3h11.6v10.5h-11.6zM672.3 888.2h11.6v10.5h-11.6zM694.9 857.5h11.6v10.5h-11.6zM604.6 806.3h11.6v10.5h-11.6zM627.2 796.1h11.6v10.5h-11.6zM728.7 796.1h11.6v10.5h-11.6zM683.6 775.6h11.6v10.5h-11.6zM717.4 765.3h11.6v10.5h-11.6zM740 765.3h11.6v10.5h-11.6zM740 755.1h11.6v10.5h-11.6z"/><path fill="#ae4d32" d="M457.9 1082.6h11.6v10.5h-11.6zM480.4 1082.6h11.6v10.5h-11.6zM491.7 1072.4h11.6v10.5h-11.6zM446.6 1062.2h11.6v10.5h-11.6zM503 1062.2h11.6v10.5h-11.6zM446.6 1051.9h11.6v10.5h-11.6zM514.3 1051.9h11.6v10.5h-11.6zM446.6 1041.7h11.6v10.5h-11.6zM525.6 1041.7h11.6v10.5h-11.6zM446.6 1031.5h11.6v10.5h-11.6zM536.9 1031.5h11.6v10.5h-11.6zM548.2 1021.2h11.6v10.5h-11.6zM457.9 970h11.6v10.5h-11.6zM457.9 959.8h11.6v10.5h-11.6zM615.9 949.6h11.6v10.5h-11.6zM469.2 929.1h11.6v10.5h-11.6zM480.4 908.6h11.6v10.5h-11.6zM491.7 888.2h11.6v10.5h-11.6zM706.1 837h11.6v10.5h-11.6zM559.4 826.8h11.6v10.5h-11.6zM582 816.5h11.6v10.5h-11.6zM717.4 816.5h11.6v10.5h-11.6zM661 785.8h11.6v10.5h-11.6zM728.7 785.8h11.6v10.5h-11.6zM694.9 775.6h11.6v10.5h-11.6z"/><path fill="#af4936" d="M469.2 1082.6h11.6v10.5h-11.6zM457.9 1072.4h11.6v10.5h-11.6zM469.2 1072.4h11.6v10.5h-11.6zM457.9 1062.2h11.6v10.5h-11.6zM457.9 980.3h11.6v10.5h-11.6zM469.2 939.3h11.6v10.5h-11.6zM661 898.4h11.6v10.5h-11.6zM503 877.9h11.6v10.5h-11.6zM548.2 837h11.6v10.5h-11.6zM615.9 806.3h11.6v10.5h-11.6zM638.4 796.1h11.6v10.5h-11.6zM728.7 775.6h11.6v10.5h-11.6zM728.7 765.3h11.6v10.5h-11.6z"/><path fill="#af463a" d="M480.4 1072.4h11.6v10.5h-11.6zM457.9 1051.9h11.6v10.5h-11.6zM457.9 1041.7h11.6v10.5h-11.6zM457.9 1031.5h11.6v10.5h-11.6zM457.9 1021.2h11.6v10.5h-11.6zM457.9 1011h11.6v10.5h-11.6zM457.9 1000.8h11.6v10.5h-11.6zM457.9 990.5h11.6v10.5h-11.6zM604.6 959.8h11.6v10.5h-11.6zM469.2 949.6h11.6v10.5h-11.6zM480.4 918.9h11.6v10.5h-11.6zM491.7 898.4h11.6v10.5h-11.6zM514.3 867.7h11.6v10.5h-11.6zM683.6 867.7h11.6v10.5h-11.6zM525.6 857.5h11.6v10.5h-11.6zM536.9 847.2h11.6v10.5h-11.6zM593.3 816.5h11.6v10.5h-11.6zM717.4 806.3h11.6v10.5h-11.6zM672.3 785.8h11.6v10.5h-11.6zM706.1 775.6h11.6v10.5h-11.6z"/><path fill="#b0433e" d="M469.2 1062.2h11.6v10.5h-11.6zM480.4 1062.2h11.6v10.5h-11.6zM491.7 1062.2h11.6v10.5h-11.6zM469.2 1051.9h11.6v10.5h-11.6zM503 1051.9h11.6v10.5h-11.6zM582 980.3h11.6v10.5h-11.6zM593.3 970h11.6v10.5h-11.6zM469.2 959.8h11.6v10.5h-11.6zM480.4 929.1h11.6v10.5h-11.6zM649.7 908.6h11.6v10.5h-11.6zM694.9 847.2h11.6v10.5h-11.6zM570.7 826.8h11.6v10.5h-11.6zM706.1 826.8h11.6v10.5h-11.6zM649.7 796.1h11.6v10.5h-11.6zM717.4 796.1h11.6v10.5h-11.6zM717.4 785.8h11.6v10.5h-11.6zM717.4 775.6h11.6v10.5h-11.6z"/><path fill="#b04143" d="M480.4 1051.9h11.6v10.5h-11.6zM469.2 1041.7h11.6v10.5h-11.6zM514.3 1041.7h11.6v10.5h-11.6zM469.2 1031.5h11.6v10.5h-11.6zM525.6 1031.5h11.6v10.5h-11.6zM469.2 1021.2h11.6v10.5h-11.6zM536.9 1021.2h11.6v10.5h-11.6zM469.2 1011h11.6v10.5h-11.6zM548.2 1011h11.6v10.5h-11.6zM559.4 1000.8h11.6v10.5h-11.6zM469.2 990.5h11.6v10.5h-11.6zM570.7 990.5h11.6v10.5h-11.6zM469.2 970h11.6v10.5h-11.6zM638.4 918.9h11.6v10.5h-11.6zM491.7 908.6h11.6v10.5h-11.6zM503 888.2h11.6v10.5h-11.6zM672.3 877.9h11.6v10.5h-11.6zM559.4 837h11.6v10.5h-11.6zM604.6 816.5h11.6v10.5h-11.6zM627.2 806.3h11.6v10.5h-11.6zM683.6 785.8h11.6v10.5h-11.6z"/><path fill="#af3e47" d="M491.7 1051.9h11.6v10.5h-11.6zM480.4 1041.7h11.6v10.5h-11.6zM469.2 1000.8h11.6v10.5h-11.6zM469.2 980.3h11.6v10.5h-11.6zM480.4 939.3h11.6v10.5h-11.6zM627.2 929.1h11.6v10.5h-11.6zM514.3 877.9h11.6v10.5h-11.6zM525.6 867.7h11.6v10.5h-11.6zM548.2 847.2h11.6v10.5h-11.6zM694.9 837h11.6v10.5h-11.6zM582 826.8h11.6v10.5h-11.6zM706.1 816.5h11.6v10.5h-11.6zM661 796.1h11.6v10.5h-11.6z"/><path fill="#ae3c4b" d="M491.7 1041.7h11.6v10.5h-11.6zM503 1041.7h11.6v10.5h-11.6zM480.4 1031.5h11.6v10.5h-11.6zM480.4 1021.2h11.6v10.5h-11.6zM480.4 949.6h11.6v10.5h-11.6zM615.9 939.3h11.6v10.5h-11.6zM491.7 918.9h11.6v10.5h-11.6zM503 898.4h11.6v10.5h-11.6zM661 888.2h11.6v10.5h-11.6zM536.9 857.5h11.6v10.5h-11.6zM683.6 857.5h11.6v10.5h-11.6zM615.9 816.5h11.6v10.5h-11.6zM638.4 806.3h11.6v10.5h-11.6zM706.1 806.3h11.6v10.5h-11.6zM706.1 796.1h11.6v10.5h-11.6zM694.9 785.8h11.6v10.5h-11.6zM706.1 785.8h11.6v10.5h-11.6z"/><path fill="#ad3a50" d="M491.7 1031.5h11.6v10.5h-11.6zM514.3 1031.5h11.6v10.5h-11.6zM525.6 1021.2h11.6v10.5h-11.6zM480.4 1011h11.6v10.5h-11.6zM480.4 1000.8h11.6v10.5h-11.6zM480.4 990.5h11.6v10.5h-11.6zM480.4 980.3h11.6v10.5h-11.6zM480.4 970h11.6v10.5h-11.6zM480.4 959.8h11.6v10.5h-11.6zM604.6 949.6h11.6v10.5h-11.6zM491.7 929.1h11.6v10.5h-11.6zM514.3 888.2h11.6v10.5h-11.6zM570.7 837h11.6v10.5h-11.6zM593.3 826.8h11.6v10.5h-11.6zM694.9 826.8h11.6v10.5h-11.6zM649.7 806.3h11.6v10.5h-11.6zM672.3 796.1h11.6v10.5h-11.6z"/><path fill="#ac3854" d="M503 1031.5h11.6v10.5h-11.6zM491.7 1021.2h11.6v10.5h-11.6zM536.9 1011h11.6v10.5h-11.6zM491.7 939.3h11.6v10.5h-11.6zM503 908.6h11.6v10.5h-11.6zM649.7 898.4h11.6v10.5h-11.6zM525.6 877.9h11.6v10.5h-11.6zM672.3 867.7h11.6v10.5h-11.6zM559.4 847.2h11.6v10.5h-11.6zM683.6 847.2h11.6v10.5h-11.6zM627.2 816.5h11.6v10.5h-11.6z"/><path fill="#aa3658" d="M503 1021.2h11.6v10.5h-11.6zM514.3 1021.2h11.6v10.5h-11.6zM491.7 1011h11.6v10.5h-11.6zM491.7 1000.8h11.6v10.5h-11.6zM548.2 1000.8h11.6v10.5h-11.6zM559.4 990.5h11.6v10.5h-11.6zM570.7 980.3h11.6v10.5h-11.6zM582 970h11.6v10.5h-11.6zM593.3 959.8h11.6v10.5h-11.6zM491.7 949.6h11.6v10.5h-11.6zM503 918.9h11.6v10.5h-11.6zM536.9 867.7h11.6v10.5h-11.6zM548.2 857.5h11.6v10.5h-11.6zM604.6 826.8h11.6v10.5h-11.6zM694.9 816.5h11.6v10.5h-11.6zM661 806.3h11.6v10.5h-11.6zM683.6 796.1h11.6v10.5h-11.6zM694.9 796.1h11.6v10.5h-11.6z"/><path fill="#a8355c" d="M503 1011h11.6v10.5h-11.6zM491.7 990.5h11.6v10.5h-11.6zM491.7 980.3h11.6v10.5h-11.6zM491.7 970h11.6v10.5h-11.6zM491.7 959.8h11.6v10.5h-11.6zM503 929.1h11.6v10.5h-11.6zM638.4 908.6h11.6v10.5h-11.6zM514.3 898.4h11.6v10.5h-11.6zM661 877.9h11.6v10.5h-11.6zM582 837h11.6v10.5h-11.6zM683.6 837h11.6v10.5h-11.6zM638.4 816.5h11.6v10.5h-11.6zM694.9 806.3h11.6v10.5h-11.6z"/><path fill="#a53460" d="M514.3 1011h11.6v10.5h-11.6zM525.6 1011h11.6v10.5h-11.6zM503 1000.8h11.6v10.5h-11.6zM536.9 1000.8h11.6v10.5h-11.6zM503 939.3h11.6v10.5h-11.6zM627.2 918.9h11.6v10.5h-11.6zM514.3 908.6h11.6v10.5h-11.6zM525.6 888.2h11.6v10.5h-11.6zM672.3 857.5h11.6v10.5h-11.6zM570.7 847.2h11.6v10.5h-11.6zM615.9 826.8h11.6v10.5h-11.6zM672.3 806.3h11.6v10.5h-11.6z"/><path fill="#a33264" d="M503 990.5h11.6v10.5h-11.6zM548.2 990.5h11.6v10.5h-11.6zM503 980.3h11.6v10.5h-11.6zM503 970h11.6v10.5h-11.6zM503 959.8h11.6v10.5h-11.6zM503 949.6h11.6v10.5h-11.6zM604.6 939.3h11.6v10.5h-11.6zM615.9 929.1h11.6v10.5h-11.6zM536.9 877.9h11.6v10.5h-11.6zM548.2 867.7h11.6v10.5h-11.6zM559.4 857.5h11.6v10.5h-11.6zM593.3 837h11.6v10.5h-11.6zM683.6 826.8h11.6v10.5h-11.6zM649.7 816.5h11.6v10.5h-11.6zM683.6 816.5h11.6v10.5h-11.6zM683.6 806.3h11.6v10.5h-11.6z"/><path fill="#a03168" d="M514.3 1000.8h11.6v10.5h-11.6zM525.6 1000.8h11.6v10.5h-11.6zM514.3 990.5h11.6v10.5h-11.6zM559.4 980.3h11.6v10.5h-11.6zM570.7 970h11.6v10.5h-11.6zM593.3 949.6h11.6v10.5h-11.6zM514.3 918.9h11.6v10.5h-11.6zM525.6 898.4h11.6v10.5h-11.6zM649.7 888.2h11.6v10.5h-11.6zM672.3 847.2h11.6v10.5h-11.6zM627.2 826.8h11.6v10.5h-11.6z"/><path fill="#9c316b" d="M536.9 990.5h11.6v10.5h-11.6zM514.3 980.3h11.6v10.5h-11.6zM514.3 970h11.6v10.5h-11.6zM582 959.8h11.6v10.5h-11.6zM514.3 939.3h11.6v10.5h-11.6zM514.3 929.1h11.6v10.5h-11.6zM525.6 908.6h11.6v10.5h-11.6zM536.9 888.2h11.6v10.5h-11.6zM661 867.7h11.6v10.5h-11.6zM582 847.2h11.6v10.5h-11.6zM604.6 837h11.6v10.5h-11.6zM672.3 837h11.6v10.5h-11.6zM661 816.5h11.6v10.5h-11.6z"/><path fill="#99306f" d="M525.6 990.5h11.6v10.5h-11.6zM525.6 980.3h11.6v10.5h-11.6zM548.2 980.3h11.6v10.5h-11.6zM514.3 959.8h11.6v10.5h-11.6zM514.3 949.6h11.6v10.5h-11.6zM638.4 898.4h11.6v10.5h-11.6zM548.2 877.9h11.6v10.5h-11.6zM559.4 867.7h11.6v10.5h-11.6zM570.7 857.5h11.6v10.5h-11.6zM615.9 837h11.6v10.5h-11.6zM638.4 826.8h11.6v10.5h-11.6zM672.3 826.8h11.6v10.5h-11.6zM672.3 816.5h11.6v10.5h-11.6z"/><path fill="#953072" d="M536.9 980.3h11.6v10.5h-11.6zM525.6 970h11.6v10.5h-11.6zM559.4 970h11.6v10.5h-11.6zM525.6 929.1h11.6v10.5h-11.6zM525.6 918.9h11.6v10.5h-11.6zM615.9 918.9h11.6v10.5h-11.6zM627.2 908.6h11.6v10.5h-11.6zM536.9 898.4h11.6v10.5h-11.6zM649.7 877.9h11.6v10.5h-11.6zM661 857.5h11.6v10.5h-11.6zM593.3 847.2h11.6v10.5h-11.6zM649.7 826.8h11.6v10.5h-11.6z"/><path fill="#912f75" d="M536.9 970h11.6v10.5h-11.6zM525.6 959.8h11.6v10.5h-11.6zM570.7 959.8h11.6v10.5h-11.6zM525.6 949.6h11.6v10.5h-11.6zM525.6 939.3h11.6v10.5h-11.6zM593.3 939.3h11.6v10.5h-11.6zM604.6 929.1h11.6v10.5h-11.6zM536.9 908.6h11.6v10.5h-11.6zM548.2 888.2h11.6v10.5h-11.6zM559.4 877.9h11.6v10.5h-11.6zM570.7 867.7h11.6v10.5h-11.6zM582 857.5h11.6v10.5h-11.6zM661 847.2h11.6v10.5h-11.6zM627.2 837h11.6v10.5h-11.6zM661 837h11.6v10.5h-11.6zM661 826.8h11.6v10.5h-11.6z"/><path fill="#8d2f77" d="M548.2 970h11.6v10.5h-11.6zM536.9 959.8h11.6v10.5h-11.6zM582 949.6h11.6v10.5h-11.6zM536.9 918.9h11.6v10.5h-11.6zM548.2 898.4h11.6v10.5h-11.6zM638.4 888.2h11.6v10.5h-11.6zM649.7 867.7h11.6v10.5h-11.6zM604.6 847.2h11.6v10.5h-11.6zM638.4 837h11.6v10.5h-11.6z"/><path fill="#892f7a" d="M548.2 959.8h11.6v10.5h-11.6zM559.4 959.8h11.6v10.5h-11.6zM536.9 949.6h11.6v10.5h-11.6zM536.9 939.3h11.6v10.5h-11.6zM536.9 929.1h11.6v10.5h-11.6zM559.4 888.2h11.6v10.5h-11.6zM593.3 857.5h11.6v10.5h-11.6zM649.7 857.5h11.6v10.5h-11.6zM615.9 847.2h11.6v10.5h-11.6zM649.7 837h11.6v10.5h-11.6z"/><path fill="#84307c" d="M548.2 949.6h11.6v10.5h-11.6zM570.7 949.6h11.6v10.5h-11.6zM582 939.3h11.6v10.5h-11.6zM593.3 929.1h11.6v10.5h-11.6zM548.2 918.9h11.6v10.5h-11.6zM548.2 908.6h11.6v10.5h-11.6zM615.9 908.6h11.6v10.5h-11.6zM627.2 898.4h11.6v10.5h-11.6zM570.7 877.9h11.6v10.5h-11.6zM638.4 877.9h11.6v10.5h-11.6zM582 867.7h11.6v10.5h-11.6zM627.2 847.2h11.6v10.5h-11.6zM649.7 847.2h11.6v10.5h-11.6z"/><path fill="#80307e" d="M559.4 949.6h11.6v10.5h-11.6zM548.2 939.3h11.6v10.5h-11.6zM548.2 929.1h11.6v10.5h-11.6zM604.6 918.9h11.6v10.5h-11.6zM559.4 898.4h11.6v10.5h-11.6zM604.6 857.5h11.6v10.5h-11.6zM638.4 847.2h11.6v10.5h-11.6z"/><path fill="#7b3080" d="M559.4 939.3h11.6v10.5h-11.6zM570.7 939.3h11.6v10.5h-11.6zM559.4 929.1h11.6v10.5h-11.6zM582 929.1h11.6v10.5h-11.6zM559.4 918.9h11.6v10.5h-11.6zM559.4 908.6h11.6v10.5h-11.6zM570.7 888.2h11.6v10.5h-11.6zM627.2 888.2h11.6v10.5h-11.6zM582 877.9h11.6v10.5h-11.6zM593.3 867.7h11.6v10.5h-11.6zM638.4 867.7h11.6v10.5h-11.6zM615.9 857.5h11.6v10.5h-11.6zM638.4 857.5h11.6v10.5h-11.6z"/><path fill="#763181" d="M570.7 929.1h11.6v10.5h-11.6zM570.7 918.9h11.6v10.5h-11.6zM593.3 918.9h11.6v10.5h-11.6zM570.7 908.6h11.6v10.5h-11.6zM604.6 908.6h11.6v10.5h-11.6zM570.7 898.4h11.6v10.5h-11.6zM615.9 898.4h11.6v10.5h-11.6zM627.2 857.5h11.6v10.5h-11.6z"/><path fill="#713283" d="M582 918.9h11.6v10.5h-11.6zM582 908.6h11.6v10.5h-11.6zM593.3 908.6h11.6v10.5h-11.6zM582 898.4h11.6v10.5h-11.6zM582 888.2h11.6v10.5h-11.6zM593.3 877.9h11.6v10.5h-11.6zM627.2 877.9h11.6v10.5h-11.6zM604.6 867.7h11.6v10.5h-11.6zM627.2 867.7h11.6v10.5h-11.6z"/><path fill="#6c3283" d="M593.3 898.4h11.6v10.5h-11.6zM604.6 898.4h11.6v10.5h-11.6zM593.3 888.2h11.6v10.5h-11.6zM615.9 888.2h11.6v10.5h-11.6zM604.6 877.9h11.6v10.5h-11.6zM615.9 877.9h11.6v10.5h-11.6zM615.9 867.7h11.6v10.5h-11.6z"/><path fill="#673384" d="M604.6 888.2h11.6v10.5h-11.6z"/></g><g fill="none" stroke="#808080" stroke-width="4.17" stroke-linejoin="round" stroke-linecap="butt"><path d="M339 1381C351 1378.7 350.3 1375 375 1374C399.7 1373 400.3 1376.7 413 1378"/><path d="M343 1304C360.3 1302.3 363 1297 395 1299C427 1301 412 1299.7 439 1310C466 1320.3 463.7 1323.3 476 1330"/><path d="M340 1226C361 1225.3 368.3 1219 403 1224C437.7 1229 418.7 1227.7 444 1241C469.3 1254.3 459.1 1248.1 479 1264C498.9 1279.9 495.5 1280.5 503.8 1288.8Q508 1293 511.6 1293.2Q513 1293.3 520 1291"/><path d="M342 1131C352 1134 342.3 1130.3 372 1140C401.7 1149.7 395.3 1143.7 431 1160C466.7 1176.3 450.3 1171.7 479 1189C507.7 1206.3 496.7 1192 517 1212C537.3 1232 532.2 1236.6 539.8 1248.9Q543 1254 549.3 1254.5Q551.8 1254.6 564 1251"/><path d="M340 1018C355.7 1032.7 346 1034 387 1062C428 1090 422.7 1079 463 1102C503.3 1125 482.3 1111.7 508 1131C533.7 1150.3 521.2 1134.4 540 1160C558.8 1185.6 556.2 1191.8 564.3 1207.7Q567 1213 578.9 1214.7Q584.6 1215.5 609 1210"/><path d="M364 912C374.3 933 370 939 395 975C420 1011 405.3 996.3 439 1020C472.7 1043.7 460.3 1023.3 496 1046C531.7 1068.7 520 1059.7 546 1088C572 1116.3 557.2 1102.1 574 1131C590.8 1159.9 588.8 1160.1 596.3 1174.7Q599 1180 611 1180.4Q621.3 1180.7 652 1170"/><path d="M408 851C420 871.7 420 877 444 913C468 949 452 932 480 959C508 986 497.3 969.7 528 994C558.7 1018.3 545.7 1003 572 1032C598.3 1061 587.8 1046.8 607 1081C626.2 1115.2 622.1 1116.7 629.7 1134.5Q632 1140 644 1140.8Q659.3 1141.7 697 1130"/><path d="M449 800C463.3 821.3 466.3 824 492 864C517.7 904 501.3 892.3 526 920C550.7 947.7 537.3 925.7 566 947C594.7 968.3 585 947.7 612 984C639 1020.3 630.1 1019.8 647 1056C663.9 1092.2 657.4 1080.3 662.6 1092.5Q665 1098 677 1099Q697.3 1100.7 742 1089"/><path d="M493 755C503 770 502 768.7 523 800C544 831.3 528.7 815.7 556 849C583.3 882.3 580 872 605 900C630 928 611 909.7 631 933C651 956.3 642.5 933.2 665 970C687.5 1006.8 687.3 1019 698.5 1043.5Q701 1049 712.8 1051Q737.1 1055.1 787 1048"/><path d="M555 708C568.3 738.7 564.7 753.3 595 800C625.3 846.7 617.7 819 646 848C674.3 877 658.7 860.3 680 887C701.3 913.7 691.3 897 710 928C728.7 959 724.3 953.6 736 980C747.7 1006.4 742.1 998.2 745.1 1007.3Q747 1013 758.9 1014.7Q779.8 1017.8 825 1009"/><path d="M602 674C633 717.7 646 741.7 695 805C744 868.3 722.7 823 749 864C775.3 905 763.1 894 774 928C784.9 962 779.2 953.4 781.8 966.1Q783 972 794.9 973.5Q821.6 976.8 875 968"/><path d="M650 648C679.3 687 691.3 704.3 738 765C784.7 825.7 764.3 785 790 830C815.7 875 804.5 867.6 815 900C825.5 932.4 819.4 918.1 821.6 927.2Q823 933 834.9 934.8Q858.3 938.2 907 930"/><path d="M698 618C724.3 657 733 674.3 777 735C821 795.7 802.3 749.2 830 800C857.7 850.8 850 858.2 860 887.3Q862 893 873.9 894.5Q899.8 897.8 952 889"/><path d="M748 593C773.7 629.3 787.7 648.7 825 702C862.3 755.3 839 716 860 753C881 790 874.4 781.5 888 813C901.6 844.5 896.6 835.9 900.9 847.4Q903 853 914.9 854.5Q942.5 857.8 997 849"/><path d="M808 565C832 597.7 844.3 613 880 663C915.7 713 895 677.7 915 715C935 752.3 927.4 743.5 940 775C952.6 806.5 948.6 797.9 952.9 809.4Q955 815 966.9 816.3Q990.7 819 1040 809"/><path d="M870 543C891.7 571.3 901.7 582.3 935 628C968.3 673.7 950 642.7 970 680C990 717.3 983 710.2 995 740C1007 769.8 1002.3 759.6 1005.9 769.4Q1008 775 1019.9 776.3Q1040.3 778.6 1085 768"/><path d="M928 513C950 540 961.7 551.7 994 594C1026.3 636.3 1006.3 604.7 1025 640C1043.7 675.3 1038.6 670.2 1050 700C1061.4 729.8 1056.1 719.5 1059.2 729.3Q1061 735 1072.9 736.4Q1090 738.3 1130 728"/><path d="M992 493C1011.3 518 1020.7 527.3 1050 568C1079.3 608.7 1062.3 582.7 1080 615C1097.7 647.3 1092.4 640.5 1103 665C1113.6 689.5 1108.9 680.6 1111.9 688.4Q1114 694 1125.9 695.4Q1138.8 696.8 1173 688"/><path d="M1052 473C1071.3 496.7 1080.7 505 1110 544C1139.3 583 1121.2 555.5 1140 590C1158.8 624.5 1157.7 628.4 1166.5 647.5Q1169 653 1180.9 654.1Q1189.6 654.9 1218 647"/><path d="M1119 462C1137.7 481.3 1146.3 485.7 1175 520C1203.7 554.3 1188.5 536.5 1205 565C1221.5 593.5 1217.9 592.1 1224.4 605.6Q1227 611 1237.8 612.1Q1242.1 612.6 1263 607"/><path d="M1187 442C1205.3 460 1215 465 1242 496C1269 527 1254.8 512.2 1268 535C1281.2 557.8 1277 554.7 1281.5 564.5Q1284 570 1291.2 570.7Q1294.1 570.9 1308 567"/><path d="M1262 432C1277.7 446.3 1283.4 445 1309 475C1334.6 505 1328.9 506.3 1338.8 521.9Q1342 527 1345 527.3Q1346.2 527.5 1352 526"/><path d="M1330 413C1347.3 427.7 1356.3 431.3 1382 457C1407.7 482.7 1398.7 479 1407 490"/><path d="M1415 415C1427 421.3 1435.3 424 1451 434C1466.7 444 1458.3 441.3 1462 445"/></g><path d="M351 1358.5 L362.1 1329.7 L373.1 1301.5 L384.2 1273.6 L395.3 1246.1 L406.4 1218.8 L417.4 1192.2 L428.5 1167.4 L439.6 1145.1 L450.7 1124.5 L461.7 1105 L472.8 1086.3 L483.9 1068.2 L495 1050.3 L506 1032.5 L517.1 1014.8 L528.2 997.3 L539.2 980.6 L550.3 964.5 L561.4 949.1 L572.5 934.2 L583.5 919.9 L594.6 906.1 L605.7 892.8 L616.8 880.3 L627.8 868.5 L638.9 857.2 L650 846 L661.1 834.8 L672.1 823.7 L683.2 812.8 L694.3 802.4 L705.4 792.3 L716.4 782.5 L727.5 772.9 L738.6 763.5 L749.6 754.3 L760.7 745.3 L771.8 736.6 L782.9 728.1 L793.9 719.9 L805 712 L816.1 704.6 L827.2 697.7 L838.2 691.1 L849.3 684.3 L860.4 677.4 L871.5 670.6 L882.5 663.9 L893.6 657.2 L904.7 650.4 L915.7 643.6 L926.8 636.8 L937.9 630.1 L949 623.6 L960 617.4 L971.1 611.5 L982.2 605.8 L993.3 600.3 L1004.3 594.9 L1015.4 589.7 L1026.5 584.6 L1037.6 579.6 L1048.6 574.6 L1059.7 569.7 L1070.8 564.9 L1081.8 560.1 L1092.9 555.4 L1104 550.9 L1115.1 546.4 L1126.1 541.9 L1137.2 537.5 L1148.3 533.2 L1159.4 528.8 L1170.4 524.6 L1181.5 520.5 L1192.6 516.5 L1203.7 512.8 L1214.7 509 L1225.8 505.3 L1236.9 501.6 L1247.9 497.9 L1259 494.2 L1270.1 490.7 L1281.2 487.4 L1292.2 484.2 L1303.3 481.2 L1314.4 478.3 L1325.5 475.4 L1336.5 472.5 L1347.6 469.6 L1358.7 466.8 L1369.8 464.2 L1380.8 461.7 L1391.9 459.5 L1403 457.5 L1414.1 455.7 L1425.1 453.9 L1436.2 452.1 L1447.3 450.2 L1456.5 448.5" fill="none" stroke="#000" stroke-width="20.8" stroke-linecap="butt" stroke-linejoin="round"/><path d="M350.5 1356Q343.5 1369 340.5 1381" fill="none" stroke="#000" stroke-width="4.17"/><path d="M340 1501V300" fill="none" stroke="#000" stroke-width="4.17" stroke-dasharray="25 25"/><path d="M1457 1510V300" fill="none" stroke="#000" stroke-width="4.17" stroke-dasharray="25 25"/><g fill="#fff" font-size="37.5" text-anchor="middle"><text transform="translate(362 1374) rotate(-7.5)" y="13.5">1160</text><text transform="translate(376 1294) rotate(-5)" y="13.5">1180</text><text transform="translate(400.5 1223) rotate(11)" y="13.5">1200</text><text transform="translate(432 1160) rotate(27)" y="13.5">1220</text><text transform="translate(463 1102) rotate(33)" y="13.5">1240</text><text transform="translate(497 1046) rotate(38)" y="13.5">1260</text><text transform="translate(529 992) rotate(42)" y="13.5">1280</text><text transform="translate(566 947) rotate(47)" y="13.5">1300</text><text transform="translate(606 902) rotate(52)" y="13.5">1320</text><text transform="translate(647 850) rotate(52)" y="13.5">1340</text><text transform="translate(695 805) rotate(50)" y="13.5">1360</text><text transform="translate(738 765) rotate(50)" y="13.5">1380</text><text transform="translate(777 735) rotate(52)" y="13.5">1400</text><text transform="translate(825 702) rotate(53)" y="13.5">1420</text><text transform="translate(880 663) rotate(55)" y="13.5">1440</text><text transform="translate(935 628) rotate(56)" y="13.5">1460</text><text transform="translate(994 594) rotate(57)" y="13.5">1480</text><text transform="translate(1050 568) rotate(57)" y="13.5">1500</text><text transform="translate(1110 544) rotate(57)" y="13.5">1520</text><text transform="translate(1175 520) rotate(57)" y="13.5">1540</text><text transform="translate(1241 497.5) rotate(55)" y="13.5">1560</text><text transform="translate(1310.5 472) rotate(54.5)" y="13.5">1580</text><text transform="translate(1381.5 458) rotate(51.5)" y="13.5">1600</text><text transform="translate(1449.5 436) rotate(53)" y="13.5">1620</text></g></g>
<path d="M384.9 1500v-16.7M384.9 300v16.7M600.3 1500v-16.7M600.3 300v16.7M815.7 1500v-16.7M815.7 300v16.7M1031.1 1500v-16.7M1031.1 300v16.7M1246.5 1500v-16.7M1246.5 300v16.7M1461.9 1500v-16.7M1461.9 300v16.7M300 1364h16.7M1500 1364h-16.7M300 1214h16.7M1500 1214h-16.7M300 1064h16.7M1500 1064h-16.7M300 914h16.7M1500 914h-16.7M300 764h16.7M1500 764h-16.7M300 614h16.7M1500 614h-16.7M300 464h16.7M1500 464h-16.7M300 314h16.7M1500 314h-16.7" stroke="#000" stroke-width="2.1" fill="none"/>
<rect x="300" y="300" width="1200" height="1200" fill="none" stroke="#000" stroke-width="4.17"/>
<rect x="1575" y="300" width="75" height="1200" fill="url(#cb)"/><path d="M1650 1500h-16.7M1650 1359h-16.7M1650 1218h-16.7M1650 1077h-16.7M1650 936h-16.7M1650 795h-16.7M1650 654h-16.7M1650 513h-16.7M1650 372h-16.7" stroke="#000" stroke-width="2.1" fill="none"/><rect x="1575" y="300" width="75" height="1200" fill="none" stroke="#000" stroke-width="4.17"/>
<g font-size="58.33" fill="#000"><text x="384.9" y="1563.3" text-anchor="middle">−4</text><text x="600.3" y="1563.3" text-anchor="middle">−3</text><text x="815.7" y="1563.3" text-anchor="middle">−2</text><text x="1031.1" y="1563.3" text-anchor="middle">−1</text><text x="1246.5" y="1563.3" text-anchor="middle">0</text><text x="1461.9" y="1563.3" text-anchor="middle">1</text><text x="283" y="1380.2" text-anchor="end">1.80</text><text x="283" y="1230.2" text-anchor="end">1.85</text><text x="283" y="1080.2" text-anchor="end">1.90</text><text x="283" y="930.2" text-anchor="end">1.95</text><text x="283" y="780.2" text-anchor="end">2.00</text><text x="283" y="630.2" text-anchor="end">2.05</text><text x="283" y="480.2" text-anchor="end">2.10</text><text x="283" y="330.2" text-anchor="end">2.15</text><text x="1668" y="1516.2">0.00</text><text x="1668" y="1375.2">0.25</text><text x="1668" y="1234.2">0.50</text><text x="1668" y="1093.2">0.75</text><text x="1668" y="952.2">1.00</text><text x="1668" y="811.2">1.25</text><text x="1668" y="670.2">1.50</text><text x="1668" y="529.2">1.75</text><text x="1668" y="388.2">2.00</text></g>
<text x="900" y="1650.3" font-size="75" text-anchor="middle">C1 (deg)</text>
<text transform="translate(116.2 900) rotate(-90)" font-size="75" text-anchor="middle">D1 (mm)</text>
<text transform="translate(1881 909.6) rotate(-90)" font-size="75" text-anchor="middle">intensity</text>
</svg>
</body></html>
